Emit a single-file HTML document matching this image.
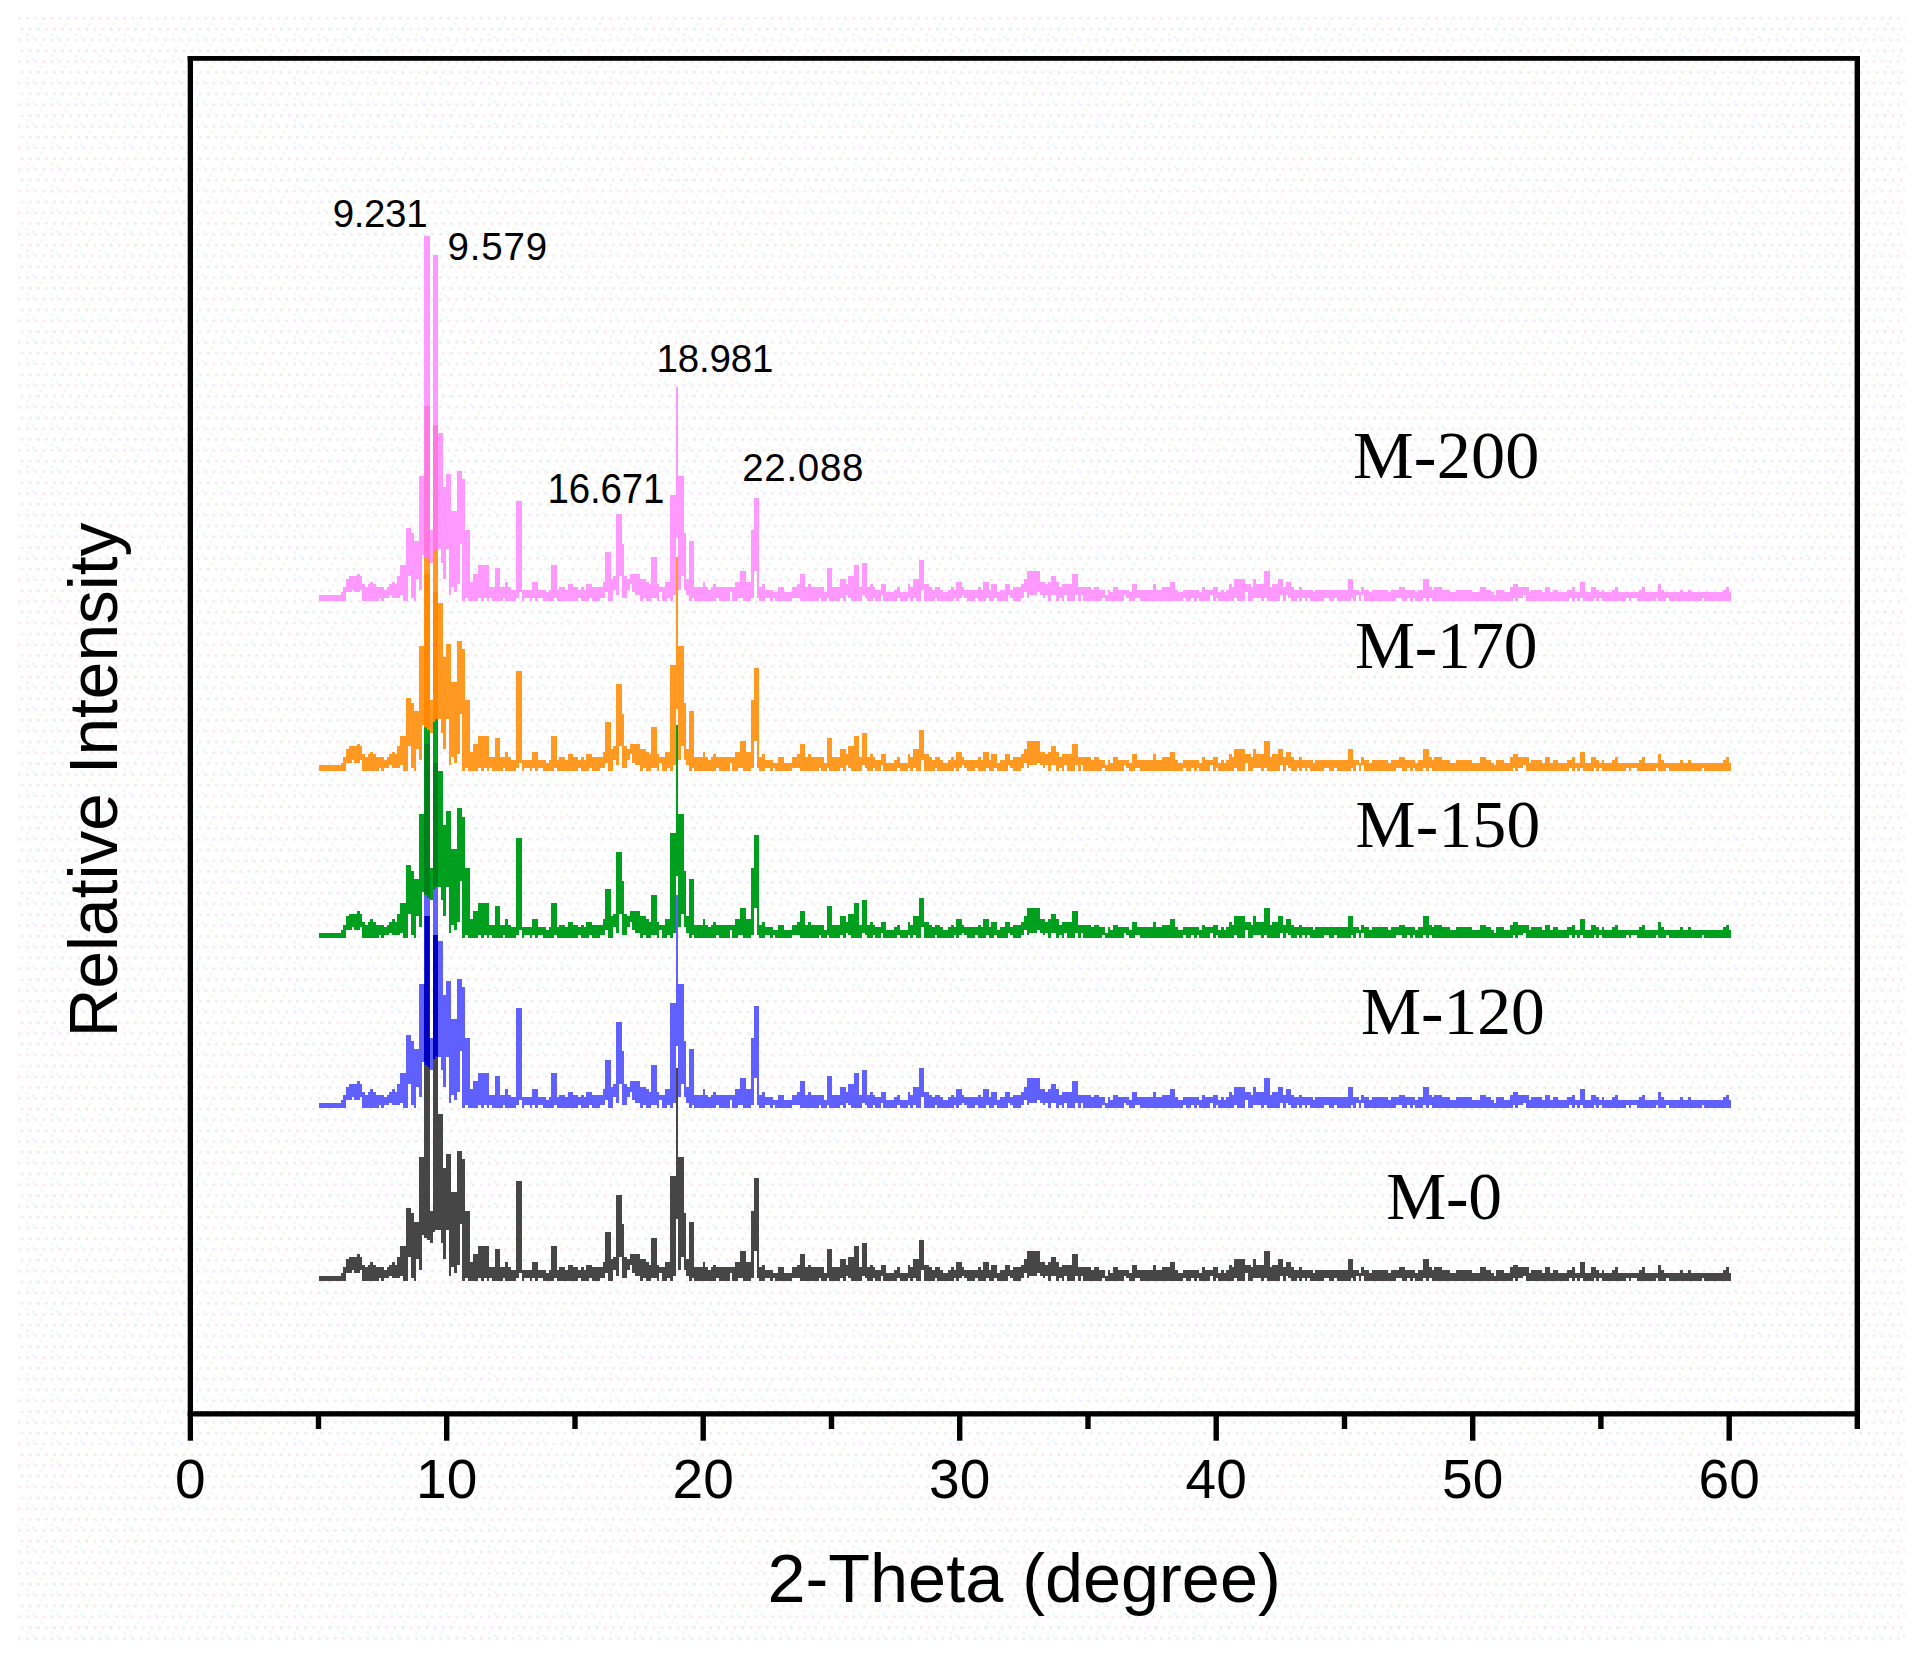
<!DOCTYPE html>
<html><head><meta charset="utf-8"><title>XRD patterns</title><style>html,body{margin:0;padding:0;background:#fff;overflow:hidden}svg{display:block}</style></head><body>
<svg width="1925" height="1662" viewBox="0 0 1925 1662">
<rect width="1925" height="1662" fill="#fff"/>
<defs><pattern id="dots" x="18" y="17" width="24.3" height="21.6" patternUnits="userSpaceOnUse"><rect x="0" y="0" width="2.7" height="2.7" fill="#f9e6f4"/><rect x="8.1" y="0" width="2.7" height="2.7" fill="#f9e6f4"/><rect x="16.2" y="0" width="2.7" height="2.7" fill="#f9e6f4"/><rect x="2.7" y="10.8" width="2.7" height="2.7" fill="#f9e6f4"/><rect x="10.8" y="10.8" width="2.7" height="2.7" fill="#f9e6f4"/><rect x="18.9" y="10.8" width="2.7" height="2.7" fill="#e3eee7"/><rect x="8.1" y="16.2" width="2.7" height="2.7" fill="#f0fbe8"/><rect x="13.5" y="18.9" width="2.7" height="2.7" fill="#e8fbfb"/><rect x="21.6" y="5.4" width="2.7" height="2.7" fill="#f0fbe8"/></pattern></defs>
<rect x="18" y="17" width="1888" height="1625" fill="url(#dots)" shape-rendering="crispEdges"/>
<defs><clipPath id="cp1"><path d="M319.1,1102.7H321.8H324.5H327.2H329.9H332.6H335.3H338.0H340.7V1100.0H343.4V1094.6H346.1V1086.5H348.8V1083.8H351.5H354.2H356.9V1081.1H359.6V1083.8H362.3V1091.9H365.0V1094.6H367.7V1091.9H370.4V1089.2H373.1V1091.9H375.8V1094.6H378.5H381.2H383.9V1097.3H386.6V1094.6H389.3V1091.9H392.0V1089.2H394.7V1091.9H397.4V1083.8H400.1V1073.0H402.8H405.5V1035.2H408.2H410.9V1040.6H413.6V1048.7H416.3H419.0V983.9H421.7H424.4V743.6H427.1H429.8V1037.9H432.5V762.5H435.2H437.9V940.7H440.6H443.3V994.7H446.0V981.2H448.7H451.4V1019.0H454.1H456.8V978.5H459.5H462.2V986.6H464.9V1037.9H467.6H470.3V1089.2H473.0V1081.1H475.7H478.4V1073.0H481.1H483.8H486.5H489.2V1094.6H491.9H494.6V1075.7H497.3H500.0V1094.6H502.7H505.4V1089.2H508.1V1094.6H510.8V1097.3H513.5H516.2V1008.2H518.9H521.6V1097.3H524.3H527.0H529.7H532.4V1089.2H535.1H537.8V1097.3H540.5H543.2H545.9V1100.0H548.6V1097.3H551.3V1073.0H554.0H556.7V1097.3H559.4V1094.6H562.1H564.8V1097.3H567.5V1091.9H570.2H572.9V1094.6H575.6H578.3V1097.3H581.0V1094.6H583.7V1097.3H586.4V1091.9H589.1H591.8V1094.6H594.5H597.2H599.9H602.6V1089.2H605.3V1059.5H608.0H610.7V1086.5H613.4V1083.8H616.1V1021.7H618.8H621.5V1051.4H624.2V1083.8H626.9V1086.5H629.6V1081.1H632.3H635.0H637.7H640.4V1086.5H643.1H645.8V1089.2H648.5V1091.9H651.2V1064.9H653.9H656.6V1091.9H659.3V1094.6H662.0H664.7V1089.2H667.4H670.1V1002.8H672.8H675.5V894.8H678.2V983.9H680.9H683.6V1040.6H686.3V1086.5H689.0V1048.7H691.7H694.4V1094.6H697.1H699.8H702.5V1089.2H705.2V1094.6H707.9V1097.3H710.6V1094.6H713.3V1091.9H716.0V1094.6H718.7H721.4H724.1H726.8H729.5H732.2H734.9V1089.2H737.6H740.3V1078.4H743.0H745.7V1089.2H748.4H751.1V1037.9H753.8V1005.5H756.5H759.2V1094.6H761.9V1091.9H764.6V1097.3H767.3H770.0H772.7V1100.0H775.4H778.1V1094.6H780.8H783.5V1100.0H786.2H788.9H791.6V1094.6H794.3H797.0V1091.9H799.7V1081.1H802.4H805.1V1094.6H807.8V1091.9H810.5V1094.6H813.2H815.9H818.6H821.3H824.0V1100.0H826.7V1075.7H829.4H832.1V1094.6H834.8H837.5H840.2V1086.5H842.9H845.6V1091.9H848.3V1083.8H851.0H853.7V1073.0H856.4H859.1V1094.6H861.8V1070.3H864.5H867.2V1094.6H869.9V1091.9H872.6V1094.6H875.3V1097.3H878.0H880.7V1091.9H883.4H886.1V1100.0H888.8H891.5H894.2V1097.3H896.9V1094.6H899.6V1100.0H902.3H905.0H907.7V1091.9H910.4V1094.6H913.1V1086.5H915.8H918.5V1067.6H921.2H923.9V1091.9H926.6H929.3V1094.6H932.0V1097.3H934.7V1094.6H937.4H940.1V1097.3H942.8V1100.0H945.5H948.2V1097.3H950.9V1094.6H953.6V1097.3H956.3V1089.2H959.0H961.7V1094.6H964.4V1097.3H967.1H969.8H972.5H975.2H977.9V1094.6H980.6V1097.3H983.3V1089.2H986.0H988.7V1097.3H991.4V1091.9H994.1H996.8V1100.0H999.5V1097.3H1002.2H1004.9V1091.9H1007.6H1010.3V1097.3H1013.0V1094.6H1015.7H1018.4H1021.1V1091.9H1023.8V1086.5H1026.5V1078.4H1029.2H1031.9H1034.6H1037.3H1040.0V1089.2H1042.7H1045.4V1091.9H1048.1V1089.2H1050.8V1083.8H1053.5H1056.2V1089.2H1058.9V1094.6H1061.6V1091.9H1064.3H1067.0H1069.7H1072.4V1081.1H1075.1H1077.8V1094.6H1080.5H1083.2H1085.9H1088.6H1091.3V1097.3H1094.0V1094.6H1096.7H1099.4V1097.3H1102.1H1104.8V1102.7H1107.5V1097.3H1110.2V1100.0H1112.9V1094.6H1115.6H1118.3V1097.3H1121.0H1123.7H1126.4H1129.1V1100.0H1131.8V1091.9H1134.5H1137.2V1097.3H1139.9H1142.6H1145.3H1148.0H1150.7H1153.4V1091.9H1156.1V1097.3H1158.8H1161.5V1094.6H1164.2H1166.9H1169.6V1089.2H1172.3H1175.0V1097.3H1177.7V1100.0H1180.4H1183.1V1097.3H1185.8H1188.5H1191.2H1193.9H1196.6H1199.3V1100.0H1202.0V1094.6H1204.7V1097.3H1207.4H1210.1H1212.8V1094.6H1215.5H1218.2V1100.0H1220.9V1097.3H1223.6V1100.0H1226.3V1097.3H1229.0V1091.9H1231.7V1094.6H1234.4V1086.5H1237.1H1239.8H1242.5H1245.2V1091.9H1247.9H1250.6V1094.6H1253.3V1086.5H1256.0V1091.9H1258.7H1261.4H1264.1V1078.4H1266.8H1269.5V1094.6H1272.2V1091.9H1274.9H1277.6V1086.5H1280.3H1283.0V1094.6H1285.7V1089.2H1288.4H1291.1V1094.6H1293.8V1097.3H1296.5H1299.2V1094.6H1301.9V1097.3H1304.6H1307.3H1310.0H1312.7V1100.0H1315.4V1097.3H1318.1H1320.8H1323.5H1326.2H1328.9H1331.6H1334.3H1337.0H1339.7H1342.4H1345.1H1347.8V1086.5H1350.5H1353.2V1097.3H1355.9H1358.6V1100.0H1361.3V1094.6H1364.0V1097.3H1366.7H1369.4V1100.0H1372.1V1097.3H1374.8H1377.5H1380.2H1382.9H1385.6H1388.3V1100.0H1391.0V1097.3H1393.7H1396.4H1399.1V1094.6H1401.8H1404.5V1097.3H1407.2H1409.9H1412.6H1415.3V1100.0H1418.0V1097.3H1420.7H1423.4V1086.5H1426.1H1428.8V1094.6H1431.5V1097.3H1434.2V1094.6H1436.9H1439.6H1442.3V1097.3H1445.0H1447.7H1450.4V1100.0H1453.1H1455.8V1097.3H1458.5H1461.2H1463.9H1466.6H1469.3H1472.0V1100.0H1474.7H1477.4H1480.1V1094.6H1482.8H1485.5V1097.3H1488.2H1490.9V1100.0H1493.6V1102.7H1496.3V1097.3H1499.0H1501.7H1504.4V1100.0H1507.1H1509.8V1094.6H1512.5V1091.9H1515.2H1517.9V1094.6H1520.6H1523.3H1526.0H1528.7V1100.0H1531.4V1097.3H1534.1H1536.8H1539.5H1542.2V1100.0H1544.9V1094.6H1547.6H1550.3V1100.0H1553.0V1097.3H1555.7H1558.4V1100.0H1561.1H1563.8H1566.5V1097.3H1569.2H1571.9V1094.6H1574.6V1100.0H1577.3H1580.0V1089.2H1582.7H1585.4V1100.0H1588.1H1590.8V1094.6H1593.5H1596.2V1097.3H1598.9V1100.0H1601.6V1097.3H1604.3V1100.0H1607.0H1609.7H1612.4V1097.3H1615.1V1094.6H1617.8V1100.0H1620.5H1623.2H1625.9H1628.6H1631.3H1634.0H1636.7H1639.4V1097.3H1642.1V1094.6H1644.8V1100.0H1647.5H1650.2H1652.9H1655.6H1658.3V1091.9H1661.0V1097.3H1663.7V1100.0H1666.4H1669.1H1671.8H1674.5H1677.2H1679.9V1097.3H1682.6V1100.0H1685.3H1688.0V1097.3H1690.7V1100.0H1693.4H1696.1H1698.8H1701.5H1704.2H1706.9H1709.6H1712.3H1715.0H1717.7H1720.4H1723.1V1097.3H1725.8V1094.6H1728.5V1100.0H1731.2V1108.1H1728.5H1725.8H1723.1H1720.4H1717.7H1715.0H1712.3H1709.6H1706.9H1704.2V1105.4H1701.5V1108.1H1698.8H1696.1H1693.4H1690.7H1688.0H1685.3H1682.6H1679.9H1677.2H1674.5H1671.8H1669.1V1105.4H1666.4V1108.1H1663.7H1661.0H1658.3V1105.4H1655.6V1108.1H1652.9H1650.2H1647.5H1644.8H1642.1H1639.4H1636.7V1105.4H1634.0H1631.3V1108.1H1628.6V1105.4H1625.9V1108.1H1623.2H1620.5H1617.8H1615.1H1612.4H1609.7H1607.0H1604.3H1601.6V1105.4H1598.9V1108.1H1596.2V1105.4H1593.5V1108.1H1590.8H1588.1H1585.4H1582.7V1105.4H1580.0V1108.1H1577.3V1105.4H1574.6V1108.1H1571.9V1105.4H1569.2V1108.1H1566.5H1563.8H1561.1H1558.4H1555.7H1553.0H1550.3H1547.6H1544.9H1542.2H1539.5H1536.8H1534.1H1531.4H1528.7H1526.0V1102.7H1523.3V1105.4H1520.6H1517.9V1108.1H1515.2V1105.4H1512.5V1108.1H1509.8H1507.1H1504.4H1501.7H1499.0H1496.3H1493.6H1490.9H1488.2H1485.5H1482.8H1480.1H1477.4H1474.7H1472.0H1469.3H1466.6H1463.9H1461.2H1458.5H1455.8H1453.1H1450.4H1447.7H1445.0H1442.3H1439.6H1436.9H1434.2H1431.5V1105.4H1428.8V1108.1H1426.1V1105.4H1423.4V1108.1H1420.7H1418.0H1415.3V1105.4H1412.6V1108.1H1409.9V1105.4H1407.2V1108.1H1404.5H1401.8V1105.4H1399.1H1396.4V1108.1H1393.7H1391.0H1388.3H1385.6H1382.9H1380.2H1377.5H1374.8H1372.1H1369.4H1366.7H1364.0V1102.7H1361.3V1108.1H1358.6V1102.7H1355.9V1108.1H1353.2V1105.4H1350.5V1108.1H1347.8H1345.1H1342.4H1339.7H1337.0V1105.4H1334.3V1108.1H1331.6H1328.9V1105.4H1326.2H1323.5V1108.1H1320.8H1318.1H1315.4H1312.7H1310.0V1105.4H1307.3V1108.1H1304.6V1105.4H1301.9V1108.1H1299.2V1105.4H1296.5V1108.1H1293.8H1291.1V1105.4H1288.4V1102.7H1285.7V1108.1H1283.0V1102.7H1280.3V1108.1H1277.6H1274.9H1272.2H1269.5H1266.8V1105.4H1264.1V1108.1H1261.4V1105.4H1258.7H1256.0H1253.3V1108.1H1250.6H1247.9V1100.0H1245.2V1108.1H1242.5H1239.8H1237.1V1105.4H1234.4V1108.1H1231.7H1229.0H1226.3H1223.6H1220.9H1218.2V1105.4H1215.5V1108.1H1212.8V1102.7H1210.1V1108.1H1207.4H1204.7H1202.0H1199.3V1105.4H1196.6V1108.1H1193.9V1105.4H1191.2V1108.1H1188.5H1185.8V1105.4H1183.1V1108.1H1180.4H1177.7H1175.0H1172.3H1169.6H1166.9H1164.2H1161.5H1158.8H1156.1H1153.4H1150.7H1148.0H1145.3H1142.6H1139.9V1105.4H1137.2H1134.5V1108.1H1131.8H1129.1V1105.4H1126.4V1102.7H1123.7V1108.1H1121.0H1118.3H1115.6H1112.9H1110.2H1107.5H1104.8V1105.4H1102.1V1108.1H1099.4H1096.7H1094.0H1091.3H1088.6H1085.9H1083.2V1102.7H1080.5V1108.1H1077.8V1102.7H1075.1V1108.1H1072.4H1069.7H1067.0V1102.7H1064.3V1108.1H1061.6V1105.4H1058.9V1108.1H1056.2V1102.7H1053.5H1050.8V1108.1H1048.1V1102.7H1045.4V1105.4H1042.7V1102.7H1040.0V1100.0H1037.3V1102.7H1034.6H1031.9H1029.2V1105.4H1026.5V1100.0H1023.8V1105.4H1021.1V1108.1H1018.4H1015.7H1013.0V1105.4H1010.3V1102.7H1007.6V1108.1H1004.9H1002.2H999.5H996.8V1105.4H994.1V1108.1H991.4H988.7V1105.4H986.0V1108.1H983.3H980.6H977.9V1105.4H975.2V1108.1H972.5H969.8H967.1V1105.4H964.4V1102.7H961.7V1105.4H959.0V1108.1H956.3V1105.4H953.6V1108.1H950.9H948.2H945.5H942.8H940.1H937.4V1105.4H934.7V1108.1H932.0H929.3H926.6H923.9V1097.3H921.2V1108.1H918.5H915.8V1105.4H913.1V1108.1H910.4V1105.4H907.7V1108.1H905.0H902.3H899.6V1105.4H896.9V1108.1H894.2H891.5H888.8H886.1H883.4V1102.7H880.7V1108.1H878.0H875.3V1105.4H872.6V1108.1H869.9H867.2V1105.4H864.5V1102.7H861.8V1108.1H859.1H856.4H853.7H851.0V1105.4H848.3V1102.7H845.6V1108.1H842.9V1105.4H840.2V1108.1H837.5H834.8H832.1H829.4V1105.4H826.7V1108.1H824.0H821.3V1105.4H818.6V1108.1H815.9H813.2H810.5H807.8H805.1H802.4H799.7V1105.4H797.0H794.3H791.6V1108.1H788.9H786.2H783.5H780.8H778.1H775.4V1105.4H772.7V1108.1H770.0V1105.4H767.3H764.6V1108.1H761.9H759.2V1105.4H756.5V1078.4H753.8V1105.4H751.1V1108.1H748.4H745.7H743.0V1105.4H740.3H737.6V1108.1H734.9H732.2V1100.0H729.5V1108.1H726.8H724.1H721.4H718.7V1105.4H716.0V1108.1H713.3H710.6H707.9H705.2H702.5H699.8H697.1H694.4V1105.4H691.7V1108.1H689.0V1102.7H686.3V1097.3H683.6V1083.8H680.9V1097.3H678.2V1046.0H675.5V1102.7H672.8V1108.1H670.1V1105.4H667.4V1108.1H664.7H662.0V1100.0H659.3V1108.1H656.6V1105.4H653.9H651.2V1108.1H648.5H645.8V1105.4H643.1V1108.1H640.4V1102.7H637.7H635.0V1100.0H632.3V1091.9H629.6V1097.3H626.9V1105.4H624.2H621.5V1083.8H618.8V1102.7H616.1V1097.3H613.4V1108.1H610.7H608.0V1100.0H605.3V1105.4H602.6H599.9V1108.1H597.2H594.5H591.8V1105.4H589.1V1108.1H586.4H583.7H581.0V1105.4H578.3V1108.1H575.6H572.9H570.2H567.5H564.8H562.1H559.4H556.7V1105.4H554.0V1108.1H551.3H548.6H545.9H543.2V1105.4H540.5H537.8V1108.1H535.1V1105.4H532.4V1108.1H529.7V1105.4H527.0H524.3V1108.1H521.6V1100.0H518.9V1105.4H516.2V1108.1H513.5H510.8H508.1H505.4V1105.4H502.7V1108.1H500.0H497.3H494.6H491.9V1105.4H489.2V1108.1H486.5V1105.4H483.8V1108.1H481.1V1105.4H478.4V1108.1H475.7H473.0H470.3H467.6V1105.4H464.9V1108.1H462.2V1051.4H459.5V1091.9H456.8V1100.0H454.1V1094.6H451.4V1102.7H448.7V1056.8H446.0V1086.5H443.3V1070.3H440.6V1056.8H437.9H435.2V1059.5H432.5V1070.3H429.8V1067.6H427.1V1064.9H424.4V1062.2H421.7V1097.3H419.0V1086.5H416.3V1108.1H413.6V1105.4H410.9V1083.8H408.2V1108.1H405.5H402.8V1102.7H400.1V1105.4H397.4H394.7H392.0V1102.7H389.3V1105.4H386.6H383.9V1108.1H381.2V1105.4H378.5V1108.1H375.8H373.1H370.4H367.7H365.0H362.3V1097.3H359.6V1100.0H356.9H354.2V1097.3H351.5V1100.0H348.8H346.1V1108.1H343.4H340.7H338.0H335.3H332.6H329.9H327.2H324.5H321.8H319.1Z"/></clipPath><clipPath id="cp2"><path d="M319.1,932.6H321.8H324.5H327.2H329.9H332.6H335.3H338.0H340.7V929.9H343.4V924.5H346.1V916.4H348.8V913.7H351.5H354.2H356.9V911.0H359.6V913.7H362.3V921.8H365.0V924.5H367.7V921.8H370.4V919.1H373.1V921.8H375.8V924.5H378.5H381.2H383.9V927.2H386.6V924.5H389.3V921.8H392.0V919.1H394.7V921.8H397.4V913.7H400.1V902.9H402.8H405.5V865.1H408.2H410.9V870.5H413.6V878.6H416.3H419.0V813.8H421.7H424.4V573.5H427.1H429.8V867.8H432.5V592.4H435.2H437.9V770.6H440.6H443.3V824.6H446.0V811.1H448.7H451.4V848.9H454.1H456.8V808.4H459.5H462.2V816.5H464.9V867.8H467.6H470.3V919.1H473.0V911.0H475.7H478.4V902.9H481.1H483.8H486.5H489.2V924.5H491.9H494.6V905.6H497.3H500.0V924.5H502.7H505.4V919.1H508.1V924.5H510.8V927.2H513.5H516.2V838.1H518.9H521.6V927.2H524.3H527.0H529.7H532.4V919.1H535.1H537.8V927.2H540.5H543.2H545.9V929.9H548.6V927.2H551.3V902.9H554.0H556.7V927.2H559.4V924.5H562.1H564.8V927.2H567.5V921.8H570.2H572.9V924.5H575.6H578.3V927.2H581.0V924.5H583.7V927.2H586.4V921.8H589.1H591.8V924.5H594.5H597.2H599.9H602.6V919.1H605.3V889.4H608.0H610.7V916.4H613.4V913.7H616.1V851.6H618.8H621.5V881.3H624.2V913.7H626.9V916.4H629.6V911.0H632.3H635.0H637.7H640.4V916.4H643.1H645.8V919.1H648.5V921.8H651.2V894.8H653.9H656.6V921.8H659.3V924.5H662.0H664.7V919.1H667.4H670.1V832.7H672.8H675.5V724.7H678.2V813.8H680.9H683.6V870.5H686.3V916.4H689.0V878.6H691.7H694.4V924.5H697.1H699.8H702.5V919.1H705.2V924.5H707.9V927.2H710.6V924.5H713.3V921.8H716.0V924.5H718.7H721.4H724.1H726.8H729.5H732.2H734.9V919.1H737.6H740.3V908.3H743.0H745.7V919.1H748.4H751.1V867.8H753.8V835.4H756.5H759.2V924.5H761.9V921.8H764.6V927.2H767.3H770.0H772.7V929.9H775.4H778.1V924.5H780.8H783.5V929.9H786.2H788.9H791.6V924.5H794.3H797.0V921.8H799.7V911.0H802.4H805.1V924.5H807.8V921.8H810.5V924.5H813.2H815.9H818.6H821.3H824.0V929.9H826.7V905.6H829.4H832.1V924.5H834.8H837.5H840.2V916.4H842.9H845.6V921.8H848.3V913.7H851.0H853.7V902.9H856.4H859.1V924.5H861.8V900.2H864.5H867.2V924.5H869.9V921.8H872.6V924.5H875.3V927.2H878.0H880.7V921.8H883.4H886.1V929.9H888.8H891.5H894.2V927.2H896.9V924.5H899.6V929.9H902.3H905.0H907.7V921.8H910.4V924.5H913.1V916.4H915.8H918.5V897.5H921.2H923.9V921.8H926.6H929.3V924.5H932.0V927.2H934.7V924.5H937.4H940.1V927.2H942.8V929.9H945.5H948.2V927.2H950.9V924.5H953.6V927.2H956.3V919.1H959.0H961.7V924.5H964.4V927.2H967.1H969.8H972.5H975.2H977.9V924.5H980.6V927.2H983.3V919.1H986.0H988.7V927.2H991.4V921.8H994.1H996.8V929.9H999.5V927.2H1002.2H1004.9V921.8H1007.6H1010.3V927.2H1013.0V924.5H1015.7H1018.4H1021.1V921.8H1023.8V916.4H1026.5V908.3H1029.2H1031.9H1034.6H1037.3H1040.0V919.1H1042.7H1045.4V921.8H1048.1V919.1H1050.8V913.7H1053.5H1056.2V919.1H1058.9V924.5H1061.6V921.8H1064.3H1067.0H1069.7H1072.4V911.0H1075.1H1077.8V924.5H1080.5H1083.2H1085.9H1088.6H1091.3V927.2H1094.0V924.5H1096.7H1099.4V927.2H1102.1H1104.8V932.6H1107.5V927.2H1110.2V929.9H1112.9V924.5H1115.6H1118.3V927.2H1121.0H1123.7H1126.4H1129.1V929.9H1131.8V921.8H1134.5H1137.2V927.2H1139.9H1142.6H1145.3H1148.0H1150.7H1153.4V921.8H1156.1V927.2H1158.8H1161.5V924.5H1164.2H1166.9H1169.6V919.1H1172.3H1175.0V927.2H1177.7V929.9H1180.4H1183.1V927.2H1185.8H1188.5H1191.2H1193.9H1196.6H1199.3V929.9H1202.0V924.5H1204.7V927.2H1207.4H1210.1H1212.8V924.5H1215.5H1218.2V929.9H1220.9V927.2H1223.6V929.9H1226.3V927.2H1229.0V921.8H1231.7V924.5H1234.4V916.4H1237.1H1239.8H1242.5H1245.2V921.8H1247.9H1250.6V924.5H1253.3V916.4H1256.0V921.8H1258.7H1261.4H1264.1V908.3H1266.8H1269.5V924.5H1272.2V921.8H1274.9H1277.6V916.4H1280.3H1283.0V924.5H1285.7V919.1H1288.4H1291.1V924.5H1293.8V927.2H1296.5H1299.2V924.5H1301.9V927.2H1304.6H1307.3H1310.0H1312.7V929.9H1315.4V927.2H1318.1H1320.8H1323.5H1326.2H1328.9H1331.6H1334.3H1337.0H1339.7H1342.4H1345.1H1347.8V916.4H1350.5H1353.2V927.2H1355.9H1358.6V929.9H1361.3V924.5H1364.0V927.2H1366.7H1369.4V929.9H1372.1V927.2H1374.8H1377.5H1380.2H1382.9H1385.6H1388.3V929.9H1391.0V927.2H1393.7H1396.4H1399.1V924.5H1401.8H1404.5V927.2H1407.2H1409.9H1412.6H1415.3V929.9H1418.0V927.2H1420.7H1423.4V916.4H1426.1H1428.8V924.5H1431.5V927.2H1434.2V924.5H1436.9H1439.6H1442.3V927.2H1445.0H1447.7H1450.4V929.9H1453.1H1455.8V927.2H1458.5H1461.2H1463.9H1466.6H1469.3H1472.0V929.9H1474.7H1477.4H1480.1V924.5H1482.8H1485.5V927.2H1488.2H1490.9V929.9H1493.6V932.6H1496.3V927.2H1499.0H1501.7H1504.4V929.9H1507.1H1509.8V924.5H1512.5V921.8H1515.2H1517.9V924.5H1520.6H1523.3H1526.0H1528.7V929.9H1531.4V927.2H1534.1H1536.8H1539.5H1542.2V929.9H1544.9V924.5H1547.6H1550.3V929.9H1553.0V927.2H1555.7H1558.4V929.9H1561.1H1563.8H1566.5V927.2H1569.2H1571.9V924.5H1574.6V929.9H1577.3H1580.0V919.1H1582.7H1585.4V929.9H1588.1H1590.8V924.5H1593.5H1596.2V927.2H1598.9V929.9H1601.6V927.2H1604.3V929.9H1607.0H1609.7H1612.4V927.2H1615.1V924.5H1617.8V929.9H1620.5H1623.2H1625.9H1628.6H1631.3H1634.0H1636.7H1639.4V927.2H1642.1V924.5H1644.8V929.9H1647.5H1650.2H1652.9H1655.6H1658.3V921.8H1661.0V927.2H1663.7V929.9H1666.4H1669.1H1671.8H1674.5H1677.2H1679.9V927.2H1682.6V929.9H1685.3H1688.0V927.2H1690.7V929.9H1693.4H1696.1H1698.8H1701.5H1704.2H1706.9H1709.6H1712.3H1715.0H1717.7H1720.4H1723.1V927.2H1725.8V924.5H1728.5V929.9H1731.2V938.0H1728.5H1725.8H1723.1H1720.4H1717.7H1715.0H1712.3H1709.6H1706.9H1704.2V935.3H1701.5V938.0H1698.8H1696.1H1693.4H1690.7H1688.0H1685.3H1682.6H1679.9H1677.2H1674.5H1671.8H1669.1V935.3H1666.4V938.0H1663.7H1661.0H1658.3V935.3H1655.6V938.0H1652.9H1650.2H1647.5H1644.8H1642.1H1639.4H1636.7V935.3H1634.0H1631.3V938.0H1628.6V935.3H1625.9V938.0H1623.2H1620.5H1617.8H1615.1H1612.4H1609.7H1607.0H1604.3H1601.6V935.3H1598.9V938.0H1596.2V935.3H1593.5V938.0H1590.8H1588.1H1585.4H1582.7V935.3H1580.0V938.0H1577.3V935.3H1574.6V938.0H1571.9V935.3H1569.2V938.0H1566.5H1563.8H1561.1H1558.4H1555.7H1553.0H1550.3H1547.6H1544.9H1542.2H1539.5H1536.8H1534.1H1531.4H1528.7H1526.0V932.6H1523.3V935.3H1520.6H1517.9V938.0H1515.2V935.3H1512.5V938.0H1509.8H1507.1H1504.4H1501.7H1499.0H1496.3H1493.6H1490.9H1488.2H1485.5H1482.8H1480.1H1477.4H1474.7H1472.0H1469.3H1466.6H1463.9H1461.2H1458.5H1455.8H1453.1H1450.4H1447.7H1445.0H1442.3H1439.6H1436.9H1434.2H1431.5V935.3H1428.8V938.0H1426.1V935.3H1423.4V938.0H1420.7H1418.0H1415.3V935.3H1412.6V938.0H1409.9V935.3H1407.2V938.0H1404.5H1401.8V935.3H1399.1H1396.4V938.0H1393.7H1391.0H1388.3H1385.6H1382.9H1380.2H1377.5H1374.8H1372.1H1369.4H1366.7H1364.0V932.6H1361.3V938.0H1358.6V932.6H1355.9V938.0H1353.2V935.3H1350.5V938.0H1347.8H1345.1H1342.4H1339.7H1337.0V935.3H1334.3V938.0H1331.6H1328.9V935.3H1326.2H1323.5V938.0H1320.8H1318.1H1315.4H1312.7H1310.0V935.3H1307.3V938.0H1304.6V935.3H1301.9V938.0H1299.2V935.3H1296.5V938.0H1293.8H1291.1V935.3H1288.4V932.6H1285.7V938.0H1283.0V932.6H1280.3V938.0H1277.6H1274.9H1272.2H1269.5H1266.8V935.3H1264.1V938.0H1261.4V935.3H1258.7H1256.0H1253.3V938.0H1250.6H1247.9V929.9H1245.2V938.0H1242.5H1239.8H1237.1V935.3H1234.4V938.0H1231.7H1229.0H1226.3H1223.6H1220.9H1218.2V935.3H1215.5V938.0H1212.8V932.6H1210.1V938.0H1207.4H1204.7H1202.0H1199.3V935.3H1196.6V938.0H1193.9V935.3H1191.2V938.0H1188.5H1185.8V935.3H1183.1V938.0H1180.4H1177.7H1175.0H1172.3H1169.6H1166.9H1164.2H1161.5H1158.8H1156.1H1153.4H1150.7H1148.0H1145.3H1142.6H1139.9V935.3H1137.2H1134.5V938.0H1131.8H1129.1V935.3H1126.4V932.6H1123.7V938.0H1121.0H1118.3H1115.6H1112.9H1110.2H1107.5H1104.8V935.3H1102.1V938.0H1099.4H1096.7H1094.0H1091.3H1088.6H1085.9H1083.2V932.6H1080.5V938.0H1077.8V932.6H1075.1V938.0H1072.4H1069.7H1067.0V932.6H1064.3V938.0H1061.6V935.3H1058.9V938.0H1056.2V932.6H1053.5H1050.8V938.0H1048.1V932.6H1045.4V935.3H1042.7V932.6H1040.0V929.9H1037.3V932.6H1034.6H1031.9H1029.2V935.3H1026.5V929.9H1023.8V935.3H1021.1V938.0H1018.4H1015.7H1013.0V935.3H1010.3V932.6H1007.6V938.0H1004.9H1002.2H999.5H996.8V935.3H994.1V938.0H991.4H988.7V935.3H986.0V938.0H983.3H980.6H977.9V935.3H975.2V938.0H972.5H969.8H967.1V935.3H964.4V932.6H961.7V935.3H959.0V938.0H956.3V935.3H953.6V938.0H950.9H948.2H945.5H942.8H940.1H937.4V935.3H934.7V938.0H932.0H929.3H926.6H923.9V927.2H921.2V938.0H918.5H915.8V935.3H913.1V938.0H910.4V935.3H907.7V938.0H905.0H902.3H899.6V935.3H896.9V938.0H894.2H891.5H888.8H886.1H883.4V932.6H880.7V938.0H878.0H875.3V935.3H872.6V938.0H869.9H867.2V935.3H864.5V932.6H861.8V938.0H859.1H856.4H853.7H851.0V935.3H848.3V932.6H845.6V938.0H842.9V935.3H840.2V938.0H837.5H834.8H832.1H829.4V935.3H826.7V938.0H824.0H821.3V935.3H818.6V938.0H815.9H813.2H810.5H807.8H805.1H802.4H799.7V935.3H797.0H794.3H791.6V938.0H788.9H786.2H783.5H780.8H778.1H775.4V935.3H772.7V938.0H770.0V935.3H767.3H764.6V938.0H761.9H759.2V935.3H756.5V908.3H753.8V935.3H751.1V938.0H748.4H745.7H743.0V935.3H740.3H737.6V938.0H734.9H732.2V929.9H729.5V938.0H726.8H724.1H721.4H718.7V935.3H716.0V938.0H713.3H710.6H707.9H705.2H702.5H699.8H697.1H694.4V935.3H691.7V938.0H689.0V932.6H686.3V927.2H683.6V913.7H680.9V927.2H678.2V875.9H675.5V932.6H672.8V938.0H670.1V935.3H667.4V938.0H664.7H662.0V929.9H659.3V938.0H656.6V935.3H653.9H651.2V938.0H648.5H645.8V935.3H643.1V938.0H640.4V932.6H637.7H635.0V929.9H632.3V921.8H629.6V927.2H626.9V935.3H624.2H621.5V913.7H618.8V932.6H616.1V927.2H613.4V938.0H610.7H608.0V929.9H605.3V935.3H602.6H599.9V938.0H597.2H594.5H591.8V935.3H589.1V938.0H586.4H583.7H581.0V935.3H578.3V938.0H575.6H572.9H570.2H567.5H564.8H562.1H559.4H556.7V935.3H554.0V938.0H551.3H548.6H545.9H543.2V935.3H540.5H537.8V938.0H535.1V935.3H532.4V938.0H529.7V935.3H527.0H524.3V938.0H521.6V929.9H518.9V935.3H516.2V938.0H513.5H510.8H508.1H505.4V935.3H502.7V938.0H500.0H497.3H494.6H491.9V935.3H489.2V938.0H486.5V935.3H483.8V938.0H481.1V935.3H478.4V938.0H475.7H473.0H470.3H467.6V935.3H464.9V938.0H462.2V881.3H459.5V921.8H456.8V929.9H454.1V924.5H451.4V932.6H448.7V886.7H446.0V916.4H443.3V900.2H440.6V886.7H437.9H435.2V889.4H432.5V900.2H429.8V897.5H427.1V894.8H424.4V892.1H421.7V927.2H419.0V916.4H416.3V938.0H413.6V935.3H410.9V913.7H408.2V938.0H405.5H402.8V932.6H400.1V935.3H397.4H394.7H392.0V932.6H389.3V935.3H386.6H383.9V938.0H381.2V935.3H378.5V938.0H375.8H373.1H370.4H367.7H365.0H362.3V927.2H359.6V929.9H356.9H354.2V927.2H351.5V929.9H348.8H346.1V938.0H343.4H340.7H338.0H335.3H332.6H329.9H327.2H324.5H321.8H319.1Z"/></clipPath><clipPath id="cp3"><path d="M319.1,765.2H321.8H324.5H327.2H329.9H332.6H335.3H338.0H340.7V762.5H343.4V757.1H346.1V749.0H348.8V746.3H351.5H354.2H356.9V743.6H359.6V746.3H362.3V754.4H365.0V757.1H367.7V754.4H370.4V751.7H373.1V754.4H375.8V757.1H378.5H381.2H383.9V759.8H386.6V757.1H389.3V754.4H392.0V751.7H394.7V754.4H397.4V746.3H400.1V735.5H402.8H405.5V697.7H408.2H410.9V703.1H413.6V711.2H416.3H419.0V646.4H421.7H424.4V406.1H427.1H429.8V700.4H432.5V425.0H435.2H437.9V603.2H440.6H443.3V657.2H446.0V643.7H448.7H451.4V681.5H454.1H456.8V641.0H459.5H462.2V649.1H464.9V700.4H467.6H470.3V751.7H473.0V743.6H475.7H478.4V735.5H481.1H483.8H486.5H489.2V757.1H491.9H494.6V738.2H497.3H500.0V757.1H502.7H505.4V751.7H508.1V757.1H510.8V759.8H513.5H516.2V670.7H518.9H521.6V759.8H524.3H527.0H529.7H532.4V751.7H535.1H537.8V759.8H540.5H543.2H545.9V762.5H548.6V759.8H551.3V735.5H554.0H556.7V759.8H559.4V757.1H562.1H564.8V759.8H567.5V754.4H570.2H572.9V757.1H575.6H578.3V759.8H581.0V757.1H583.7V759.8H586.4V754.4H589.1H591.8V757.1H594.5H597.2H599.9H602.6V751.7H605.3V722.0H608.0H610.7V749.0H613.4V746.3H616.1V684.2H618.8H621.5V713.9H624.2V746.3H626.9V749.0H629.6V743.6H632.3H635.0H637.7H640.4V749.0H643.1H645.8V751.7H648.5V754.4H651.2V727.4H653.9H656.6V754.4H659.3V757.1H662.0H664.7V751.7H667.4H670.1V665.3H672.8H675.5V557.3H678.2V646.4H680.9H683.6V703.1H686.3V749.0H689.0V711.2H691.7H694.4V757.1H697.1H699.8H702.5V751.7H705.2V757.1H707.9V759.8H710.6V757.1H713.3V754.4H716.0V757.1H718.7H721.4H724.1H726.8H729.5H732.2H734.9V751.7H737.6H740.3V740.9H743.0H745.7V751.7H748.4H751.1V700.4H753.8V668.0H756.5H759.2V757.1H761.9V754.4H764.6V759.8H767.3H770.0H772.7V762.5H775.4H778.1V757.1H780.8H783.5V762.5H786.2H788.9H791.6V757.1H794.3H797.0V754.4H799.7V743.6H802.4H805.1V757.1H807.8V754.4H810.5V757.1H813.2H815.9H818.6H821.3H824.0V762.5H826.7V738.2H829.4H832.1V757.1H834.8H837.5H840.2V749.0H842.9H845.6V754.4H848.3V746.3H851.0H853.7V735.5H856.4H859.1V757.1H861.8V732.8H864.5H867.2V757.1H869.9V754.4H872.6V757.1H875.3V759.8H878.0H880.7V754.4H883.4H886.1V762.5H888.8H891.5H894.2V759.8H896.9V757.1H899.6V762.5H902.3H905.0H907.7V754.4H910.4V757.1H913.1V749.0H915.8H918.5V730.1H921.2H923.9V754.4H926.6H929.3V757.1H932.0V759.8H934.7V757.1H937.4H940.1V759.8H942.8V762.5H945.5H948.2V759.8H950.9V757.1H953.6V759.8H956.3V751.7H959.0H961.7V757.1H964.4V759.8H967.1H969.8H972.5H975.2H977.9V757.1H980.6V759.8H983.3V751.7H986.0H988.7V759.8H991.4V754.4H994.1H996.8V762.5H999.5V759.8H1002.2H1004.9V754.4H1007.6H1010.3V759.8H1013.0V757.1H1015.7H1018.4H1021.1V754.4H1023.8V749.0H1026.5V740.9H1029.2H1031.9H1034.6H1037.3H1040.0V751.7H1042.7H1045.4V754.4H1048.1V751.7H1050.8V746.3H1053.5H1056.2V751.7H1058.9V757.1H1061.6V754.4H1064.3H1067.0H1069.7H1072.4V743.6H1075.1H1077.8V757.1H1080.5H1083.2H1085.9H1088.6H1091.3V759.8H1094.0V757.1H1096.7H1099.4V759.8H1102.1H1104.8V765.2H1107.5V759.8H1110.2V762.5H1112.9V757.1H1115.6H1118.3V759.8H1121.0H1123.7H1126.4H1129.1V762.5H1131.8V754.4H1134.5H1137.2V759.8H1139.9H1142.6H1145.3H1148.0H1150.7H1153.4V754.4H1156.1V759.8H1158.8H1161.5V757.1H1164.2H1166.9H1169.6V751.7H1172.3H1175.0V759.8H1177.7V762.5H1180.4H1183.1V759.8H1185.8H1188.5H1191.2H1193.9H1196.6H1199.3V762.5H1202.0V757.1H1204.7V759.8H1207.4H1210.1H1212.8V757.1H1215.5H1218.2V762.5H1220.9V759.8H1223.6V762.5H1226.3V759.8H1229.0V754.4H1231.7V757.1H1234.4V749.0H1237.1H1239.8H1242.5H1245.2V754.4H1247.9H1250.6V757.1H1253.3V749.0H1256.0V754.4H1258.7H1261.4H1264.1V740.9H1266.8H1269.5V757.1H1272.2V754.4H1274.9H1277.6V749.0H1280.3H1283.0V757.1H1285.7V751.7H1288.4H1291.1V757.1H1293.8V759.8H1296.5H1299.2V757.1H1301.9V759.8H1304.6H1307.3H1310.0H1312.7V762.5H1315.4V759.8H1318.1H1320.8H1323.5H1326.2H1328.9H1331.6H1334.3H1337.0H1339.7H1342.4H1345.1H1347.8V749.0H1350.5H1353.2V759.8H1355.9H1358.6V762.5H1361.3V757.1H1364.0V759.8H1366.7H1369.4V762.5H1372.1V759.8H1374.8H1377.5H1380.2H1382.9H1385.6H1388.3V762.5H1391.0V759.8H1393.7H1396.4H1399.1V757.1H1401.8H1404.5V759.8H1407.2H1409.9H1412.6H1415.3V762.5H1418.0V759.8H1420.7H1423.4V749.0H1426.1H1428.8V757.1H1431.5V759.8H1434.2V757.1H1436.9H1439.6H1442.3V759.8H1445.0H1447.7H1450.4V762.5H1453.1H1455.8V759.8H1458.5H1461.2H1463.9H1466.6H1469.3H1472.0V762.5H1474.7H1477.4H1480.1V757.1H1482.8H1485.5V759.8H1488.2H1490.9V762.5H1493.6V765.2H1496.3V759.8H1499.0H1501.7H1504.4V762.5H1507.1H1509.8V757.1H1512.5V754.4H1515.2H1517.9V757.1H1520.6H1523.3H1526.0H1528.7V762.5H1531.4V759.8H1534.1H1536.8H1539.5H1542.2V762.5H1544.9V757.1H1547.6H1550.3V762.5H1553.0V759.8H1555.7H1558.4V762.5H1561.1H1563.8H1566.5V759.8H1569.2H1571.9V757.1H1574.6V762.5H1577.3H1580.0V751.7H1582.7H1585.4V762.5H1588.1H1590.8V757.1H1593.5H1596.2V759.8H1598.9V762.5H1601.6V759.8H1604.3V762.5H1607.0H1609.7H1612.4V759.8H1615.1V757.1H1617.8V762.5H1620.5H1623.2H1625.9H1628.6H1631.3H1634.0H1636.7H1639.4V759.8H1642.1V757.1H1644.8V762.5H1647.5H1650.2H1652.9H1655.6H1658.3V754.4H1661.0V759.8H1663.7V762.5H1666.4H1669.1H1671.8H1674.5H1677.2H1679.9V759.8H1682.6V762.5H1685.3H1688.0V759.8H1690.7V762.5H1693.4H1696.1H1698.8H1701.5H1704.2H1706.9H1709.6H1712.3H1715.0H1717.7H1720.4H1723.1V759.8H1725.8V757.1H1728.5V762.5H1731.2V770.6H1728.5H1725.8H1723.1H1720.4H1717.7H1715.0H1712.3H1709.6H1706.9H1704.2V767.9H1701.5V770.6H1698.8H1696.1H1693.4H1690.7H1688.0H1685.3H1682.6H1679.9H1677.2H1674.5H1671.8H1669.1V767.9H1666.4V770.6H1663.7H1661.0H1658.3V767.9H1655.6V770.6H1652.9H1650.2H1647.5H1644.8H1642.1H1639.4H1636.7V767.9H1634.0H1631.3V770.6H1628.6V767.9H1625.9V770.6H1623.2H1620.5H1617.8H1615.1H1612.4H1609.7H1607.0H1604.3H1601.6V767.9H1598.9V770.6H1596.2V767.9H1593.5V770.6H1590.8H1588.1H1585.4H1582.7V767.9H1580.0V770.6H1577.3V767.9H1574.6V770.6H1571.9V767.9H1569.2V770.6H1566.5H1563.8H1561.1H1558.4H1555.7H1553.0H1550.3H1547.6H1544.9H1542.2H1539.5H1536.8H1534.1H1531.4H1528.7H1526.0V765.2H1523.3V767.9H1520.6H1517.9V770.6H1515.2V767.9H1512.5V770.6H1509.8H1507.1H1504.4H1501.7H1499.0H1496.3H1493.6H1490.9H1488.2H1485.5H1482.8H1480.1H1477.4H1474.7H1472.0H1469.3H1466.6H1463.9H1461.2H1458.5H1455.8H1453.1H1450.4H1447.7H1445.0H1442.3H1439.6H1436.9H1434.2H1431.5V767.9H1428.8V770.6H1426.1V767.9H1423.4V770.6H1420.7H1418.0H1415.3V767.9H1412.6V770.6H1409.9V767.9H1407.2V770.6H1404.5H1401.8V767.9H1399.1H1396.4V770.6H1393.7H1391.0H1388.3H1385.6H1382.9H1380.2H1377.5H1374.8H1372.1H1369.4H1366.7H1364.0V765.2H1361.3V770.6H1358.6V765.2H1355.9V770.6H1353.2V767.9H1350.5V770.6H1347.8H1345.1H1342.4H1339.7H1337.0V767.9H1334.3V770.6H1331.6H1328.9V767.9H1326.2H1323.5V770.6H1320.8H1318.1H1315.4H1312.7H1310.0V767.9H1307.3V770.6H1304.6V767.9H1301.9V770.6H1299.2V767.9H1296.5V770.6H1293.8H1291.1V767.9H1288.4V765.2H1285.7V770.6H1283.0V765.2H1280.3V770.6H1277.6H1274.9H1272.2H1269.5H1266.8V767.9H1264.1V770.6H1261.4V767.9H1258.7H1256.0H1253.3V770.6H1250.6H1247.9V762.5H1245.2V770.6H1242.5H1239.8H1237.1V767.9H1234.4V770.6H1231.7H1229.0H1226.3H1223.6H1220.9H1218.2V767.9H1215.5V770.6H1212.8V765.2H1210.1V770.6H1207.4H1204.7H1202.0H1199.3V767.9H1196.6V770.6H1193.9V767.9H1191.2V770.6H1188.5H1185.8V767.9H1183.1V770.6H1180.4H1177.7H1175.0H1172.3H1169.6H1166.9H1164.2H1161.5H1158.8H1156.1H1153.4H1150.7H1148.0H1145.3H1142.6H1139.9V767.9H1137.2H1134.5V770.6H1131.8H1129.1V767.9H1126.4V765.2H1123.7V770.6H1121.0H1118.3H1115.6H1112.9H1110.2H1107.5H1104.8V767.9H1102.1V770.6H1099.4H1096.7H1094.0H1091.3H1088.6H1085.9H1083.2V765.2H1080.5V770.6H1077.8V765.2H1075.1V770.6H1072.4H1069.7H1067.0V765.2H1064.3V770.6H1061.6V767.9H1058.9V770.6H1056.2V765.2H1053.5H1050.8V770.6H1048.1V765.2H1045.4V767.9H1042.7V765.2H1040.0V762.5H1037.3V765.2H1034.6H1031.9H1029.2V767.9H1026.5V762.5H1023.8V767.9H1021.1V770.6H1018.4H1015.7H1013.0V767.9H1010.3V765.2H1007.6V770.6H1004.9H1002.2H999.5H996.8V767.9H994.1V770.6H991.4H988.7V767.9H986.0V770.6H983.3H980.6H977.9V767.9H975.2V770.6H972.5H969.8H967.1V767.9H964.4V765.2H961.7V767.9H959.0V770.6H956.3V767.9H953.6V770.6H950.9H948.2H945.5H942.8H940.1H937.4V767.9H934.7V770.6H932.0H929.3H926.6H923.9V759.8H921.2V770.6H918.5H915.8V767.9H913.1V770.6H910.4V767.9H907.7V770.6H905.0H902.3H899.6V767.9H896.9V770.6H894.2H891.5H888.8H886.1H883.4V765.2H880.7V770.6H878.0H875.3V767.9H872.6V770.6H869.9H867.2V767.9H864.5V765.2H861.8V770.6H859.1H856.4H853.7H851.0V767.9H848.3V765.2H845.6V770.6H842.9V767.9H840.2V770.6H837.5H834.8H832.1H829.4V767.9H826.7V770.6H824.0H821.3V767.9H818.6V770.6H815.9H813.2H810.5H807.8H805.1H802.4H799.7V767.9H797.0H794.3H791.6V770.6H788.9H786.2H783.5H780.8H778.1H775.4V767.9H772.7V770.6H770.0V767.9H767.3H764.6V770.6H761.9H759.2V767.9H756.5V740.9H753.8V767.9H751.1V770.6H748.4H745.7H743.0V767.9H740.3H737.6V770.6H734.9H732.2V762.5H729.5V770.6H726.8H724.1H721.4H718.7V767.9H716.0V770.6H713.3H710.6H707.9H705.2H702.5H699.8H697.1H694.4V767.9H691.7V770.6H689.0V765.2H686.3V759.8H683.6V746.3H680.9V759.8H678.2V708.5H675.5V765.2H672.8V770.6H670.1V767.9H667.4V770.6H664.7H662.0V762.5H659.3V770.6H656.6V767.9H653.9H651.2V770.6H648.5H645.8V767.9H643.1V770.6H640.4V765.2H637.7H635.0V762.5H632.3V754.4H629.6V759.8H626.9V767.9H624.2H621.5V746.3H618.8V765.2H616.1V759.8H613.4V770.6H610.7H608.0V762.5H605.3V767.9H602.6H599.9V770.6H597.2H594.5H591.8V767.9H589.1V770.6H586.4H583.7H581.0V767.9H578.3V770.6H575.6H572.9H570.2H567.5H564.8H562.1H559.4H556.7V767.9H554.0V770.6H551.3H548.6H545.9H543.2V767.9H540.5H537.8V770.6H535.1V767.9H532.4V770.6H529.7V767.9H527.0H524.3V770.6H521.6V762.5H518.9V767.9H516.2V770.6H513.5H510.8H508.1H505.4V767.9H502.7V770.6H500.0H497.3H494.6H491.9V767.9H489.2V770.6H486.5V767.9H483.8V770.6H481.1V767.9H478.4V770.6H475.7H473.0H470.3H467.6V767.9H464.9V770.6H462.2V713.9H459.5V754.4H456.8V762.5H454.1V757.1H451.4V765.2H448.7V719.3H446.0V749.0H443.3V732.8H440.6V719.3H437.9H435.2V722.0H432.5V732.8H429.8V730.1H427.1V727.4H424.4V724.7H421.7V759.8H419.0V749.0H416.3V770.6H413.6V767.9H410.9V746.3H408.2V770.6H405.5H402.8V765.2H400.1V767.9H397.4H394.7H392.0V765.2H389.3V767.9H386.6H383.9V770.6H381.2V767.9H378.5V770.6H375.8H373.1H370.4H367.7H365.0H362.3V759.8H359.6V762.5H356.9H354.2V759.8H351.5V762.5H348.8H346.1V770.6H343.4H340.7H338.0H335.3H332.6H329.9H327.2H324.5H321.8H319.1Z"/></clipPath><clipPath id="cp4"><path d="M319.1,595.1H321.8H324.5H327.2H329.9H332.6H335.3H338.0H340.7V592.4H343.4V587.0H346.1V578.9H348.8V576.2H351.5H354.2H356.9V573.5H359.6V576.2H362.3V584.3H365.0V587.0H367.7V584.3H370.4V581.6H373.1V584.3H375.8V587.0H378.5H381.2H383.9V589.7H386.6V587.0H389.3V584.3H392.0V581.6H394.7V584.3H397.4V576.2H400.1V565.4H402.8H405.5V527.6H408.2H410.9V533.0H413.6V541.1H416.3H419.0V476.3H421.7H424.4V236.0H427.1H429.8V530.3H432.5V254.9H435.2H437.9V433.1H440.6H443.3V487.1H446.0V473.6H448.7H451.4V511.4H454.1H456.8V470.9H459.5H462.2V479.0H464.9V530.3H467.6H470.3V581.6H473.0V573.5H475.7H478.4V565.4H481.1H483.8H486.5H489.2V587.0H491.9H494.6V568.1H497.3H500.0V587.0H502.7H505.4V581.6H508.1V587.0H510.8V589.7H513.5H516.2V500.6H518.9H521.6V589.7H524.3H527.0H529.7H532.4V581.6H535.1H537.8V589.7H540.5H543.2H545.9V592.4H548.6V589.7H551.3V565.4H554.0H556.7V589.7H559.4V587.0H562.1H564.8V589.7H567.5V584.3H570.2H572.9V587.0H575.6H578.3V589.7H581.0V587.0H583.7V589.7H586.4V584.3H589.1H591.8V587.0H594.5H597.2H599.9H602.6V581.6H605.3V551.9H608.0H610.7V578.9H613.4V576.2H616.1V514.1H618.8H621.5V543.8H624.2V576.2H626.9V578.9H629.6V573.5H632.3H635.0H637.7H640.4V578.9H643.1H645.8V581.6H648.5V584.3H651.2V557.3H653.9H656.6V584.3H659.3V587.0H662.0H664.7V581.6H667.4H670.1V495.2H672.8H675.5V387.2H678.2V476.3H680.9H683.6V533.0H686.3V578.9H689.0V541.1H691.7H694.4V587.0H697.1H699.8H702.5V581.6H705.2V587.0H707.9V589.7H710.6V587.0H713.3V584.3H716.0V587.0H718.7H721.4H724.1H726.8H729.5H732.2H734.9V581.6H737.6H740.3V570.8H743.0H745.7V581.6H748.4H751.1V530.3H753.8V497.9H756.5H759.2V587.0H761.9V584.3H764.6V589.7H767.3H770.0H772.7V592.4H775.4H778.1V587.0H780.8H783.5V592.4H786.2H788.9H791.6V587.0H794.3H797.0V584.3H799.7V573.5H802.4H805.1V587.0H807.8V584.3H810.5V587.0H813.2H815.9H818.6H821.3H824.0V592.4H826.7V568.1H829.4H832.1V587.0H834.8H837.5H840.2V578.9H842.9H845.6V584.3H848.3V576.2H851.0H853.7V565.4H856.4H859.1V587.0H861.8V562.7H864.5H867.2V587.0H869.9V584.3H872.6V587.0H875.3V589.7H878.0H880.7V584.3H883.4H886.1V592.4H888.8H891.5H894.2V589.7H896.9V587.0H899.6V592.4H902.3H905.0H907.7V584.3H910.4V587.0H913.1V578.9H915.8H918.5V560.0H921.2H923.9V584.3H926.6H929.3V587.0H932.0V589.7H934.7V587.0H937.4H940.1V589.7H942.8V592.4H945.5H948.2V589.7H950.9V587.0H953.6V589.7H956.3V581.6H959.0H961.7V587.0H964.4V589.7H967.1H969.8H972.5H975.2H977.9V587.0H980.6V589.7H983.3V581.6H986.0H988.7V589.7H991.4V584.3H994.1H996.8V592.4H999.5V589.7H1002.2H1004.9V584.3H1007.6H1010.3V589.7H1013.0V587.0H1015.7H1018.4H1021.1V584.3H1023.8V578.9H1026.5V570.8H1029.2H1031.9H1034.6H1037.3H1040.0V581.6H1042.7H1045.4V584.3H1048.1V581.6H1050.8V576.2H1053.5H1056.2V581.6H1058.9V587.0H1061.6V584.3H1064.3H1067.0H1069.7H1072.4V573.5H1075.1H1077.8V587.0H1080.5H1083.2H1085.9H1088.6H1091.3V589.7H1094.0V587.0H1096.7H1099.4V589.7H1102.1H1104.8V595.1H1107.5V589.7H1110.2V592.4H1112.9V587.0H1115.6H1118.3V589.7H1121.0H1123.7H1126.4H1129.1V592.4H1131.8V584.3H1134.5H1137.2V589.7H1139.9H1142.6H1145.3H1148.0H1150.7H1153.4V584.3H1156.1V589.7H1158.8H1161.5V587.0H1164.2H1166.9H1169.6V581.6H1172.3H1175.0V589.7H1177.7V592.4H1180.4H1183.1V589.7H1185.8H1188.5H1191.2H1193.9H1196.6H1199.3V592.4H1202.0V587.0H1204.7V589.7H1207.4H1210.1H1212.8V587.0H1215.5H1218.2V592.4H1220.9V589.7H1223.6V592.4H1226.3V589.7H1229.0V584.3H1231.7V587.0H1234.4V578.9H1237.1H1239.8H1242.5H1245.2V584.3H1247.9H1250.6V587.0H1253.3V578.9H1256.0V584.3H1258.7H1261.4H1264.1V570.8H1266.8H1269.5V587.0H1272.2V584.3H1274.9H1277.6V578.9H1280.3H1283.0V587.0H1285.7V581.6H1288.4H1291.1V587.0H1293.8V589.7H1296.5H1299.2V587.0H1301.9V589.7H1304.6H1307.3H1310.0H1312.7V592.4H1315.4V589.7H1318.1H1320.8H1323.5H1326.2H1328.9H1331.6H1334.3H1337.0H1339.7H1342.4H1345.1H1347.8V578.9H1350.5H1353.2V589.7H1355.9H1358.6V592.4H1361.3V587.0H1364.0V589.7H1366.7H1369.4V592.4H1372.1V589.7H1374.8H1377.5H1380.2H1382.9H1385.6H1388.3V592.4H1391.0V589.7H1393.7H1396.4H1399.1V587.0H1401.8H1404.5V589.7H1407.2H1409.9H1412.6H1415.3V592.4H1418.0V589.7H1420.7H1423.4V578.9H1426.1H1428.8V587.0H1431.5V589.7H1434.2V587.0H1436.9H1439.6H1442.3V589.7H1445.0H1447.7H1450.4V592.4H1453.1H1455.8V589.7H1458.5H1461.2H1463.9H1466.6H1469.3H1472.0V592.4H1474.7H1477.4H1480.1V587.0H1482.8H1485.5V589.7H1488.2H1490.9V592.4H1493.6V595.1H1496.3V589.7H1499.0H1501.7H1504.4V592.4H1507.1H1509.8V587.0H1512.5V584.3H1515.2H1517.9V587.0H1520.6H1523.3H1526.0H1528.7V592.4H1531.4V589.7H1534.1H1536.8H1539.5H1542.2V592.4H1544.9V587.0H1547.6H1550.3V592.4H1553.0V589.7H1555.7H1558.4V592.4H1561.1H1563.8H1566.5V589.7H1569.2H1571.9V587.0H1574.6V592.4H1577.3H1580.0V581.6H1582.7H1585.4V592.4H1588.1H1590.8V587.0H1593.5H1596.2V589.7H1598.9V592.4H1601.6V589.7H1604.3V592.4H1607.0H1609.7H1612.4V589.7H1615.1V587.0H1617.8V592.4H1620.5H1623.2H1625.9H1628.6H1631.3H1634.0H1636.7H1639.4V589.7H1642.1V587.0H1644.8V592.4H1647.5H1650.2H1652.9H1655.6H1658.3V584.3H1661.0V589.7H1663.7V592.4H1666.4H1669.1H1671.8H1674.5H1677.2H1679.9V589.7H1682.6V592.4H1685.3H1688.0V589.7H1690.7V592.4H1693.4H1696.1H1698.8H1701.5H1704.2H1706.9H1709.6H1712.3H1715.0H1717.7H1720.4H1723.1V589.7H1725.8V587.0H1728.5V592.4H1731.2V600.5H1728.5H1725.8H1723.1H1720.4H1717.7H1715.0H1712.3H1709.6H1706.9H1704.2V597.8H1701.5V600.5H1698.8H1696.1H1693.4H1690.7H1688.0H1685.3H1682.6H1679.9H1677.2H1674.5H1671.8H1669.1V597.8H1666.4V600.5H1663.7H1661.0H1658.3V597.8H1655.6V600.5H1652.9H1650.2H1647.5H1644.8H1642.1H1639.4H1636.7V597.8H1634.0H1631.3V600.5H1628.6V597.8H1625.9V600.5H1623.2H1620.5H1617.8H1615.1H1612.4H1609.7H1607.0H1604.3H1601.6V597.8H1598.9V600.5H1596.2V597.8H1593.5V600.5H1590.8H1588.1H1585.4H1582.7V597.8H1580.0V600.5H1577.3V597.8H1574.6V600.5H1571.9V597.8H1569.2V600.5H1566.5H1563.8H1561.1H1558.4H1555.7H1553.0H1550.3H1547.6H1544.9H1542.2H1539.5H1536.8H1534.1H1531.4H1528.7H1526.0V595.1H1523.3V597.8H1520.6H1517.9V600.5H1515.2V597.8H1512.5V600.5H1509.8H1507.1H1504.4H1501.7H1499.0H1496.3H1493.6H1490.9H1488.2H1485.5H1482.8H1480.1H1477.4H1474.7H1472.0H1469.3H1466.6H1463.9H1461.2H1458.5H1455.8H1453.1H1450.4H1447.7H1445.0H1442.3H1439.6H1436.9H1434.2H1431.5V597.8H1428.8V600.5H1426.1V597.8H1423.4V600.5H1420.7H1418.0H1415.3V597.8H1412.6V600.5H1409.9V597.8H1407.2V600.5H1404.5H1401.8V597.8H1399.1H1396.4V600.5H1393.7H1391.0H1388.3H1385.6H1382.9H1380.2H1377.5H1374.8H1372.1H1369.4H1366.7H1364.0V595.1H1361.3V600.5H1358.6V595.1H1355.9V600.5H1353.2V597.8H1350.5V600.5H1347.8H1345.1H1342.4H1339.7H1337.0V597.8H1334.3V600.5H1331.6H1328.9V597.8H1326.2H1323.5V600.5H1320.8H1318.1H1315.4H1312.7H1310.0V597.8H1307.3V600.5H1304.6V597.8H1301.9V600.5H1299.2V597.8H1296.5V600.5H1293.8H1291.1V597.8H1288.4V595.1H1285.7V600.5H1283.0V595.1H1280.3V600.5H1277.6H1274.9H1272.2H1269.5H1266.8V597.8H1264.1V600.5H1261.4V597.8H1258.7H1256.0H1253.3V600.5H1250.6H1247.9V592.4H1245.2V600.5H1242.5H1239.8H1237.1V597.8H1234.4V600.5H1231.7H1229.0H1226.3H1223.6H1220.9H1218.2V597.8H1215.5V600.5H1212.8V595.1H1210.1V600.5H1207.4H1204.7H1202.0H1199.3V597.8H1196.6V600.5H1193.9V597.8H1191.2V600.5H1188.5H1185.8V597.8H1183.1V600.5H1180.4H1177.7H1175.0H1172.3H1169.6H1166.9H1164.2H1161.5H1158.8H1156.1H1153.4H1150.7H1148.0H1145.3H1142.6H1139.9V597.8H1137.2H1134.5V600.5H1131.8H1129.1V597.8H1126.4V595.1H1123.7V600.5H1121.0H1118.3H1115.6H1112.9H1110.2H1107.5H1104.8V597.8H1102.1V600.5H1099.4H1096.7H1094.0H1091.3H1088.6H1085.9H1083.2V595.1H1080.5V600.5H1077.8V595.1H1075.1V600.5H1072.4H1069.7H1067.0V595.1H1064.3V600.5H1061.6V597.8H1058.9V600.5H1056.2V595.1H1053.5H1050.8V600.5H1048.1V595.1H1045.4V597.8H1042.7V595.1H1040.0V592.4H1037.3V595.1H1034.6H1031.9H1029.2V597.8H1026.5V592.4H1023.8V597.8H1021.1V600.5H1018.4H1015.7H1013.0V597.8H1010.3V595.1H1007.6V600.5H1004.9H1002.2H999.5H996.8V597.8H994.1V600.5H991.4H988.7V597.8H986.0V600.5H983.3H980.6H977.9V597.8H975.2V600.5H972.5H969.8H967.1V597.8H964.4V595.1H961.7V597.8H959.0V600.5H956.3V597.8H953.6V600.5H950.9H948.2H945.5H942.8H940.1H937.4V597.8H934.7V600.5H932.0H929.3H926.6H923.9V589.7H921.2V600.5H918.5H915.8V597.8H913.1V600.5H910.4V597.8H907.7V600.5H905.0H902.3H899.6V597.8H896.9V600.5H894.2H891.5H888.8H886.1H883.4V595.1H880.7V600.5H878.0H875.3V597.8H872.6V600.5H869.9H867.2V597.8H864.5V595.1H861.8V600.5H859.1H856.4H853.7H851.0V597.8H848.3V595.1H845.6V600.5H842.9V597.8H840.2V600.5H837.5H834.8H832.1H829.4V597.8H826.7V600.5H824.0H821.3V597.8H818.6V600.5H815.9H813.2H810.5H807.8H805.1H802.4H799.7V597.8H797.0H794.3H791.6V600.5H788.9H786.2H783.5H780.8H778.1H775.4V597.8H772.7V600.5H770.0V597.8H767.3H764.6V600.5H761.9H759.2V597.8H756.5V570.8H753.8V597.8H751.1V600.5H748.4H745.7H743.0V597.8H740.3H737.6V600.5H734.9H732.2V592.4H729.5V600.5H726.8H724.1H721.4H718.7V597.8H716.0V600.5H713.3H710.6H707.9H705.2H702.5H699.8H697.1H694.4V597.8H691.7V600.5H689.0V595.1H686.3V589.7H683.6V576.2H680.9V589.7H678.2V538.4H675.5V595.1H672.8V600.5H670.1V597.8H667.4V600.5H664.7H662.0V592.4H659.3V600.5H656.6V597.8H653.9H651.2V600.5H648.5H645.8V597.8H643.1V600.5H640.4V595.1H637.7H635.0V592.4H632.3V584.3H629.6V589.7H626.9V597.8H624.2H621.5V576.2H618.8V595.1H616.1V589.7H613.4V600.5H610.7H608.0V592.4H605.3V597.8H602.6H599.9V600.5H597.2H594.5H591.8V597.8H589.1V600.5H586.4H583.7H581.0V597.8H578.3V600.5H575.6H572.9H570.2H567.5H564.8H562.1H559.4H556.7V597.8H554.0V600.5H551.3H548.6H545.9H543.2V597.8H540.5H537.8V600.5H535.1V597.8H532.4V600.5H529.7V597.8H527.0H524.3V600.5H521.6V592.4H518.9V597.8H516.2V600.5H513.5H510.8H508.1H505.4V597.8H502.7V600.5H500.0H497.3H494.6H491.9V597.8H489.2V600.5H486.5V597.8H483.8V600.5H481.1V597.8H478.4V600.5H475.7H473.0H470.3H467.6V597.8H464.9V600.5H462.2V543.8H459.5V584.3H456.8V592.4H454.1V587.0H451.4V595.1H448.7V549.2H446.0V578.9H443.3V562.7H440.6V549.2H437.9H435.2V551.9H432.5V562.7H429.8V560.0H427.1V557.3H424.4V554.6H421.7V589.7H419.0V578.9H416.3V600.5H413.6V597.8H410.9V576.2H408.2V600.5H405.5H402.8V595.1H400.1V597.8H397.4H394.7H392.0V595.1H389.3V597.8H386.6H383.9V600.5H381.2V597.8H378.5V600.5H375.8H373.1H370.4H367.7H365.0H362.3V589.7H359.6V592.4H356.9H354.2V589.7H351.5V592.4H348.8H346.1V600.5H343.4H340.7H338.0H335.3H332.6H329.9H327.2H324.5H321.8H319.1Z"/></clipPath></defs>
<path d="M319.1,1275.5H321.8H324.5H327.2H329.9H332.6H335.3H338.0H340.7V1272.8H343.4V1267.4H346.1V1259.3H348.8V1256.6H351.5H354.2H356.9V1253.9H359.6V1256.6H362.3V1264.7H365.0V1267.4H367.7V1264.7H370.4V1262.0H373.1V1264.7H375.8V1267.4H378.5H381.2H383.9V1270.1H386.6V1267.4H389.3V1264.7H392.0V1262.0H394.7V1264.7H397.4V1256.6H400.1V1245.8H402.8H405.5V1208.0H408.2H410.9V1213.4H413.6V1221.5H416.3H419.0V1156.7H421.7H424.4V916.4H427.1H429.8V1210.7H432.5V935.3H435.2H437.9V1113.5H440.6H443.3V1167.5H446.0V1154.0H448.7H451.4V1191.8H454.1H456.8V1151.3H459.5H462.2V1159.4H464.9V1210.7H467.6H470.3V1262.0H473.0V1253.9H475.7H478.4V1245.8H481.1H483.8H486.5H489.2V1267.4H491.9H494.6V1248.5H497.3H500.0V1267.4H502.7H505.4V1262.0H508.1V1267.4H510.8V1270.1H513.5H516.2V1181.0H518.9H521.6V1270.1H524.3H527.0H529.7H532.4V1262.0H535.1H537.8V1270.1H540.5H543.2H545.9V1272.8H548.6V1270.1H551.3V1245.8H554.0H556.7V1270.1H559.4V1267.4H562.1H564.8V1270.1H567.5V1264.7H570.2H572.9V1267.4H575.6H578.3V1270.1H581.0V1267.4H583.7V1270.1H586.4V1264.7H589.1H591.8V1267.4H594.5H597.2H599.9H602.6V1262.0H605.3V1232.3H608.0H610.7V1259.3H613.4V1256.6H616.1V1194.5H618.8H621.5V1224.2H624.2V1256.6H626.9V1259.3H629.6V1253.9H632.3H635.0H637.7H640.4V1259.3H643.1H645.8V1262.0H648.5V1264.7H651.2V1237.7H653.9H656.6V1264.7H659.3V1267.4H662.0H664.7V1262.0H667.4H670.1V1175.6H672.8H675.5V1067.6H678.2V1156.7H680.9H683.6V1213.4H686.3V1259.3H689.0V1221.5H691.7H694.4V1267.4H697.1H699.8H702.5V1262.0H705.2V1267.4H707.9V1270.1H710.6V1267.4H713.3V1264.7H716.0V1267.4H718.7H721.4H724.1H726.8H729.5H732.2H734.9V1262.0H737.6H740.3V1251.2H743.0H745.7V1262.0H748.4H751.1V1210.7H753.8V1178.3H756.5H759.2V1267.4H761.9V1264.7H764.6V1270.1H767.3H770.0H772.7V1272.8H775.4H778.1V1267.4H780.8H783.5V1272.8H786.2H788.9H791.6V1267.4H794.3H797.0V1264.7H799.7V1253.9H802.4H805.1V1267.4H807.8V1264.7H810.5V1267.4H813.2H815.9H818.6H821.3H824.0V1272.8H826.7V1248.5H829.4H832.1V1267.4H834.8H837.5H840.2V1259.3H842.9H845.6V1264.7H848.3V1256.6H851.0H853.7V1245.8H856.4H859.1V1267.4H861.8V1243.1H864.5H867.2V1267.4H869.9V1264.7H872.6V1267.4H875.3V1270.1H878.0H880.7V1264.7H883.4H886.1V1272.8H888.8H891.5H894.2V1270.1H896.9V1267.4H899.6V1272.8H902.3H905.0H907.7V1264.7H910.4V1267.4H913.1V1259.3H915.8H918.5V1240.4H921.2H923.9V1264.7H926.6H929.3V1267.4H932.0V1270.1H934.7V1267.4H937.4H940.1V1270.1H942.8V1272.8H945.5H948.2V1270.1H950.9V1267.4H953.6V1270.1H956.3V1262.0H959.0H961.7V1267.4H964.4V1270.1H967.1H969.8H972.5H975.2H977.9V1267.4H980.6V1270.1H983.3V1262.0H986.0H988.7V1270.1H991.4V1264.7H994.1H996.8V1272.8H999.5V1270.1H1002.2H1004.9V1264.7H1007.6H1010.3V1270.1H1013.0V1267.4H1015.7H1018.4H1021.1V1264.7H1023.8V1259.3H1026.5V1251.2H1029.2H1031.9H1034.6H1037.3H1040.0V1262.0H1042.7H1045.4V1264.7H1048.1V1262.0H1050.8V1256.6H1053.5H1056.2V1262.0H1058.9V1267.4H1061.6V1264.7H1064.3H1067.0H1069.7H1072.4V1253.9H1075.1H1077.8V1267.4H1080.5H1083.2H1085.9H1088.6H1091.3V1270.1H1094.0V1267.4H1096.7H1099.4V1270.1H1102.1H1104.8V1275.5H1107.5V1270.1H1110.2V1272.8H1112.9V1267.4H1115.6H1118.3V1270.1H1121.0H1123.7H1126.4H1129.1V1272.8H1131.8V1264.7H1134.5H1137.2V1270.1H1139.9H1142.6H1145.3H1148.0H1150.7H1153.4V1264.7H1156.1V1270.1H1158.8H1161.5V1267.4H1164.2H1166.9H1169.6V1262.0H1172.3H1175.0V1270.1H1177.7V1272.8H1180.4H1183.1V1270.1H1185.8H1188.5H1191.2H1193.9H1196.6H1199.3V1272.8H1202.0V1267.4H1204.7V1270.1H1207.4H1210.1H1212.8V1267.4H1215.5H1218.2V1272.8H1220.9V1270.1H1223.6V1272.8H1226.3V1270.1H1229.0V1264.7H1231.7V1267.4H1234.4V1259.3H1237.1H1239.8H1242.5H1245.2V1264.7H1247.9H1250.6V1267.4H1253.3V1259.3H1256.0V1264.7H1258.7H1261.4H1264.1V1251.2H1266.8H1269.5V1267.4H1272.2V1264.7H1274.9H1277.6V1259.3H1280.3H1283.0V1267.4H1285.7V1262.0H1288.4H1291.1V1267.4H1293.8V1270.1H1296.5H1299.2V1267.4H1301.9V1270.1H1304.6H1307.3H1310.0H1312.7V1272.8H1315.4V1270.1H1318.1H1320.8H1323.5H1326.2H1328.9H1331.6H1334.3H1337.0H1339.7H1342.4H1345.1H1347.8V1259.3H1350.5H1353.2V1270.1H1355.9H1358.6V1272.8H1361.3V1267.4H1364.0V1270.1H1366.7H1369.4V1272.8H1372.1V1270.1H1374.8H1377.5H1380.2H1382.9H1385.6H1388.3V1272.8H1391.0V1270.1H1393.7H1396.4H1399.1V1267.4H1401.8H1404.5V1270.1H1407.2H1409.9H1412.6H1415.3V1272.8H1418.0V1270.1H1420.7H1423.4V1259.3H1426.1H1428.8V1267.4H1431.5V1270.1H1434.2V1267.4H1436.9H1439.6H1442.3V1270.1H1445.0H1447.7H1450.4V1272.8H1453.1H1455.8V1270.1H1458.5H1461.2H1463.9H1466.6H1469.3H1472.0V1272.8H1474.7H1477.4H1480.1V1267.4H1482.8H1485.5V1270.1H1488.2H1490.9V1272.8H1493.6V1275.5H1496.3V1270.1H1499.0H1501.7H1504.4V1272.8H1507.1H1509.8V1267.4H1512.5V1264.7H1515.2H1517.9V1267.4H1520.6H1523.3H1526.0H1528.7V1272.8H1531.4V1270.1H1534.1H1536.8H1539.5H1542.2V1272.8H1544.9V1267.4H1547.6H1550.3V1272.8H1553.0V1270.1H1555.7H1558.4V1272.8H1561.1H1563.8H1566.5V1270.1H1569.2H1571.9V1267.4H1574.6V1272.8H1577.3H1580.0V1262.0H1582.7H1585.4V1272.8H1588.1H1590.8V1267.4H1593.5H1596.2V1270.1H1598.9V1272.8H1601.6V1270.1H1604.3V1272.8H1607.0H1609.7H1612.4V1270.1H1615.1V1267.4H1617.8V1272.8H1620.5H1623.2H1625.9H1628.6H1631.3H1634.0H1636.7H1639.4V1270.1H1642.1V1267.4H1644.8V1272.8H1647.5H1650.2H1652.9H1655.6H1658.3V1264.7H1661.0V1270.1H1663.7V1272.8H1666.4H1669.1H1671.8H1674.5H1677.2H1679.9V1270.1H1682.6V1272.8H1685.3H1688.0V1270.1H1690.7V1272.8H1693.4H1696.1H1698.8H1701.5H1704.2H1706.9H1709.6H1712.3H1715.0H1717.7H1720.4H1723.1V1270.1H1725.8V1267.4H1728.5V1272.8H1731.2V1280.9H1728.5H1725.8H1723.1H1720.4H1717.7H1715.0H1712.3H1709.6H1706.9H1704.2V1278.2H1701.5V1280.9H1698.8H1696.1H1693.4H1690.7H1688.0H1685.3H1682.6H1679.9H1677.2H1674.5H1671.8H1669.1V1278.2H1666.4V1280.9H1663.7H1661.0H1658.3V1278.2H1655.6V1280.9H1652.9H1650.2H1647.5H1644.8H1642.1H1639.4H1636.7V1278.2H1634.0H1631.3V1280.9H1628.6V1278.2H1625.9V1280.9H1623.2H1620.5H1617.8H1615.1H1612.4H1609.7H1607.0H1604.3H1601.6V1278.2H1598.9V1280.9H1596.2V1278.2H1593.5V1280.9H1590.8H1588.1H1585.4H1582.7V1278.2H1580.0V1280.9H1577.3V1278.2H1574.6V1280.9H1571.9V1278.2H1569.2V1280.9H1566.5H1563.8H1561.1H1558.4H1555.7H1553.0H1550.3H1547.6H1544.9H1542.2H1539.5H1536.8H1534.1H1531.4H1528.7H1526.0V1275.5H1523.3V1278.2H1520.6H1517.9V1280.9H1515.2V1278.2H1512.5V1280.9H1509.8H1507.1H1504.4H1501.7H1499.0H1496.3H1493.6H1490.9H1488.2H1485.5H1482.8H1480.1H1477.4H1474.7H1472.0H1469.3H1466.6H1463.9H1461.2H1458.5H1455.8H1453.1H1450.4H1447.7H1445.0H1442.3H1439.6H1436.9H1434.2H1431.5V1278.2H1428.8V1280.9H1426.1V1278.2H1423.4V1280.9H1420.7H1418.0H1415.3V1278.2H1412.6V1280.9H1409.9V1278.2H1407.2V1280.9H1404.5H1401.8V1278.2H1399.1H1396.4V1280.9H1393.7H1391.0H1388.3H1385.6H1382.9H1380.2H1377.5H1374.8H1372.1H1369.4H1366.7H1364.0V1275.5H1361.3V1280.9H1358.6V1275.5H1355.9V1280.9H1353.2V1278.2H1350.5V1280.9H1347.8H1345.1H1342.4H1339.7H1337.0V1278.2H1334.3V1280.9H1331.6H1328.9V1278.2H1326.2H1323.5V1280.9H1320.8H1318.1H1315.4H1312.7H1310.0V1278.2H1307.3V1280.9H1304.6V1278.2H1301.9V1280.9H1299.2V1278.2H1296.5V1280.9H1293.8H1291.1V1278.2H1288.4V1275.5H1285.7V1280.9H1283.0V1275.5H1280.3V1280.9H1277.6H1274.9H1272.2H1269.5H1266.8V1278.2H1264.1V1280.9H1261.4V1278.2H1258.7H1256.0H1253.3V1280.9H1250.6H1247.9V1272.8H1245.2V1280.9H1242.5H1239.8H1237.1V1278.2H1234.4V1280.9H1231.7H1229.0H1226.3H1223.6H1220.9H1218.2V1278.2H1215.5V1280.9H1212.8V1275.5H1210.1V1280.9H1207.4H1204.7H1202.0H1199.3V1278.2H1196.6V1280.9H1193.9V1278.2H1191.2V1280.9H1188.5H1185.8V1278.2H1183.1V1280.9H1180.4H1177.7H1175.0H1172.3H1169.6H1166.9H1164.2H1161.5H1158.8H1156.1H1153.4H1150.7H1148.0H1145.3H1142.6H1139.9V1278.2H1137.2H1134.5V1280.9H1131.8H1129.1V1278.2H1126.4V1275.5H1123.7V1280.9H1121.0H1118.3H1115.6H1112.9H1110.2H1107.5H1104.8V1278.2H1102.1V1280.9H1099.4H1096.7H1094.0H1091.3H1088.6H1085.9H1083.2V1275.5H1080.5V1280.9H1077.8V1275.5H1075.1V1280.9H1072.4H1069.7H1067.0V1275.5H1064.3V1280.9H1061.6V1278.2H1058.9V1280.9H1056.2V1275.5H1053.5H1050.8V1280.9H1048.1V1275.5H1045.4V1278.2H1042.7V1275.5H1040.0V1272.8H1037.3V1275.5H1034.6H1031.9H1029.2V1278.2H1026.5V1272.8H1023.8V1278.2H1021.1V1280.9H1018.4H1015.7H1013.0V1278.2H1010.3V1275.5H1007.6V1280.9H1004.9H1002.2H999.5H996.8V1278.2H994.1V1280.9H991.4H988.7V1278.2H986.0V1280.9H983.3H980.6H977.9V1278.2H975.2V1280.9H972.5H969.8H967.1V1278.2H964.4V1275.5H961.7V1278.2H959.0V1280.9H956.3V1278.2H953.6V1280.9H950.9H948.2H945.5H942.8H940.1H937.4V1278.2H934.7V1280.9H932.0H929.3H926.6H923.9V1270.1H921.2V1280.9H918.5H915.8V1278.2H913.1V1280.9H910.4V1278.2H907.7V1280.9H905.0H902.3H899.6V1278.2H896.9V1280.9H894.2H891.5H888.8H886.1H883.4V1275.5H880.7V1280.9H878.0H875.3V1278.2H872.6V1280.9H869.9H867.2V1278.2H864.5V1275.5H861.8V1280.9H859.1H856.4H853.7H851.0V1278.2H848.3V1275.5H845.6V1280.9H842.9V1278.2H840.2V1280.9H837.5H834.8H832.1H829.4V1278.2H826.7V1280.9H824.0H821.3V1278.2H818.6V1280.9H815.9H813.2H810.5H807.8H805.1H802.4H799.7V1278.2H797.0H794.3H791.6V1280.9H788.9H786.2H783.5H780.8H778.1H775.4V1278.2H772.7V1280.9H770.0V1278.2H767.3H764.6V1280.9H761.9H759.2V1278.2H756.5V1251.2H753.8V1278.2H751.1V1280.9H748.4H745.7H743.0V1278.2H740.3H737.6V1280.9H734.9H732.2V1272.8H729.5V1280.9H726.8H724.1H721.4H718.7V1278.2H716.0V1280.9H713.3H710.6H707.9H705.2H702.5H699.8H697.1H694.4V1278.2H691.7V1280.9H689.0V1275.5H686.3V1270.1H683.6V1256.6H680.9V1270.1H678.2V1218.8H675.5V1275.5H672.8V1280.9H670.1V1278.2H667.4V1280.9H664.7H662.0V1272.8H659.3V1280.9H656.6V1278.2H653.9H651.2V1280.9H648.5H645.8V1278.2H643.1V1280.9H640.4V1275.5H637.7H635.0V1272.8H632.3V1264.7H629.6V1270.1H626.9V1278.2H624.2H621.5V1256.6H618.8V1275.5H616.1V1270.1H613.4V1280.9H610.7H608.0V1272.8H605.3V1278.2H602.6H599.9V1280.9H597.2H594.5H591.8V1278.2H589.1V1280.9H586.4H583.7H581.0V1278.2H578.3V1280.9H575.6H572.9H570.2H567.5H564.8H562.1H559.4H556.7V1278.2H554.0V1280.9H551.3H548.6H545.9H543.2V1278.2H540.5H537.8V1280.9H535.1V1278.2H532.4V1280.9H529.7V1278.2H527.0H524.3V1280.9H521.6V1272.8H518.9V1278.2H516.2V1280.9H513.5H510.8H508.1H505.4V1278.2H502.7V1280.9H500.0H497.3H494.6H491.9V1278.2H489.2V1280.9H486.5V1278.2H483.8V1280.9H481.1V1278.2H478.4V1280.9H475.7H473.0H470.3H467.6V1278.2H464.9V1280.9H462.2V1224.2H459.5V1264.7H456.8V1272.8H454.1V1267.4H451.4V1275.5H448.7V1229.6H446.0V1259.3H443.3V1243.1H440.6V1229.6H437.9H435.2V1232.3H432.5V1243.1H429.8V1240.4H427.1V1237.7H424.4V1235.0H421.7V1270.1H419.0V1259.3H416.3V1280.9H413.6V1278.2H410.9V1256.6H408.2V1280.9H405.5H402.8V1275.5H400.1V1278.2H397.4H394.7H392.0V1275.5H389.3V1278.2H386.6H383.9V1280.9H381.2V1278.2H378.5V1280.9H375.8H373.1H370.4H367.7H365.0H362.3V1270.1H359.6V1272.8H356.9H354.2V1270.1H351.5V1272.8H348.8H346.1V1280.9H343.4H340.7H338.0H335.3H332.6H329.9H327.2H324.5H321.8H319.1Z" fill="#464646" shape-rendering="crispEdges"/>
<path d="M319.1,1102.7H321.8H324.5H327.2H329.9H332.6H335.3H338.0H340.7V1100.0H343.4V1094.6H346.1V1086.5H348.8V1083.8H351.5H354.2H356.9V1081.1H359.6V1083.8H362.3V1091.9H365.0V1094.6H367.7V1091.9H370.4V1089.2H373.1V1091.9H375.8V1094.6H378.5H381.2H383.9V1097.3H386.6V1094.6H389.3V1091.9H392.0V1089.2H394.7V1091.9H397.4V1083.8H400.1V1073.0H402.8H405.5V1035.2H408.2H410.9V1040.6H413.6V1048.7H416.3H419.0V983.9H421.7H424.4V743.6H427.1H429.8V1037.9H432.5V762.5H435.2H437.9V940.7H440.6H443.3V994.7H446.0V981.2H448.7H451.4V1019.0H454.1H456.8V978.5H459.5H462.2V986.6H464.9V1037.9H467.6H470.3V1089.2H473.0V1081.1H475.7H478.4V1073.0H481.1H483.8H486.5H489.2V1094.6H491.9H494.6V1075.7H497.3H500.0V1094.6H502.7H505.4V1089.2H508.1V1094.6H510.8V1097.3H513.5H516.2V1008.2H518.9H521.6V1097.3H524.3H527.0H529.7H532.4V1089.2H535.1H537.8V1097.3H540.5H543.2H545.9V1100.0H548.6V1097.3H551.3V1073.0H554.0H556.7V1097.3H559.4V1094.6H562.1H564.8V1097.3H567.5V1091.9H570.2H572.9V1094.6H575.6H578.3V1097.3H581.0V1094.6H583.7V1097.3H586.4V1091.9H589.1H591.8V1094.6H594.5H597.2H599.9H602.6V1089.2H605.3V1059.5H608.0H610.7V1086.5H613.4V1083.8H616.1V1021.7H618.8H621.5V1051.4H624.2V1083.8H626.9V1086.5H629.6V1081.1H632.3H635.0H637.7H640.4V1086.5H643.1H645.8V1089.2H648.5V1091.9H651.2V1064.9H653.9H656.6V1091.9H659.3V1094.6H662.0H664.7V1089.2H667.4H670.1V1002.8H672.8H675.5V894.8H678.2V983.9H680.9H683.6V1040.6H686.3V1086.5H689.0V1048.7H691.7H694.4V1094.6H697.1H699.8H702.5V1089.2H705.2V1094.6H707.9V1097.3H710.6V1094.6H713.3V1091.9H716.0V1094.6H718.7H721.4H724.1H726.8H729.5H732.2H734.9V1089.2H737.6H740.3V1078.4H743.0H745.7V1089.2H748.4H751.1V1037.9H753.8V1005.5H756.5H759.2V1094.6H761.9V1091.9H764.6V1097.3H767.3H770.0H772.7V1100.0H775.4H778.1V1094.6H780.8H783.5V1100.0H786.2H788.9H791.6V1094.6H794.3H797.0V1091.9H799.7V1081.1H802.4H805.1V1094.6H807.8V1091.9H810.5V1094.6H813.2H815.9H818.6H821.3H824.0V1100.0H826.7V1075.7H829.4H832.1V1094.6H834.8H837.5H840.2V1086.5H842.9H845.6V1091.9H848.3V1083.8H851.0H853.7V1073.0H856.4H859.1V1094.6H861.8V1070.3H864.5H867.2V1094.6H869.9V1091.9H872.6V1094.6H875.3V1097.3H878.0H880.7V1091.9H883.4H886.1V1100.0H888.8H891.5H894.2V1097.3H896.9V1094.6H899.6V1100.0H902.3H905.0H907.7V1091.9H910.4V1094.6H913.1V1086.5H915.8H918.5V1067.6H921.2H923.9V1091.9H926.6H929.3V1094.6H932.0V1097.3H934.7V1094.6H937.4H940.1V1097.3H942.8V1100.0H945.5H948.2V1097.3H950.9V1094.6H953.6V1097.3H956.3V1089.2H959.0H961.7V1094.6H964.4V1097.3H967.1H969.8H972.5H975.2H977.9V1094.6H980.6V1097.3H983.3V1089.2H986.0H988.7V1097.3H991.4V1091.9H994.1H996.8V1100.0H999.5V1097.3H1002.2H1004.9V1091.9H1007.6H1010.3V1097.3H1013.0V1094.6H1015.7H1018.4H1021.1V1091.9H1023.8V1086.5H1026.5V1078.4H1029.2H1031.9H1034.6H1037.3H1040.0V1089.2H1042.7H1045.4V1091.9H1048.1V1089.2H1050.8V1083.8H1053.5H1056.2V1089.2H1058.9V1094.6H1061.6V1091.9H1064.3H1067.0H1069.7H1072.4V1081.1H1075.1H1077.8V1094.6H1080.5H1083.2H1085.9H1088.6H1091.3V1097.3H1094.0V1094.6H1096.7H1099.4V1097.3H1102.1H1104.8V1102.7H1107.5V1097.3H1110.2V1100.0H1112.9V1094.6H1115.6H1118.3V1097.3H1121.0H1123.7H1126.4H1129.1V1100.0H1131.8V1091.9H1134.5H1137.2V1097.3H1139.9H1142.6H1145.3H1148.0H1150.7H1153.4V1091.9H1156.1V1097.3H1158.8H1161.5V1094.6H1164.2H1166.9H1169.6V1089.2H1172.3H1175.0V1097.3H1177.7V1100.0H1180.4H1183.1V1097.3H1185.8H1188.5H1191.2H1193.9H1196.6H1199.3V1100.0H1202.0V1094.6H1204.7V1097.3H1207.4H1210.1H1212.8V1094.6H1215.5H1218.2V1100.0H1220.9V1097.3H1223.6V1100.0H1226.3V1097.3H1229.0V1091.9H1231.7V1094.6H1234.4V1086.5H1237.1H1239.8H1242.5H1245.2V1091.9H1247.9H1250.6V1094.6H1253.3V1086.5H1256.0V1091.9H1258.7H1261.4H1264.1V1078.4H1266.8H1269.5V1094.6H1272.2V1091.9H1274.9H1277.6V1086.5H1280.3H1283.0V1094.6H1285.7V1089.2H1288.4H1291.1V1094.6H1293.8V1097.3H1296.5H1299.2V1094.6H1301.9V1097.3H1304.6H1307.3H1310.0H1312.7V1100.0H1315.4V1097.3H1318.1H1320.8H1323.5H1326.2H1328.9H1331.6H1334.3H1337.0H1339.7H1342.4H1345.1H1347.8V1086.5H1350.5H1353.2V1097.3H1355.9H1358.6V1100.0H1361.3V1094.6H1364.0V1097.3H1366.7H1369.4V1100.0H1372.1V1097.3H1374.8H1377.5H1380.2H1382.9H1385.6H1388.3V1100.0H1391.0V1097.3H1393.7H1396.4H1399.1V1094.6H1401.8H1404.5V1097.3H1407.2H1409.9H1412.6H1415.3V1100.0H1418.0V1097.3H1420.7H1423.4V1086.5H1426.1H1428.8V1094.6H1431.5V1097.3H1434.2V1094.6H1436.9H1439.6H1442.3V1097.3H1445.0H1447.7H1450.4V1100.0H1453.1H1455.8V1097.3H1458.5H1461.2H1463.9H1466.6H1469.3H1472.0V1100.0H1474.7H1477.4H1480.1V1094.6H1482.8H1485.5V1097.3H1488.2H1490.9V1100.0H1493.6V1102.7H1496.3V1097.3H1499.0H1501.7H1504.4V1100.0H1507.1H1509.8V1094.6H1512.5V1091.9H1515.2H1517.9V1094.6H1520.6H1523.3H1526.0H1528.7V1100.0H1531.4V1097.3H1534.1H1536.8H1539.5H1542.2V1100.0H1544.9V1094.6H1547.6H1550.3V1100.0H1553.0V1097.3H1555.7H1558.4V1100.0H1561.1H1563.8H1566.5V1097.3H1569.2H1571.9V1094.6H1574.6V1100.0H1577.3H1580.0V1089.2H1582.7H1585.4V1100.0H1588.1H1590.8V1094.6H1593.5H1596.2V1097.3H1598.9V1100.0H1601.6V1097.3H1604.3V1100.0H1607.0H1609.7H1612.4V1097.3H1615.1V1094.6H1617.8V1100.0H1620.5H1623.2H1625.9H1628.6H1631.3H1634.0H1636.7H1639.4V1097.3H1642.1V1094.6H1644.8V1100.0H1647.5H1650.2H1652.9H1655.6H1658.3V1091.9H1661.0V1097.3H1663.7V1100.0H1666.4H1669.1H1671.8H1674.5H1677.2H1679.9V1097.3H1682.6V1100.0H1685.3H1688.0V1097.3H1690.7V1100.0H1693.4H1696.1H1698.8H1701.5H1704.2H1706.9H1709.6H1712.3H1715.0H1717.7H1720.4H1723.1V1097.3H1725.8V1094.6H1728.5V1100.0H1731.2V1108.1H1728.5H1725.8H1723.1H1720.4H1717.7H1715.0H1712.3H1709.6H1706.9H1704.2V1105.4H1701.5V1108.1H1698.8H1696.1H1693.4H1690.7H1688.0H1685.3H1682.6H1679.9H1677.2H1674.5H1671.8H1669.1V1105.4H1666.4V1108.1H1663.7H1661.0H1658.3V1105.4H1655.6V1108.1H1652.9H1650.2H1647.5H1644.8H1642.1H1639.4H1636.7V1105.4H1634.0H1631.3V1108.1H1628.6V1105.4H1625.9V1108.1H1623.2H1620.5H1617.8H1615.1H1612.4H1609.7H1607.0H1604.3H1601.6V1105.4H1598.9V1108.1H1596.2V1105.4H1593.5V1108.1H1590.8H1588.1H1585.4H1582.7V1105.4H1580.0V1108.1H1577.3V1105.4H1574.6V1108.1H1571.9V1105.4H1569.2V1108.1H1566.5H1563.8H1561.1H1558.4H1555.7H1553.0H1550.3H1547.6H1544.9H1542.2H1539.5H1536.8H1534.1H1531.4H1528.7H1526.0V1102.7H1523.3V1105.4H1520.6H1517.9V1108.1H1515.2V1105.4H1512.5V1108.1H1509.8H1507.1H1504.4H1501.7H1499.0H1496.3H1493.6H1490.9H1488.2H1485.5H1482.8H1480.1H1477.4H1474.7H1472.0H1469.3H1466.6H1463.9H1461.2H1458.5H1455.8H1453.1H1450.4H1447.7H1445.0H1442.3H1439.6H1436.9H1434.2H1431.5V1105.4H1428.8V1108.1H1426.1V1105.4H1423.4V1108.1H1420.7H1418.0H1415.3V1105.4H1412.6V1108.1H1409.9V1105.4H1407.2V1108.1H1404.5H1401.8V1105.4H1399.1H1396.4V1108.1H1393.7H1391.0H1388.3H1385.6H1382.9H1380.2H1377.5H1374.8H1372.1H1369.4H1366.7H1364.0V1102.7H1361.3V1108.1H1358.6V1102.7H1355.9V1108.1H1353.2V1105.4H1350.5V1108.1H1347.8H1345.1H1342.4H1339.7H1337.0V1105.4H1334.3V1108.1H1331.6H1328.9V1105.4H1326.2H1323.5V1108.1H1320.8H1318.1H1315.4H1312.7H1310.0V1105.4H1307.3V1108.1H1304.6V1105.4H1301.9V1108.1H1299.2V1105.4H1296.5V1108.1H1293.8H1291.1V1105.4H1288.4V1102.7H1285.7V1108.1H1283.0V1102.7H1280.3V1108.1H1277.6H1274.9H1272.2H1269.5H1266.8V1105.4H1264.1V1108.1H1261.4V1105.4H1258.7H1256.0H1253.3V1108.1H1250.6H1247.9V1100.0H1245.2V1108.1H1242.5H1239.8H1237.1V1105.4H1234.4V1108.1H1231.7H1229.0H1226.3H1223.6H1220.9H1218.2V1105.4H1215.5V1108.1H1212.8V1102.7H1210.1V1108.1H1207.4H1204.7H1202.0H1199.3V1105.4H1196.6V1108.1H1193.9V1105.4H1191.2V1108.1H1188.5H1185.8V1105.4H1183.1V1108.1H1180.4H1177.7H1175.0H1172.3H1169.6H1166.9H1164.2H1161.5H1158.8H1156.1H1153.4H1150.7H1148.0H1145.3H1142.6H1139.9V1105.4H1137.2H1134.5V1108.1H1131.8H1129.1V1105.4H1126.4V1102.7H1123.7V1108.1H1121.0H1118.3H1115.6H1112.9H1110.2H1107.5H1104.8V1105.4H1102.1V1108.1H1099.4H1096.7H1094.0H1091.3H1088.6H1085.9H1083.2V1102.7H1080.5V1108.1H1077.8V1102.7H1075.1V1108.1H1072.4H1069.7H1067.0V1102.7H1064.3V1108.1H1061.6V1105.4H1058.9V1108.1H1056.2V1102.7H1053.5H1050.8V1108.1H1048.1V1102.7H1045.4V1105.4H1042.7V1102.7H1040.0V1100.0H1037.3V1102.7H1034.6H1031.9H1029.2V1105.4H1026.5V1100.0H1023.8V1105.4H1021.1V1108.1H1018.4H1015.7H1013.0V1105.4H1010.3V1102.7H1007.6V1108.1H1004.9H1002.2H999.5H996.8V1105.4H994.1V1108.1H991.4H988.7V1105.4H986.0V1108.1H983.3H980.6H977.9V1105.4H975.2V1108.1H972.5H969.8H967.1V1105.4H964.4V1102.7H961.7V1105.4H959.0V1108.1H956.3V1105.4H953.6V1108.1H950.9H948.2H945.5H942.8H940.1H937.4V1105.4H934.7V1108.1H932.0H929.3H926.6H923.9V1097.3H921.2V1108.1H918.5H915.8V1105.4H913.1V1108.1H910.4V1105.4H907.7V1108.1H905.0H902.3H899.6V1105.4H896.9V1108.1H894.2H891.5H888.8H886.1H883.4V1102.7H880.7V1108.1H878.0H875.3V1105.4H872.6V1108.1H869.9H867.2V1105.4H864.5V1102.7H861.8V1108.1H859.1H856.4H853.7H851.0V1105.4H848.3V1102.7H845.6V1108.1H842.9V1105.4H840.2V1108.1H837.5H834.8H832.1H829.4V1105.4H826.7V1108.1H824.0H821.3V1105.4H818.6V1108.1H815.9H813.2H810.5H807.8H805.1H802.4H799.7V1105.4H797.0H794.3H791.6V1108.1H788.9H786.2H783.5H780.8H778.1H775.4V1105.4H772.7V1108.1H770.0V1105.4H767.3H764.6V1108.1H761.9H759.2V1105.4H756.5V1078.4H753.8V1105.4H751.1V1108.1H748.4H745.7H743.0V1105.4H740.3H737.6V1108.1H734.9H732.2V1100.0H729.5V1108.1H726.8H724.1H721.4H718.7V1105.4H716.0V1108.1H713.3H710.6H707.9H705.2H702.5H699.8H697.1H694.4V1105.4H691.7V1108.1H689.0V1102.7H686.3V1097.3H683.6V1083.8H680.9V1097.3H678.2V1046.0H675.5V1102.7H672.8V1108.1H670.1V1105.4H667.4V1108.1H664.7H662.0V1100.0H659.3V1108.1H656.6V1105.4H653.9H651.2V1108.1H648.5H645.8V1105.4H643.1V1108.1H640.4V1102.7H637.7H635.0V1100.0H632.3V1091.9H629.6V1097.3H626.9V1105.4H624.2H621.5V1083.8H618.8V1102.7H616.1V1097.3H613.4V1108.1H610.7H608.0V1100.0H605.3V1105.4H602.6H599.9V1108.1H597.2H594.5H591.8V1105.4H589.1V1108.1H586.4H583.7H581.0V1105.4H578.3V1108.1H575.6H572.9H570.2H567.5H564.8H562.1H559.4H556.7V1105.4H554.0V1108.1H551.3H548.6H545.9H543.2V1105.4H540.5H537.8V1108.1H535.1V1105.4H532.4V1108.1H529.7V1105.4H527.0H524.3V1108.1H521.6V1100.0H518.9V1105.4H516.2V1108.1H513.5H510.8H508.1H505.4V1105.4H502.7V1108.1H500.0H497.3H494.6H491.9V1105.4H489.2V1108.1H486.5V1105.4H483.8V1108.1H481.1V1105.4H478.4V1108.1H475.7H473.0H470.3H467.6V1105.4H464.9V1108.1H462.2V1051.4H459.5V1091.9H456.8V1100.0H454.1V1094.6H451.4V1102.7H448.7V1056.8H446.0V1086.5H443.3V1070.3H440.6V1056.8H437.9H435.2V1059.5H432.5V1070.3H429.8V1067.6H427.1V1064.9H424.4V1062.2H421.7V1097.3H419.0V1086.5H416.3V1108.1H413.6V1105.4H410.9V1083.8H408.2V1108.1H405.5H402.8V1102.7H400.1V1105.4H397.4H394.7H392.0V1102.7H389.3V1105.4H386.6H383.9V1108.1H381.2V1105.4H378.5V1108.1H375.8H373.1H370.4H367.7H365.0H362.3V1097.3H359.6V1100.0H356.9H354.2V1097.3H351.5V1100.0H348.8H346.1V1108.1H343.4H340.7H338.0H335.3H332.6H329.9H327.2H324.5H321.8H319.1Z" fill="#6060ff" shape-rendering="crispEdges"/>
<path d="M319.1,1275.5H321.8H324.5H327.2H329.9H332.6H335.3H338.0H340.7V1272.8H343.4V1267.4H346.1V1259.3H348.8V1256.6H351.5H354.2H356.9V1253.9H359.6V1256.6H362.3V1264.7H365.0V1267.4H367.7V1264.7H370.4V1262.0H373.1V1264.7H375.8V1267.4H378.5H381.2H383.9V1270.1H386.6V1267.4H389.3V1264.7H392.0V1262.0H394.7V1264.7H397.4V1256.6H400.1V1245.8H402.8H405.5V1208.0H408.2H410.9V1213.4H413.6V1221.5H416.3H419.0V1156.7H421.7H424.4V916.4H427.1H429.8V1210.7H432.5V935.3H435.2H437.9V1113.5H440.6H443.3V1167.5H446.0V1154.0H448.7H451.4V1191.8H454.1H456.8V1151.3H459.5H462.2V1159.4H464.9V1210.7H467.6H470.3V1262.0H473.0V1253.9H475.7H478.4V1245.8H481.1H483.8H486.5H489.2V1267.4H491.9H494.6V1248.5H497.3H500.0V1267.4H502.7H505.4V1262.0H508.1V1267.4H510.8V1270.1H513.5H516.2V1181.0H518.9H521.6V1270.1H524.3H527.0H529.7H532.4V1262.0H535.1H537.8V1270.1H540.5H543.2H545.9V1272.8H548.6V1270.1H551.3V1245.8H554.0H556.7V1270.1H559.4V1267.4H562.1H564.8V1270.1H567.5V1264.7H570.2H572.9V1267.4H575.6H578.3V1270.1H581.0V1267.4H583.7V1270.1H586.4V1264.7H589.1H591.8V1267.4H594.5H597.2H599.9H602.6V1262.0H605.3V1232.3H608.0H610.7V1259.3H613.4V1256.6H616.1V1194.5H618.8H621.5V1224.2H624.2V1256.6H626.9V1259.3H629.6V1253.9H632.3H635.0H637.7H640.4V1259.3H643.1H645.8V1262.0H648.5V1264.7H651.2V1237.7H653.9H656.6V1264.7H659.3V1267.4H662.0H664.7V1262.0H667.4H670.1V1175.6H672.8H675.5V1067.6H678.2V1156.7H680.9H683.6V1213.4H686.3V1259.3H689.0V1221.5H691.7H694.4V1267.4H697.1H699.8H702.5V1262.0H705.2V1267.4H707.9V1270.1H710.6V1267.4H713.3V1264.7H716.0V1267.4H718.7H721.4H724.1H726.8H729.5H732.2H734.9V1262.0H737.6H740.3V1251.2H743.0H745.7V1262.0H748.4H751.1V1210.7H753.8V1178.3H756.5H759.2V1267.4H761.9V1264.7H764.6V1270.1H767.3H770.0H772.7V1272.8H775.4H778.1V1267.4H780.8H783.5V1272.8H786.2H788.9H791.6V1267.4H794.3H797.0V1264.7H799.7V1253.9H802.4H805.1V1267.4H807.8V1264.7H810.5V1267.4H813.2H815.9H818.6H821.3H824.0V1272.8H826.7V1248.5H829.4H832.1V1267.4H834.8H837.5H840.2V1259.3H842.9H845.6V1264.7H848.3V1256.6H851.0H853.7V1245.8H856.4H859.1V1267.4H861.8V1243.1H864.5H867.2V1267.4H869.9V1264.7H872.6V1267.4H875.3V1270.1H878.0H880.7V1264.7H883.4H886.1V1272.8H888.8H891.5H894.2V1270.1H896.9V1267.4H899.6V1272.8H902.3H905.0H907.7V1264.7H910.4V1267.4H913.1V1259.3H915.8H918.5V1240.4H921.2H923.9V1264.7H926.6H929.3V1267.4H932.0V1270.1H934.7V1267.4H937.4H940.1V1270.1H942.8V1272.8H945.5H948.2V1270.1H950.9V1267.4H953.6V1270.1H956.3V1262.0H959.0H961.7V1267.4H964.4V1270.1H967.1H969.8H972.5H975.2H977.9V1267.4H980.6V1270.1H983.3V1262.0H986.0H988.7V1270.1H991.4V1264.7H994.1H996.8V1272.8H999.5V1270.1H1002.2H1004.9V1264.7H1007.6H1010.3V1270.1H1013.0V1267.4H1015.7H1018.4H1021.1V1264.7H1023.8V1259.3H1026.5V1251.2H1029.2H1031.9H1034.6H1037.3H1040.0V1262.0H1042.7H1045.4V1264.7H1048.1V1262.0H1050.8V1256.6H1053.5H1056.2V1262.0H1058.9V1267.4H1061.6V1264.7H1064.3H1067.0H1069.7H1072.4V1253.9H1075.1H1077.8V1267.4H1080.5H1083.2H1085.9H1088.6H1091.3V1270.1H1094.0V1267.4H1096.7H1099.4V1270.1H1102.1H1104.8V1275.5H1107.5V1270.1H1110.2V1272.8H1112.9V1267.4H1115.6H1118.3V1270.1H1121.0H1123.7H1126.4H1129.1V1272.8H1131.8V1264.7H1134.5H1137.2V1270.1H1139.9H1142.6H1145.3H1148.0H1150.7H1153.4V1264.7H1156.1V1270.1H1158.8H1161.5V1267.4H1164.2H1166.9H1169.6V1262.0H1172.3H1175.0V1270.1H1177.7V1272.8H1180.4H1183.1V1270.1H1185.8H1188.5H1191.2H1193.9H1196.6H1199.3V1272.8H1202.0V1267.4H1204.7V1270.1H1207.4H1210.1H1212.8V1267.4H1215.5H1218.2V1272.8H1220.9V1270.1H1223.6V1272.8H1226.3V1270.1H1229.0V1264.7H1231.7V1267.4H1234.4V1259.3H1237.1H1239.8H1242.5H1245.2V1264.7H1247.9H1250.6V1267.4H1253.3V1259.3H1256.0V1264.7H1258.7H1261.4H1264.1V1251.2H1266.8H1269.5V1267.4H1272.2V1264.7H1274.9H1277.6V1259.3H1280.3H1283.0V1267.4H1285.7V1262.0H1288.4H1291.1V1267.4H1293.8V1270.1H1296.5H1299.2V1267.4H1301.9V1270.1H1304.6H1307.3H1310.0H1312.7V1272.8H1315.4V1270.1H1318.1H1320.8H1323.5H1326.2H1328.9H1331.6H1334.3H1337.0H1339.7H1342.4H1345.1H1347.8V1259.3H1350.5H1353.2V1270.1H1355.9H1358.6V1272.8H1361.3V1267.4H1364.0V1270.1H1366.7H1369.4V1272.8H1372.1V1270.1H1374.8H1377.5H1380.2H1382.9H1385.6H1388.3V1272.8H1391.0V1270.1H1393.7H1396.4H1399.1V1267.4H1401.8H1404.5V1270.1H1407.2H1409.9H1412.6H1415.3V1272.8H1418.0V1270.1H1420.7H1423.4V1259.3H1426.1H1428.8V1267.4H1431.5V1270.1H1434.2V1267.4H1436.9H1439.6H1442.3V1270.1H1445.0H1447.7H1450.4V1272.8H1453.1H1455.8V1270.1H1458.5H1461.2H1463.9H1466.6H1469.3H1472.0V1272.8H1474.7H1477.4H1480.1V1267.4H1482.8H1485.5V1270.1H1488.2H1490.9V1272.8H1493.6V1275.5H1496.3V1270.1H1499.0H1501.7H1504.4V1272.8H1507.1H1509.8V1267.4H1512.5V1264.7H1515.2H1517.9V1267.4H1520.6H1523.3H1526.0H1528.7V1272.8H1531.4V1270.1H1534.1H1536.8H1539.5H1542.2V1272.8H1544.9V1267.4H1547.6H1550.3V1272.8H1553.0V1270.1H1555.7H1558.4V1272.8H1561.1H1563.8H1566.5V1270.1H1569.2H1571.9V1267.4H1574.6V1272.8H1577.3H1580.0V1262.0H1582.7H1585.4V1272.8H1588.1H1590.8V1267.4H1593.5H1596.2V1270.1H1598.9V1272.8H1601.6V1270.1H1604.3V1272.8H1607.0H1609.7H1612.4V1270.1H1615.1V1267.4H1617.8V1272.8H1620.5H1623.2H1625.9H1628.6H1631.3H1634.0H1636.7H1639.4V1270.1H1642.1V1267.4H1644.8V1272.8H1647.5H1650.2H1652.9H1655.6H1658.3V1264.7H1661.0V1270.1H1663.7V1272.8H1666.4H1669.1H1671.8H1674.5H1677.2H1679.9V1270.1H1682.6V1272.8H1685.3H1688.0V1270.1H1690.7V1272.8H1693.4H1696.1H1698.8H1701.5H1704.2H1706.9H1709.6H1712.3H1715.0H1717.7H1720.4H1723.1V1270.1H1725.8V1267.4H1728.5V1272.8H1731.2V1280.9H1728.5H1725.8H1723.1H1720.4H1717.7H1715.0H1712.3H1709.6H1706.9H1704.2V1278.2H1701.5V1280.9H1698.8H1696.1H1693.4H1690.7H1688.0H1685.3H1682.6H1679.9H1677.2H1674.5H1671.8H1669.1V1278.2H1666.4V1280.9H1663.7H1661.0H1658.3V1278.2H1655.6V1280.9H1652.9H1650.2H1647.5H1644.8H1642.1H1639.4H1636.7V1278.2H1634.0H1631.3V1280.9H1628.6V1278.2H1625.9V1280.9H1623.2H1620.5H1617.8H1615.1H1612.4H1609.7H1607.0H1604.3H1601.6V1278.2H1598.9V1280.9H1596.2V1278.2H1593.5V1280.9H1590.8H1588.1H1585.4H1582.7V1278.2H1580.0V1280.9H1577.3V1278.2H1574.6V1280.9H1571.9V1278.2H1569.2V1280.9H1566.5H1563.8H1561.1H1558.4H1555.7H1553.0H1550.3H1547.6H1544.9H1542.2H1539.5H1536.8H1534.1H1531.4H1528.7H1526.0V1275.5H1523.3V1278.2H1520.6H1517.9V1280.9H1515.2V1278.2H1512.5V1280.9H1509.8H1507.1H1504.4H1501.7H1499.0H1496.3H1493.6H1490.9H1488.2H1485.5H1482.8H1480.1H1477.4H1474.7H1472.0H1469.3H1466.6H1463.9H1461.2H1458.5H1455.8H1453.1H1450.4H1447.7H1445.0H1442.3H1439.6H1436.9H1434.2H1431.5V1278.2H1428.8V1280.9H1426.1V1278.2H1423.4V1280.9H1420.7H1418.0H1415.3V1278.2H1412.6V1280.9H1409.9V1278.2H1407.2V1280.9H1404.5H1401.8V1278.2H1399.1H1396.4V1280.9H1393.7H1391.0H1388.3H1385.6H1382.9H1380.2H1377.5H1374.8H1372.1H1369.4H1366.7H1364.0V1275.5H1361.3V1280.9H1358.6V1275.5H1355.9V1280.9H1353.2V1278.2H1350.5V1280.9H1347.8H1345.1H1342.4H1339.7H1337.0V1278.2H1334.3V1280.9H1331.6H1328.9V1278.2H1326.2H1323.5V1280.9H1320.8H1318.1H1315.4H1312.7H1310.0V1278.2H1307.3V1280.9H1304.6V1278.2H1301.9V1280.9H1299.2V1278.2H1296.5V1280.9H1293.8H1291.1V1278.2H1288.4V1275.5H1285.7V1280.9H1283.0V1275.5H1280.3V1280.9H1277.6H1274.9H1272.2H1269.5H1266.8V1278.2H1264.1V1280.9H1261.4V1278.2H1258.7H1256.0H1253.3V1280.9H1250.6H1247.9V1272.8H1245.2V1280.9H1242.5H1239.8H1237.1V1278.2H1234.4V1280.9H1231.7H1229.0H1226.3H1223.6H1220.9H1218.2V1278.2H1215.5V1280.9H1212.8V1275.5H1210.1V1280.9H1207.4H1204.7H1202.0H1199.3V1278.2H1196.6V1280.9H1193.9V1278.2H1191.2V1280.9H1188.5H1185.8V1278.2H1183.1V1280.9H1180.4H1177.7H1175.0H1172.3H1169.6H1166.9H1164.2H1161.5H1158.8H1156.1H1153.4H1150.7H1148.0H1145.3H1142.6H1139.9V1278.2H1137.2H1134.5V1280.9H1131.8H1129.1V1278.2H1126.4V1275.5H1123.7V1280.9H1121.0H1118.3H1115.6H1112.9H1110.2H1107.5H1104.8V1278.2H1102.1V1280.9H1099.4H1096.7H1094.0H1091.3H1088.6H1085.9H1083.2V1275.5H1080.5V1280.9H1077.8V1275.5H1075.1V1280.9H1072.4H1069.7H1067.0V1275.5H1064.3V1280.9H1061.6V1278.2H1058.9V1280.9H1056.2V1275.5H1053.5H1050.8V1280.9H1048.1V1275.5H1045.4V1278.2H1042.7V1275.5H1040.0V1272.8H1037.3V1275.5H1034.6H1031.9H1029.2V1278.2H1026.5V1272.8H1023.8V1278.2H1021.1V1280.9H1018.4H1015.7H1013.0V1278.2H1010.3V1275.5H1007.6V1280.9H1004.9H1002.2H999.5H996.8V1278.2H994.1V1280.9H991.4H988.7V1278.2H986.0V1280.9H983.3H980.6H977.9V1278.2H975.2V1280.9H972.5H969.8H967.1V1278.2H964.4V1275.5H961.7V1278.2H959.0V1280.9H956.3V1278.2H953.6V1280.9H950.9H948.2H945.5H942.8H940.1H937.4V1278.2H934.7V1280.9H932.0H929.3H926.6H923.9V1270.1H921.2V1280.9H918.5H915.8V1278.2H913.1V1280.9H910.4V1278.2H907.7V1280.9H905.0H902.3H899.6V1278.2H896.9V1280.9H894.2H891.5H888.8H886.1H883.4V1275.5H880.7V1280.9H878.0H875.3V1278.2H872.6V1280.9H869.9H867.2V1278.2H864.5V1275.5H861.8V1280.9H859.1H856.4H853.7H851.0V1278.2H848.3V1275.5H845.6V1280.9H842.9V1278.2H840.2V1280.9H837.5H834.8H832.1H829.4V1278.2H826.7V1280.9H824.0H821.3V1278.2H818.6V1280.9H815.9H813.2H810.5H807.8H805.1H802.4H799.7V1278.2H797.0H794.3H791.6V1280.9H788.9H786.2H783.5H780.8H778.1H775.4V1278.2H772.7V1280.9H770.0V1278.2H767.3H764.6V1280.9H761.9H759.2V1278.2H756.5V1251.2H753.8V1278.2H751.1V1280.9H748.4H745.7H743.0V1278.2H740.3H737.6V1280.9H734.9H732.2V1272.8H729.5V1280.9H726.8H724.1H721.4H718.7V1278.2H716.0V1280.9H713.3H710.6H707.9H705.2H702.5H699.8H697.1H694.4V1278.2H691.7V1280.9H689.0V1275.5H686.3V1270.1H683.6V1256.6H680.9V1270.1H678.2V1218.8H675.5V1275.5H672.8V1280.9H670.1V1278.2H667.4V1280.9H664.7H662.0V1272.8H659.3V1280.9H656.6V1278.2H653.9H651.2V1280.9H648.5H645.8V1278.2H643.1V1280.9H640.4V1275.5H637.7H635.0V1272.8H632.3V1264.7H629.6V1270.1H626.9V1278.2H624.2H621.5V1256.6H618.8V1275.5H616.1V1270.1H613.4V1280.9H610.7H608.0V1272.8H605.3V1278.2H602.6H599.9V1280.9H597.2H594.5H591.8V1278.2H589.1V1280.9H586.4H583.7H581.0V1278.2H578.3V1280.9H575.6H572.9H570.2H567.5H564.8H562.1H559.4H556.7V1278.2H554.0V1280.9H551.3H548.6H545.9H543.2V1278.2H540.5H537.8V1280.9H535.1V1278.2H532.4V1280.9H529.7V1278.2H527.0H524.3V1280.9H521.6V1272.8H518.9V1278.2H516.2V1280.9H513.5H510.8H508.1H505.4V1278.2H502.7V1280.9H500.0H497.3H494.6H491.9V1278.2H489.2V1280.9H486.5V1278.2H483.8V1280.9H481.1V1278.2H478.4V1280.9H475.7H473.0H470.3H467.6V1278.2H464.9V1280.9H462.2V1224.2H459.5V1264.7H456.8V1272.8H454.1V1267.4H451.4V1275.5H448.7V1229.6H446.0V1259.3H443.3V1243.1H440.6V1229.6H437.9H435.2V1232.3H432.5V1243.1H429.8V1240.4H427.1V1237.7H424.4V1235.0H421.7V1270.1H419.0V1259.3H416.3V1280.9H413.6V1278.2H410.9V1256.6H408.2V1280.9H405.5H402.8V1275.5H400.1V1278.2H397.4H394.7H392.0V1275.5H389.3V1278.2H386.6H383.9V1280.9H381.2V1278.2H378.5V1280.9H375.8H373.1H370.4H367.7H365.0H362.3V1270.1H359.6V1272.8H356.9H354.2V1270.1H351.5V1272.8H348.8H346.1V1280.9H343.4H340.7H338.0H335.3H332.6H329.9H327.2H324.5H321.8H319.1Z" fill="#0000c0" clip-path="url(#cp1)" shape-rendering="crispEdges"/>
<path d="M319.1,932.6H321.8H324.5H327.2H329.9H332.6H335.3H338.0H340.7V929.9H343.4V924.5H346.1V916.4H348.8V913.7H351.5H354.2H356.9V911.0H359.6V913.7H362.3V921.8H365.0V924.5H367.7V921.8H370.4V919.1H373.1V921.8H375.8V924.5H378.5H381.2H383.9V927.2H386.6V924.5H389.3V921.8H392.0V919.1H394.7V921.8H397.4V913.7H400.1V902.9H402.8H405.5V865.1H408.2H410.9V870.5H413.6V878.6H416.3H419.0V813.8H421.7H424.4V573.5H427.1H429.8V867.8H432.5V592.4H435.2H437.9V770.6H440.6H443.3V824.6H446.0V811.1H448.7H451.4V848.9H454.1H456.8V808.4H459.5H462.2V816.5H464.9V867.8H467.6H470.3V919.1H473.0V911.0H475.7H478.4V902.9H481.1H483.8H486.5H489.2V924.5H491.9H494.6V905.6H497.3H500.0V924.5H502.7H505.4V919.1H508.1V924.5H510.8V927.2H513.5H516.2V838.1H518.9H521.6V927.2H524.3H527.0H529.7H532.4V919.1H535.1H537.8V927.2H540.5H543.2H545.9V929.9H548.6V927.2H551.3V902.9H554.0H556.7V927.2H559.4V924.5H562.1H564.8V927.2H567.5V921.8H570.2H572.9V924.5H575.6H578.3V927.2H581.0V924.5H583.7V927.2H586.4V921.8H589.1H591.8V924.5H594.5H597.2H599.9H602.6V919.1H605.3V889.4H608.0H610.7V916.4H613.4V913.7H616.1V851.6H618.8H621.5V881.3H624.2V913.7H626.9V916.4H629.6V911.0H632.3H635.0H637.7H640.4V916.4H643.1H645.8V919.1H648.5V921.8H651.2V894.8H653.9H656.6V921.8H659.3V924.5H662.0H664.7V919.1H667.4H670.1V832.7H672.8H675.5V724.7H678.2V813.8H680.9H683.6V870.5H686.3V916.4H689.0V878.6H691.7H694.4V924.5H697.1H699.8H702.5V919.1H705.2V924.5H707.9V927.2H710.6V924.5H713.3V921.8H716.0V924.5H718.7H721.4H724.1H726.8H729.5H732.2H734.9V919.1H737.6H740.3V908.3H743.0H745.7V919.1H748.4H751.1V867.8H753.8V835.4H756.5H759.2V924.5H761.9V921.8H764.6V927.2H767.3H770.0H772.7V929.9H775.4H778.1V924.5H780.8H783.5V929.9H786.2H788.9H791.6V924.5H794.3H797.0V921.8H799.7V911.0H802.4H805.1V924.5H807.8V921.8H810.5V924.5H813.2H815.9H818.6H821.3H824.0V929.9H826.7V905.6H829.4H832.1V924.5H834.8H837.5H840.2V916.4H842.9H845.6V921.8H848.3V913.7H851.0H853.7V902.9H856.4H859.1V924.5H861.8V900.2H864.5H867.2V924.5H869.9V921.8H872.6V924.5H875.3V927.2H878.0H880.7V921.8H883.4H886.1V929.9H888.8H891.5H894.2V927.2H896.9V924.5H899.6V929.9H902.3H905.0H907.7V921.8H910.4V924.5H913.1V916.4H915.8H918.5V897.5H921.2H923.9V921.8H926.6H929.3V924.5H932.0V927.2H934.7V924.5H937.4H940.1V927.2H942.8V929.9H945.5H948.2V927.2H950.9V924.5H953.6V927.2H956.3V919.1H959.0H961.7V924.5H964.4V927.2H967.1H969.8H972.5H975.2H977.9V924.5H980.6V927.2H983.3V919.1H986.0H988.7V927.2H991.4V921.8H994.1H996.8V929.9H999.5V927.2H1002.2H1004.9V921.8H1007.6H1010.3V927.2H1013.0V924.5H1015.7H1018.4H1021.1V921.8H1023.8V916.4H1026.5V908.3H1029.2H1031.9H1034.6H1037.3H1040.0V919.1H1042.7H1045.4V921.8H1048.1V919.1H1050.8V913.7H1053.5H1056.2V919.1H1058.9V924.5H1061.6V921.8H1064.3H1067.0H1069.7H1072.4V911.0H1075.1H1077.8V924.5H1080.5H1083.2H1085.9H1088.6H1091.3V927.2H1094.0V924.5H1096.7H1099.4V927.2H1102.1H1104.8V932.6H1107.5V927.2H1110.2V929.9H1112.9V924.5H1115.6H1118.3V927.2H1121.0H1123.7H1126.4H1129.1V929.9H1131.8V921.8H1134.5H1137.2V927.2H1139.9H1142.6H1145.3H1148.0H1150.7H1153.4V921.8H1156.1V927.2H1158.8H1161.5V924.5H1164.2H1166.9H1169.6V919.1H1172.3H1175.0V927.2H1177.7V929.9H1180.4H1183.1V927.2H1185.8H1188.5H1191.2H1193.9H1196.6H1199.3V929.9H1202.0V924.5H1204.7V927.2H1207.4H1210.1H1212.8V924.5H1215.5H1218.2V929.9H1220.9V927.2H1223.6V929.9H1226.3V927.2H1229.0V921.8H1231.7V924.5H1234.4V916.4H1237.1H1239.8H1242.5H1245.2V921.8H1247.9H1250.6V924.5H1253.3V916.4H1256.0V921.8H1258.7H1261.4H1264.1V908.3H1266.8H1269.5V924.5H1272.2V921.8H1274.9H1277.6V916.4H1280.3H1283.0V924.5H1285.7V919.1H1288.4H1291.1V924.5H1293.8V927.2H1296.5H1299.2V924.5H1301.9V927.2H1304.6H1307.3H1310.0H1312.7V929.9H1315.4V927.2H1318.1H1320.8H1323.5H1326.2H1328.9H1331.6H1334.3H1337.0H1339.7H1342.4H1345.1H1347.8V916.4H1350.5H1353.2V927.2H1355.9H1358.6V929.9H1361.3V924.5H1364.0V927.2H1366.7H1369.4V929.9H1372.1V927.2H1374.8H1377.5H1380.2H1382.9H1385.6H1388.3V929.9H1391.0V927.2H1393.7H1396.4H1399.1V924.5H1401.8H1404.5V927.2H1407.2H1409.9H1412.6H1415.3V929.9H1418.0V927.2H1420.7H1423.4V916.4H1426.1H1428.8V924.5H1431.5V927.2H1434.2V924.5H1436.9H1439.6H1442.3V927.2H1445.0H1447.7H1450.4V929.9H1453.1H1455.8V927.2H1458.5H1461.2H1463.9H1466.6H1469.3H1472.0V929.9H1474.7H1477.4H1480.1V924.5H1482.8H1485.5V927.2H1488.2H1490.9V929.9H1493.6V932.6H1496.3V927.2H1499.0H1501.7H1504.4V929.9H1507.1H1509.8V924.5H1512.5V921.8H1515.2H1517.9V924.5H1520.6H1523.3H1526.0H1528.7V929.9H1531.4V927.2H1534.1H1536.8H1539.5H1542.2V929.9H1544.9V924.5H1547.6H1550.3V929.9H1553.0V927.2H1555.7H1558.4V929.9H1561.1H1563.8H1566.5V927.2H1569.2H1571.9V924.5H1574.6V929.9H1577.3H1580.0V919.1H1582.7H1585.4V929.9H1588.1H1590.8V924.5H1593.5H1596.2V927.2H1598.9V929.9H1601.6V927.2H1604.3V929.9H1607.0H1609.7H1612.4V927.2H1615.1V924.5H1617.8V929.9H1620.5H1623.2H1625.9H1628.6H1631.3H1634.0H1636.7H1639.4V927.2H1642.1V924.5H1644.8V929.9H1647.5H1650.2H1652.9H1655.6H1658.3V921.8H1661.0V927.2H1663.7V929.9H1666.4H1669.1H1671.8H1674.5H1677.2H1679.9V927.2H1682.6V929.9H1685.3H1688.0V927.2H1690.7V929.9H1693.4H1696.1H1698.8H1701.5H1704.2H1706.9H1709.6H1712.3H1715.0H1717.7H1720.4H1723.1V927.2H1725.8V924.5H1728.5V929.9H1731.2V938.0H1728.5H1725.8H1723.1H1720.4H1717.7H1715.0H1712.3H1709.6H1706.9H1704.2V935.3H1701.5V938.0H1698.8H1696.1H1693.4H1690.7H1688.0H1685.3H1682.6H1679.9H1677.2H1674.5H1671.8H1669.1V935.3H1666.4V938.0H1663.7H1661.0H1658.3V935.3H1655.6V938.0H1652.9H1650.2H1647.5H1644.8H1642.1H1639.4H1636.7V935.3H1634.0H1631.3V938.0H1628.6V935.3H1625.9V938.0H1623.2H1620.5H1617.8H1615.1H1612.4H1609.7H1607.0H1604.3H1601.6V935.3H1598.9V938.0H1596.2V935.3H1593.5V938.0H1590.8H1588.1H1585.4H1582.7V935.3H1580.0V938.0H1577.3V935.3H1574.6V938.0H1571.9V935.3H1569.2V938.0H1566.5H1563.8H1561.1H1558.4H1555.7H1553.0H1550.3H1547.6H1544.9H1542.2H1539.5H1536.8H1534.1H1531.4H1528.7H1526.0V932.6H1523.3V935.3H1520.6H1517.9V938.0H1515.2V935.3H1512.5V938.0H1509.8H1507.1H1504.4H1501.7H1499.0H1496.3H1493.6H1490.9H1488.2H1485.5H1482.8H1480.1H1477.4H1474.7H1472.0H1469.3H1466.6H1463.9H1461.2H1458.5H1455.8H1453.1H1450.4H1447.7H1445.0H1442.3H1439.6H1436.9H1434.2H1431.5V935.3H1428.8V938.0H1426.1V935.3H1423.4V938.0H1420.7H1418.0H1415.3V935.3H1412.6V938.0H1409.9V935.3H1407.2V938.0H1404.5H1401.8V935.3H1399.1H1396.4V938.0H1393.7H1391.0H1388.3H1385.6H1382.9H1380.2H1377.5H1374.8H1372.1H1369.4H1366.7H1364.0V932.6H1361.3V938.0H1358.6V932.6H1355.9V938.0H1353.2V935.3H1350.5V938.0H1347.8H1345.1H1342.4H1339.7H1337.0V935.3H1334.3V938.0H1331.6H1328.9V935.3H1326.2H1323.5V938.0H1320.8H1318.1H1315.4H1312.7H1310.0V935.3H1307.3V938.0H1304.6V935.3H1301.9V938.0H1299.2V935.3H1296.5V938.0H1293.8H1291.1V935.3H1288.4V932.6H1285.7V938.0H1283.0V932.6H1280.3V938.0H1277.6H1274.9H1272.2H1269.5H1266.8V935.3H1264.1V938.0H1261.4V935.3H1258.7H1256.0H1253.3V938.0H1250.6H1247.9V929.9H1245.2V938.0H1242.5H1239.8H1237.1V935.3H1234.4V938.0H1231.7H1229.0H1226.3H1223.6H1220.9H1218.2V935.3H1215.5V938.0H1212.8V932.6H1210.1V938.0H1207.4H1204.7H1202.0H1199.3V935.3H1196.6V938.0H1193.9V935.3H1191.2V938.0H1188.5H1185.8V935.3H1183.1V938.0H1180.4H1177.7H1175.0H1172.3H1169.6H1166.9H1164.2H1161.5H1158.8H1156.1H1153.4H1150.7H1148.0H1145.3H1142.6H1139.9V935.3H1137.2H1134.5V938.0H1131.8H1129.1V935.3H1126.4V932.6H1123.7V938.0H1121.0H1118.3H1115.6H1112.9H1110.2H1107.5H1104.8V935.3H1102.1V938.0H1099.4H1096.7H1094.0H1091.3H1088.6H1085.9H1083.2V932.6H1080.5V938.0H1077.8V932.6H1075.1V938.0H1072.4H1069.7H1067.0V932.6H1064.3V938.0H1061.6V935.3H1058.9V938.0H1056.2V932.6H1053.5H1050.8V938.0H1048.1V932.6H1045.4V935.3H1042.7V932.6H1040.0V929.9H1037.3V932.6H1034.6H1031.9H1029.2V935.3H1026.5V929.9H1023.8V935.3H1021.1V938.0H1018.4H1015.7H1013.0V935.3H1010.3V932.6H1007.6V938.0H1004.9H1002.2H999.5H996.8V935.3H994.1V938.0H991.4H988.7V935.3H986.0V938.0H983.3H980.6H977.9V935.3H975.2V938.0H972.5H969.8H967.1V935.3H964.4V932.6H961.7V935.3H959.0V938.0H956.3V935.3H953.6V938.0H950.9H948.2H945.5H942.8H940.1H937.4V935.3H934.7V938.0H932.0H929.3H926.6H923.9V927.2H921.2V938.0H918.5H915.8V935.3H913.1V938.0H910.4V935.3H907.7V938.0H905.0H902.3H899.6V935.3H896.9V938.0H894.2H891.5H888.8H886.1H883.4V932.6H880.7V938.0H878.0H875.3V935.3H872.6V938.0H869.9H867.2V935.3H864.5V932.6H861.8V938.0H859.1H856.4H853.7H851.0V935.3H848.3V932.6H845.6V938.0H842.9V935.3H840.2V938.0H837.5H834.8H832.1H829.4V935.3H826.7V938.0H824.0H821.3V935.3H818.6V938.0H815.9H813.2H810.5H807.8H805.1H802.4H799.7V935.3H797.0H794.3H791.6V938.0H788.9H786.2H783.5H780.8H778.1H775.4V935.3H772.7V938.0H770.0V935.3H767.3H764.6V938.0H761.9H759.2V935.3H756.5V908.3H753.8V935.3H751.1V938.0H748.4H745.7H743.0V935.3H740.3H737.6V938.0H734.9H732.2V929.9H729.5V938.0H726.8H724.1H721.4H718.7V935.3H716.0V938.0H713.3H710.6H707.9H705.2H702.5H699.8H697.1H694.4V935.3H691.7V938.0H689.0V932.6H686.3V927.2H683.6V913.7H680.9V927.2H678.2V875.9H675.5V932.6H672.8V938.0H670.1V935.3H667.4V938.0H664.7H662.0V929.9H659.3V938.0H656.6V935.3H653.9H651.2V938.0H648.5H645.8V935.3H643.1V938.0H640.4V932.6H637.7H635.0V929.9H632.3V921.8H629.6V927.2H626.9V935.3H624.2H621.5V913.7H618.8V932.6H616.1V927.2H613.4V938.0H610.7H608.0V929.9H605.3V935.3H602.6H599.9V938.0H597.2H594.5H591.8V935.3H589.1V938.0H586.4H583.7H581.0V935.3H578.3V938.0H575.6H572.9H570.2H567.5H564.8H562.1H559.4H556.7V935.3H554.0V938.0H551.3H548.6H545.9H543.2V935.3H540.5H537.8V938.0H535.1V935.3H532.4V938.0H529.7V935.3H527.0H524.3V938.0H521.6V929.9H518.9V935.3H516.2V938.0H513.5H510.8H508.1H505.4V935.3H502.7V938.0H500.0H497.3H494.6H491.9V935.3H489.2V938.0H486.5V935.3H483.8V938.0H481.1V935.3H478.4V938.0H475.7H473.0H470.3H467.6V935.3H464.9V938.0H462.2V881.3H459.5V921.8H456.8V929.9H454.1V924.5H451.4V932.6H448.7V886.7H446.0V916.4H443.3V900.2H440.6V886.7H437.9H435.2V889.4H432.5V900.2H429.8V897.5H427.1V894.8H424.4V892.1H421.7V927.2H419.0V916.4H416.3V938.0H413.6V935.3H410.9V913.7H408.2V938.0H405.5H402.8V932.6H400.1V935.3H397.4H394.7H392.0V932.6H389.3V935.3H386.6H383.9V938.0H381.2V935.3H378.5V938.0H375.8H373.1H370.4H367.7H365.0H362.3V927.2H359.6V929.9H356.9H354.2V927.2H351.5V929.9H348.8H346.1V938.0H343.4H340.7H338.0H335.3H332.6H329.9H327.2H324.5H321.8H319.1Z" fill="#009f1e" shape-rendering="crispEdges"/>
<path d="M319.1,1102.7H321.8H324.5H327.2H329.9H332.6H335.3H338.0H340.7V1100.0H343.4V1094.6H346.1V1086.5H348.8V1083.8H351.5H354.2H356.9V1081.1H359.6V1083.8H362.3V1091.9H365.0V1094.6H367.7V1091.9H370.4V1089.2H373.1V1091.9H375.8V1094.6H378.5H381.2H383.9V1097.3H386.6V1094.6H389.3V1091.9H392.0V1089.2H394.7V1091.9H397.4V1083.8H400.1V1073.0H402.8H405.5V1035.2H408.2H410.9V1040.6H413.6V1048.7H416.3H419.0V983.9H421.7H424.4V743.6H427.1H429.8V1037.9H432.5V762.5H435.2H437.9V940.7H440.6H443.3V994.7H446.0V981.2H448.7H451.4V1019.0H454.1H456.8V978.5H459.5H462.2V986.6H464.9V1037.9H467.6H470.3V1089.2H473.0V1081.1H475.7H478.4V1073.0H481.1H483.8H486.5H489.2V1094.6H491.9H494.6V1075.7H497.3H500.0V1094.6H502.7H505.4V1089.2H508.1V1094.6H510.8V1097.3H513.5H516.2V1008.2H518.9H521.6V1097.3H524.3H527.0H529.7H532.4V1089.2H535.1H537.8V1097.3H540.5H543.2H545.9V1100.0H548.6V1097.3H551.3V1073.0H554.0H556.7V1097.3H559.4V1094.6H562.1H564.8V1097.3H567.5V1091.9H570.2H572.9V1094.6H575.6H578.3V1097.3H581.0V1094.6H583.7V1097.3H586.4V1091.9H589.1H591.8V1094.6H594.5H597.2H599.9H602.6V1089.2H605.3V1059.5H608.0H610.7V1086.5H613.4V1083.8H616.1V1021.7H618.8H621.5V1051.4H624.2V1083.8H626.9V1086.5H629.6V1081.1H632.3H635.0H637.7H640.4V1086.5H643.1H645.8V1089.2H648.5V1091.9H651.2V1064.9H653.9H656.6V1091.9H659.3V1094.6H662.0H664.7V1089.2H667.4H670.1V1002.8H672.8H675.5V894.8H678.2V983.9H680.9H683.6V1040.6H686.3V1086.5H689.0V1048.7H691.7H694.4V1094.6H697.1H699.8H702.5V1089.2H705.2V1094.6H707.9V1097.3H710.6V1094.6H713.3V1091.9H716.0V1094.6H718.7H721.4H724.1H726.8H729.5H732.2H734.9V1089.2H737.6H740.3V1078.4H743.0H745.7V1089.2H748.4H751.1V1037.9H753.8V1005.5H756.5H759.2V1094.6H761.9V1091.9H764.6V1097.3H767.3H770.0H772.7V1100.0H775.4H778.1V1094.6H780.8H783.5V1100.0H786.2H788.9H791.6V1094.6H794.3H797.0V1091.9H799.7V1081.1H802.4H805.1V1094.6H807.8V1091.9H810.5V1094.6H813.2H815.9H818.6H821.3H824.0V1100.0H826.7V1075.7H829.4H832.1V1094.6H834.8H837.5H840.2V1086.5H842.9H845.6V1091.9H848.3V1083.8H851.0H853.7V1073.0H856.4H859.1V1094.6H861.8V1070.3H864.5H867.2V1094.6H869.9V1091.9H872.6V1094.6H875.3V1097.3H878.0H880.7V1091.9H883.4H886.1V1100.0H888.8H891.5H894.2V1097.3H896.9V1094.6H899.6V1100.0H902.3H905.0H907.7V1091.9H910.4V1094.6H913.1V1086.5H915.8H918.5V1067.6H921.2H923.9V1091.9H926.6H929.3V1094.6H932.0V1097.3H934.7V1094.6H937.4H940.1V1097.3H942.8V1100.0H945.5H948.2V1097.3H950.9V1094.6H953.6V1097.3H956.3V1089.2H959.0H961.7V1094.6H964.4V1097.3H967.1H969.8H972.5H975.2H977.9V1094.6H980.6V1097.3H983.3V1089.2H986.0H988.7V1097.3H991.4V1091.9H994.1H996.8V1100.0H999.5V1097.3H1002.2H1004.9V1091.9H1007.6H1010.3V1097.3H1013.0V1094.6H1015.7H1018.4H1021.1V1091.9H1023.8V1086.5H1026.5V1078.4H1029.2H1031.9H1034.6H1037.3H1040.0V1089.2H1042.7H1045.4V1091.9H1048.1V1089.2H1050.8V1083.8H1053.5H1056.2V1089.2H1058.9V1094.6H1061.6V1091.9H1064.3H1067.0H1069.7H1072.4V1081.1H1075.1H1077.8V1094.6H1080.5H1083.2H1085.9H1088.6H1091.3V1097.3H1094.0V1094.6H1096.7H1099.4V1097.3H1102.1H1104.8V1102.7H1107.5V1097.3H1110.2V1100.0H1112.9V1094.6H1115.6H1118.3V1097.3H1121.0H1123.7H1126.4H1129.1V1100.0H1131.8V1091.9H1134.5H1137.2V1097.3H1139.9H1142.6H1145.3H1148.0H1150.7H1153.4V1091.9H1156.1V1097.3H1158.8H1161.5V1094.6H1164.2H1166.9H1169.6V1089.2H1172.3H1175.0V1097.3H1177.7V1100.0H1180.4H1183.1V1097.3H1185.8H1188.5H1191.2H1193.9H1196.6H1199.3V1100.0H1202.0V1094.6H1204.7V1097.3H1207.4H1210.1H1212.8V1094.6H1215.5H1218.2V1100.0H1220.9V1097.3H1223.6V1100.0H1226.3V1097.3H1229.0V1091.9H1231.7V1094.6H1234.4V1086.5H1237.1H1239.8H1242.5H1245.2V1091.9H1247.9H1250.6V1094.6H1253.3V1086.5H1256.0V1091.9H1258.7H1261.4H1264.1V1078.4H1266.8H1269.5V1094.6H1272.2V1091.9H1274.9H1277.6V1086.5H1280.3H1283.0V1094.6H1285.7V1089.2H1288.4H1291.1V1094.6H1293.8V1097.3H1296.5H1299.2V1094.6H1301.9V1097.3H1304.6H1307.3H1310.0H1312.7V1100.0H1315.4V1097.3H1318.1H1320.8H1323.5H1326.2H1328.9H1331.6H1334.3H1337.0H1339.7H1342.4H1345.1H1347.8V1086.5H1350.5H1353.2V1097.3H1355.9H1358.6V1100.0H1361.3V1094.6H1364.0V1097.3H1366.7H1369.4V1100.0H1372.1V1097.3H1374.8H1377.5H1380.2H1382.9H1385.6H1388.3V1100.0H1391.0V1097.3H1393.7H1396.4H1399.1V1094.6H1401.8H1404.5V1097.3H1407.2H1409.9H1412.6H1415.3V1100.0H1418.0V1097.3H1420.7H1423.4V1086.5H1426.1H1428.8V1094.6H1431.5V1097.3H1434.2V1094.6H1436.9H1439.6H1442.3V1097.3H1445.0H1447.7H1450.4V1100.0H1453.1H1455.8V1097.3H1458.5H1461.2H1463.9H1466.6H1469.3H1472.0V1100.0H1474.7H1477.4H1480.1V1094.6H1482.8H1485.5V1097.3H1488.2H1490.9V1100.0H1493.6V1102.7H1496.3V1097.3H1499.0H1501.7H1504.4V1100.0H1507.1H1509.8V1094.6H1512.5V1091.9H1515.2H1517.9V1094.6H1520.6H1523.3H1526.0H1528.7V1100.0H1531.4V1097.3H1534.1H1536.8H1539.5H1542.2V1100.0H1544.9V1094.6H1547.6H1550.3V1100.0H1553.0V1097.3H1555.7H1558.4V1100.0H1561.1H1563.8H1566.5V1097.3H1569.2H1571.9V1094.6H1574.6V1100.0H1577.3H1580.0V1089.2H1582.7H1585.4V1100.0H1588.1H1590.8V1094.6H1593.5H1596.2V1097.3H1598.9V1100.0H1601.6V1097.3H1604.3V1100.0H1607.0H1609.7H1612.4V1097.3H1615.1V1094.6H1617.8V1100.0H1620.5H1623.2H1625.9H1628.6H1631.3H1634.0H1636.7H1639.4V1097.3H1642.1V1094.6H1644.8V1100.0H1647.5H1650.2H1652.9H1655.6H1658.3V1091.9H1661.0V1097.3H1663.7V1100.0H1666.4H1669.1H1671.8H1674.5H1677.2H1679.9V1097.3H1682.6V1100.0H1685.3H1688.0V1097.3H1690.7V1100.0H1693.4H1696.1H1698.8H1701.5H1704.2H1706.9H1709.6H1712.3H1715.0H1717.7H1720.4H1723.1V1097.3H1725.8V1094.6H1728.5V1100.0H1731.2V1108.1H1728.5H1725.8H1723.1H1720.4H1717.7H1715.0H1712.3H1709.6H1706.9H1704.2V1105.4H1701.5V1108.1H1698.8H1696.1H1693.4H1690.7H1688.0H1685.3H1682.6H1679.9H1677.2H1674.5H1671.8H1669.1V1105.4H1666.4V1108.1H1663.7H1661.0H1658.3V1105.4H1655.6V1108.1H1652.9H1650.2H1647.5H1644.8H1642.1H1639.4H1636.7V1105.4H1634.0H1631.3V1108.1H1628.6V1105.4H1625.9V1108.1H1623.2H1620.5H1617.8H1615.1H1612.4H1609.7H1607.0H1604.3H1601.6V1105.4H1598.9V1108.1H1596.2V1105.4H1593.5V1108.1H1590.8H1588.1H1585.4H1582.7V1105.4H1580.0V1108.1H1577.3V1105.4H1574.6V1108.1H1571.9V1105.4H1569.2V1108.1H1566.5H1563.8H1561.1H1558.4H1555.7H1553.0H1550.3H1547.6H1544.9H1542.2H1539.5H1536.8H1534.1H1531.4H1528.7H1526.0V1102.7H1523.3V1105.4H1520.6H1517.9V1108.1H1515.2V1105.4H1512.5V1108.1H1509.8H1507.1H1504.4H1501.7H1499.0H1496.3H1493.6H1490.9H1488.2H1485.5H1482.8H1480.1H1477.4H1474.7H1472.0H1469.3H1466.6H1463.9H1461.2H1458.5H1455.8H1453.1H1450.4H1447.7H1445.0H1442.3H1439.6H1436.9H1434.2H1431.5V1105.4H1428.8V1108.1H1426.1V1105.4H1423.4V1108.1H1420.7H1418.0H1415.3V1105.4H1412.6V1108.1H1409.9V1105.4H1407.2V1108.1H1404.5H1401.8V1105.4H1399.1H1396.4V1108.1H1393.7H1391.0H1388.3H1385.6H1382.9H1380.2H1377.5H1374.8H1372.1H1369.4H1366.7H1364.0V1102.7H1361.3V1108.1H1358.6V1102.7H1355.9V1108.1H1353.2V1105.4H1350.5V1108.1H1347.8H1345.1H1342.4H1339.7H1337.0V1105.4H1334.3V1108.1H1331.6H1328.9V1105.4H1326.2H1323.5V1108.1H1320.8H1318.1H1315.4H1312.7H1310.0V1105.4H1307.3V1108.1H1304.6V1105.4H1301.9V1108.1H1299.2V1105.4H1296.5V1108.1H1293.8H1291.1V1105.4H1288.4V1102.7H1285.7V1108.1H1283.0V1102.7H1280.3V1108.1H1277.6H1274.9H1272.2H1269.5H1266.8V1105.4H1264.1V1108.1H1261.4V1105.4H1258.7H1256.0H1253.3V1108.1H1250.6H1247.9V1100.0H1245.2V1108.1H1242.5H1239.8H1237.1V1105.4H1234.4V1108.1H1231.7H1229.0H1226.3H1223.6H1220.9H1218.2V1105.4H1215.5V1108.1H1212.8V1102.7H1210.1V1108.1H1207.4H1204.7H1202.0H1199.3V1105.4H1196.6V1108.1H1193.9V1105.4H1191.2V1108.1H1188.5H1185.8V1105.4H1183.1V1108.1H1180.4H1177.7H1175.0H1172.3H1169.6H1166.9H1164.2H1161.5H1158.8H1156.1H1153.4H1150.7H1148.0H1145.3H1142.6H1139.9V1105.4H1137.2H1134.5V1108.1H1131.8H1129.1V1105.4H1126.4V1102.7H1123.7V1108.1H1121.0H1118.3H1115.6H1112.9H1110.2H1107.5H1104.8V1105.4H1102.1V1108.1H1099.4H1096.7H1094.0H1091.3H1088.6H1085.9H1083.2V1102.7H1080.5V1108.1H1077.8V1102.7H1075.1V1108.1H1072.4H1069.7H1067.0V1102.7H1064.3V1108.1H1061.6V1105.4H1058.9V1108.1H1056.2V1102.7H1053.5H1050.8V1108.1H1048.1V1102.7H1045.4V1105.4H1042.7V1102.7H1040.0V1100.0H1037.3V1102.7H1034.6H1031.9H1029.2V1105.4H1026.5V1100.0H1023.8V1105.4H1021.1V1108.1H1018.4H1015.7H1013.0V1105.4H1010.3V1102.7H1007.6V1108.1H1004.9H1002.2H999.5H996.8V1105.4H994.1V1108.1H991.4H988.7V1105.4H986.0V1108.1H983.3H980.6H977.9V1105.4H975.2V1108.1H972.5H969.8H967.1V1105.4H964.4V1102.7H961.7V1105.4H959.0V1108.1H956.3V1105.4H953.6V1108.1H950.9H948.2H945.5H942.8H940.1H937.4V1105.4H934.7V1108.1H932.0H929.3H926.6H923.9V1097.3H921.2V1108.1H918.5H915.8V1105.4H913.1V1108.1H910.4V1105.4H907.7V1108.1H905.0H902.3H899.6V1105.4H896.9V1108.1H894.2H891.5H888.8H886.1H883.4V1102.7H880.7V1108.1H878.0H875.3V1105.4H872.6V1108.1H869.9H867.2V1105.4H864.5V1102.7H861.8V1108.1H859.1H856.4H853.7H851.0V1105.4H848.3V1102.7H845.6V1108.1H842.9V1105.4H840.2V1108.1H837.5H834.8H832.1H829.4V1105.4H826.7V1108.1H824.0H821.3V1105.4H818.6V1108.1H815.9H813.2H810.5H807.8H805.1H802.4H799.7V1105.4H797.0H794.3H791.6V1108.1H788.9H786.2H783.5H780.8H778.1H775.4V1105.4H772.7V1108.1H770.0V1105.4H767.3H764.6V1108.1H761.9H759.2V1105.4H756.5V1078.4H753.8V1105.4H751.1V1108.1H748.4H745.7H743.0V1105.4H740.3H737.6V1108.1H734.9H732.2V1100.0H729.5V1108.1H726.8H724.1H721.4H718.7V1105.4H716.0V1108.1H713.3H710.6H707.9H705.2H702.5H699.8H697.1H694.4V1105.4H691.7V1108.1H689.0V1102.7H686.3V1097.3H683.6V1083.8H680.9V1097.3H678.2V1046.0H675.5V1102.7H672.8V1108.1H670.1V1105.4H667.4V1108.1H664.7H662.0V1100.0H659.3V1108.1H656.6V1105.4H653.9H651.2V1108.1H648.5H645.8V1105.4H643.1V1108.1H640.4V1102.7H637.7H635.0V1100.0H632.3V1091.9H629.6V1097.3H626.9V1105.4H624.2H621.5V1083.8H618.8V1102.7H616.1V1097.3H613.4V1108.1H610.7H608.0V1100.0H605.3V1105.4H602.6H599.9V1108.1H597.2H594.5H591.8V1105.4H589.1V1108.1H586.4H583.7H581.0V1105.4H578.3V1108.1H575.6H572.9H570.2H567.5H564.8H562.1H559.4H556.7V1105.4H554.0V1108.1H551.3H548.6H545.9H543.2V1105.4H540.5H537.8V1108.1H535.1V1105.4H532.4V1108.1H529.7V1105.4H527.0H524.3V1108.1H521.6V1100.0H518.9V1105.4H516.2V1108.1H513.5H510.8H508.1H505.4V1105.4H502.7V1108.1H500.0H497.3H494.6H491.9V1105.4H489.2V1108.1H486.5V1105.4H483.8V1108.1H481.1V1105.4H478.4V1108.1H475.7H473.0H470.3H467.6V1105.4H464.9V1108.1H462.2V1051.4H459.5V1091.9H456.8V1100.0H454.1V1094.6H451.4V1102.7H448.7V1056.8H446.0V1086.5H443.3V1070.3H440.6V1056.8H437.9H435.2V1059.5H432.5V1070.3H429.8V1067.6H427.1V1064.9H424.4V1062.2H421.7V1097.3H419.0V1086.5H416.3V1108.1H413.6V1105.4H410.9V1083.8H408.2V1108.1H405.5H402.8V1102.7H400.1V1105.4H397.4H394.7H392.0V1102.7H389.3V1105.4H386.6H383.9V1108.1H381.2V1105.4H378.5V1108.1H375.8H373.1H370.4H367.7H365.0H362.3V1097.3H359.6V1100.0H356.9H354.2V1097.3H351.5V1100.0H348.8H346.1V1108.1H343.4H340.7H338.0H335.3H332.6H329.9H327.2H324.5H321.8H319.1Z" fill="#00801a" clip-path="url(#cp2)" shape-rendering="crispEdges"/>
<path d="M319.1,765.2H321.8H324.5H327.2H329.9H332.6H335.3H338.0H340.7V762.5H343.4V757.1H346.1V749.0H348.8V746.3H351.5H354.2H356.9V743.6H359.6V746.3H362.3V754.4H365.0V757.1H367.7V754.4H370.4V751.7H373.1V754.4H375.8V757.1H378.5H381.2H383.9V759.8H386.6V757.1H389.3V754.4H392.0V751.7H394.7V754.4H397.4V746.3H400.1V735.5H402.8H405.5V697.7H408.2H410.9V703.1H413.6V711.2H416.3H419.0V646.4H421.7H424.4V406.1H427.1H429.8V700.4H432.5V425.0H435.2H437.9V603.2H440.6H443.3V657.2H446.0V643.7H448.7H451.4V681.5H454.1H456.8V641.0H459.5H462.2V649.1H464.9V700.4H467.6H470.3V751.7H473.0V743.6H475.7H478.4V735.5H481.1H483.8H486.5H489.2V757.1H491.9H494.6V738.2H497.3H500.0V757.1H502.7H505.4V751.7H508.1V757.1H510.8V759.8H513.5H516.2V670.7H518.9H521.6V759.8H524.3H527.0H529.7H532.4V751.7H535.1H537.8V759.8H540.5H543.2H545.9V762.5H548.6V759.8H551.3V735.5H554.0H556.7V759.8H559.4V757.1H562.1H564.8V759.8H567.5V754.4H570.2H572.9V757.1H575.6H578.3V759.8H581.0V757.1H583.7V759.8H586.4V754.4H589.1H591.8V757.1H594.5H597.2H599.9H602.6V751.7H605.3V722.0H608.0H610.7V749.0H613.4V746.3H616.1V684.2H618.8H621.5V713.9H624.2V746.3H626.9V749.0H629.6V743.6H632.3H635.0H637.7H640.4V749.0H643.1H645.8V751.7H648.5V754.4H651.2V727.4H653.9H656.6V754.4H659.3V757.1H662.0H664.7V751.7H667.4H670.1V665.3H672.8H675.5V557.3H678.2V646.4H680.9H683.6V703.1H686.3V749.0H689.0V711.2H691.7H694.4V757.1H697.1H699.8H702.5V751.7H705.2V757.1H707.9V759.8H710.6V757.1H713.3V754.4H716.0V757.1H718.7H721.4H724.1H726.8H729.5H732.2H734.9V751.7H737.6H740.3V740.9H743.0H745.7V751.7H748.4H751.1V700.4H753.8V668.0H756.5H759.2V757.1H761.9V754.4H764.6V759.8H767.3H770.0H772.7V762.5H775.4H778.1V757.1H780.8H783.5V762.5H786.2H788.9H791.6V757.1H794.3H797.0V754.4H799.7V743.6H802.4H805.1V757.1H807.8V754.4H810.5V757.1H813.2H815.9H818.6H821.3H824.0V762.5H826.7V738.2H829.4H832.1V757.1H834.8H837.5H840.2V749.0H842.9H845.6V754.4H848.3V746.3H851.0H853.7V735.5H856.4H859.1V757.1H861.8V732.8H864.5H867.2V757.1H869.9V754.4H872.6V757.1H875.3V759.8H878.0H880.7V754.4H883.4H886.1V762.5H888.8H891.5H894.2V759.8H896.9V757.1H899.6V762.5H902.3H905.0H907.7V754.4H910.4V757.1H913.1V749.0H915.8H918.5V730.1H921.2H923.9V754.4H926.6H929.3V757.1H932.0V759.8H934.7V757.1H937.4H940.1V759.8H942.8V762.5H945.5H948.2V759.8H950.9V757.1H953.6V759.8H956.3V751.7H959.0H961.7V757.1H964.4V759.8H967.1H969.8H972.5H975.2H977.9V757.1H980.6V759.8H983.3V751.7H986.0H988.7V759.8H991.4V754.4H994.1H996.8V762.5H999.5V759.8H1002.2H1004.9V754.4H1007.6H1010.3V759.8H1013.0V757.1H1015.7H1018.4H1021.1V754.4H1023.8V749.0H1026.5V740.9H1029.2H1031.9H1034.6H1037.3H1040.0V751.7H1042.7H1045.4V754.4H1048.1V751.7H1050.8V746.3H1053.5H1056.2V751.7H1058.9V757.1H1061.6V754.4H1064.3H1067.0H1069.7H1072.4V743.6H1075.1H1077.8V757.1H1080.5H1083.2H1085.9H1088.6H1091.3V759.8H1094.0V757.1H1096.7H1099.4V759.8H1102.1H1104.8V765.2H1107.5V759.8H1110.2V762.5H1112.9V757.1H1115.6H1118.3V759.8H1121.0H1123.7H1126.4H1129.1V762.5H1131.8V754.4H1134.5H1137.2V759.8H1139.9H1142.6H1145.3H1148.0H1150.7H1153.4V754.4H1156.1V759.8H1158.8H1161.5V757.1H1164.2H1166.9H1169.6V751.7H1172.3H1175.0V759.8H1177.7V762.5H1180.4H1183.1V759.8H1185.8H1188.5H1191.2H1193.9H1196.6H1199.3V762.5H1202.0V757.1H1204.7V759.8H1207.4H1210.1H1212.8V757.1H1215.5H1218.2V762.5H1220.9V759.8H1223.6V762.5H1226.3V759.8H1229.0V754.4H1231.7V757.1H1234.4V749.0H1237.1H1239.8H1242.5H1245.2V754.4H1247.9H1250.6V757.1H1253.3V749.0H1256.0V754.4H1258.7H1261.4H1264.1V740.9H1266.8H1269.5V757.1H1272.2V754.4H1274.9H1277.6V749.0H1280.3H1283.0V757.1H1285.7V751.7H1288.4H1291.1V757.1H1293.8V759.8H1296.5H1299.2V757.1H1301.9V759.8H1304.6H1307.3H1310.0H1312.7V762.5H1315.4V759.8H1318.1H1320.8H1323.5H1326.2H1328.9H1331.6H1334.3H1337.0H1339.7H1342.4H1345.1H1347.8V749.0H1350.5H1353.2V759.8H1355.9H1358.6V762.5H1361.3V757.1H1364.0V759.8H1366.7H1369.4V762.5H1372.1V759.8H1374.8H1377.5H1380.2H1382.9H1385.6H1388.3V762.5H1391.0V759.8H1393.7H1396.4H1399.1V757.1H1401.8H1404.5V759.8H1407.2H1409.9H1412.6H1415.3V762.5H1418.0V759.8H1420.7H1423.4V749.0H1426.1H1428.8V757.1H1431.5V759.8H1434.2V757.1H1436.9H1439.6H1442.3V759.8H1445.0H1447.7H1450.4V762.5H1453.1H1455.8V759.8H1458.5H1461.2H1463.9H1466.6H1469.3H1472.0V762.5H1474.7H1477.4H1480.1V757.1H1482.8H1485.5V759.8H1488.2H1490.9V762.5H1493.6V765.2H1496.3V759.8H1499.0H1501.7H1504.4V762.5H1507.1H1509.8V757.1H1512.5V754.4H1515.2H1517.9V757.1H1520.6H1523.3H1526.0H1528.7V762.5H1531.4V759.8H1534.1H1536.8H1539.5H1542.2V762.5H1544.9V757.1H1547.6H1550.3V762.5H1553.0V759.8H1555.7H1558.4V762.5H1561.1H1563.8H1566.5V759.8H1569.2H1571.9V757.1H1574.6V762.5H1577.3H1580.0V751.7H1582.7H1585.4V762.5H1588.1H1590.8V757.1H1593.5H1596.2V759.8H1598.9V762.5H1601.6V759.8H1604.3V762.5H1607.0H1609.7H1612.4V759.8H1615.1V757.1H1617.8V762.5H1620.5H1623.2H1625.9H1628.6H1631.3H1634.0H1636.7H1639.4V759.8H1642.1V757.1H1644.8V762.5H1647.5H1650.2H1652.9H1655.6H1658.3V754.4H1661.0V759.8H1663.7V762.5H1666.4H1669.1H1671.8H1674.5H1677.2H1679.9V759.8H1682.6V762.5H1685.3H1688.0V759.8H1690.7V762.5H1693.4H1696.1H1698.8H1701.5H1704.2H1706.9H1709.6H1712.3H1715.0H1717.7H1720.4H1723.1V759.8H1725.8V757.1H1728.5V762.5H1731.2V770.6H1728.5H1725.8H1723.1H1720.4H1717.7H1715.0H1712.3H1709.6H1706.9H1704.2V767.9H1701.5V770.6H1698.8H1696.1H1693.4H1690.7H1688.0H1685.3H1682.6H1679.9H1677.2H1674.5H1671.8H1669.1V767.9H1666.4V770.6H1663.7H1661.0H1658.3V767.9H1655.6V770.6H1652.9H1650.2H1647.5H1644.8H1642.1H1639.4H1636.7V767.9H1634.0H1631.3V770.6H1628.6V767.9H1625.9V770.6H1623.2H1620.5H1617.8H1615.1H1612.4H1609.7H1607.0H1604.3H1601.6V767.9H1598.9V770.6H1596.2V767.9H1593.5V770.6H1590.8H1588.1H1585.4H1582.7V767.9H1580.0V770.6H1577.3V767.9H1574.6V770.6H1571.9V767.9H1569.2V770.6H1566.5H1563.8H1561.1H1558.4H1555.7H1553.0H1550.3H1547.6H1544.9H1542.2H1539.5H1536.8H1534.1H1531.4H1528.7H1526.0V765.2H1523.3V767.9H1520.6H1517.9V770.6H1515.2V767.9H1512.5V770.6H1509.8H1507.1H1504.4H1501.7H1499.0H1496.3H1493.6H1490.9H1488.2H1485.5H1482.8H1480.1H1477.4H1474.7H1472.0H1469.3H1466.6H1463.9H1461.2H1458.5H1455.8H1453.1H1450.4H1447.7H1445.0H1442.3H1439.6H1436.9H1434.2H1431.5V767.9H1428.8V770.6H1426.1V767.9H1423.4V770.6H1420.7H1418.0H1415.3V767.9H1412.6V770.6H1409.9V767.9H1407.2V770.6H1404.5H1401.8V767.9H1399.1H1396.4V770.6H1393.7H1391.0H1388.3H1385.6H1382.9H1380.2H1377.5H1374.8H1372.1H1369.4H1366.7H1364.0V765.2H1361.3V770.6H1358.6V765.2H1355.9V770.6H1353.2V767.9H1350.5V770.6H1347.8H1345.1H1342.4H1339.7H1337.0V767.9H1334.3V770.6H1331.6H1328.9V767.9H1326.2H1323.5V770.6H1320.8H1318.1H1315.4H1312.7H1310.0V767.9H1307.3V770.6H1304.6V767.9H1301.9V770.6H1299.2V767.9H1296.5V770.6H1293.8H1291.1V767.9H1288.4V765.2H1285.7V770.6H1283.0V765.2H1280.3V770.6H1277.6H1274.9H1272.2H1269.5H1266.8V767.9H1264.1V770.6H1261.4V767.9H1258.7H1256.0H1253.3V770.6H1250.6H1247.9V762.5H1245.2V770.6H1242.5H1239.8H1237.1V767.9H1234.4V770.6H1231.7H1229.0H1226.3H1223.6H1220.9H1218.2V767.9H1215.5V770.6H1212.8V765.2H1210.1V770.6H1207.4H1204.7H1202.0H1199.3V767.9H1196.6V770.6H1193.9V767.9H1191.2V770.6H1188.5H1185.8V767.9H1183.1V770.6H1180.4H1177.7H1175.0H1172.3H1169.6H1166.9H1164.2H1161.5H1158.8H1156.1H1153.4H1150.7H1148.0H1145.3H1142.6H1139.9V767.9H1137.2H1134.5V770.6H1131.8H1129.1V767.9H1126.4V765.2H1123.7V770.6H1121.0H1118.3H1115.6H1112.9H1110.2H1107.5H1104.8V767.9H1102.1V770.6H1099.4H1096.7H1094.0H1091.3H1088.6H1085.9H1083.2V765.2H1080.5V770.6H1077.8V765.2H1075.1V770.6H1072.4H1069.7H1067.0V765.2H1064.3V770.6H1061.6V767.9H1058.9V770.6H1056.2V765.2H1053.5H1050.8V770.6H1048.1V765.2H1045.4V767.9H1042.7V765.2H1040.0V762.5H1037.3V765.2H1034.6H1031.9H1029.2V767.9H1026.5V762.5H1023.8V767.9H1021.1V770.6H1018.4H1015.7H1013.0V767.9H1010.3V765.2H1007.6V770.6H1004.9H1002.2H999.5H996.8V767.9H994.1V770.6H991.4H988.7V767.9H986.0V770.6H983.3H980.6H977.9V767.9H975.2V770.6H972.5H969.8H967.1V767.9H964.4V765.2H961.7V767.9H959.0V770.6H956.3V767.9H953.6V770.6H950.9H948.2H945.5H942.8H940.1H937.4V767.9H934.7V770.6H932.0H929.3H926.6H923.9V759.8H921.2V770.6H918.5H915.8V767.9H913.1V770.6H910.4V767.9H907.7V770.6H905.0H902.3H899.6V767.9H896.9V770.6H894.2H891.5H888.8H886.1H883.4V765.2H880.7V770.6H878.0H875.3V767.9H872.6V770.6H869.9H867.2V767.9H864.5V765.2H861.8V770.6H859.1H856.4H853.7H851.0V767.9H848.3V765.2H845.6V770.6H842.9V767.9H840.2V770.6H837.5H834.8H832.1H829.4V767.9H826.7V770.6H824.0H821.3V767.9H818.6V770.6H815.9H813.2H810.5H807.8H805.1H802.4H799.7V767.9H797.0H794.3H791.6V770.6H788.9H786.2H783.5H780.8H778.1H775.4V767.9H772.7V770.6H770.0V767.9H767.3H764.6V770.6H761.9H759.2V767.9H756.5V740.9H753.8V767.9H751.1V770.6H748.4H745.7H743.0V767.9H740.3H737.6V770.6H734.9H732.2V762.5H729.5V770.6H726.8H724.1H721.4H718.7V767.9H716.0V770.6H713.3H710.6H707.9H705.2H702.5H699.8H697.1H694.4V767.9H691.7V770.6H689.0V765.2H686.3V759.8H683.6V746.3H680.9V759.8H678.2V708.5H675.5V765.2H672.8V770.6H670.1V767.9H667.4V770.6H664.7H662.0V762.5H659.3V770.6H656.6V767.9H653.9H651.2V770.6H648.5H645.8V767.9H643.1V770.6H640.4V765.2H637.7H635.0V762.5H632.3V754.4H629.6V759.8H626.9V767.9H624.2H621.5V746.3H618.8V765.2H616.1V759.8H613.4V770.6H610.7H608.0V762.5H605.3V767.9H602.6H599.9V770.6H597.2H594.5H591.8V767.9H589.1V770.6H586.4H583.7H581.0V767.9H578.3V770.6H575.6H572.9H570.2H567.5H564.8H562.1H559.4H556.7V767.9H554.0V770.6H551.3H548.6H545.9H543.2V767.9H540.5H537.8V770.6H535.1V767.9H532.4V770.6H529.7V767.9H527.0H524.3V770.6H521.6V762.5H518.9V767.9H516.2V770.6H513.5H510.8H508.1H505.4V767.9H502.7V770.6H500.0H497.3H494.6H491.9V767.9H489.2V770.6H486.5V767.9H483.8V770.6H481.1V767.9H478.4V770.6H475.7H473.0H470.3H467.6V767.9H464.9V770.6H462.2V713.9H459.5V754.4H456.8V762.5H454.1V757.1H451.4V765.2H448.7V719.3H446.0V749.0H443.3V732.8H440.6V719.3H437.9H435.2V722.0H432.5V732.8H429.8V730.1H427.1V727.4H424.4V724.7H421.7V759.8H419.0V749.0H416.3V770.6H413.6V767.9H410.9V746.3H408.2V770.6H405.5H402.8V765.2H400.1V767.9H397.4H394.7H392.0V765.2H389.3V767.9H386.6H383.9V770.6H381.2V767.9H378.5V770.6H375.8H373.1H370.4H367.7H365.0H362.3V759.8H359.6V762.5H356.9H354.2V759.8H351.5V762.5H348.8H346.1V770.6H343.4H340.7H338.0H335.3H332.6H329.9H327.2H324.5H321.8H319.1Z" fill="#ff9922" shape-rendering="crispEdges"/>
<path d="M319.1,932.6H321.8H324.5H327.2H329.9H332.6H335.3H338.0H340.7V929.9H343.4V924.5H346.1V916.4H348.8V913.7H351.5H354.2H356.9V911.0H359.6V913.7H362.3V921.8H365.0V924.5H367.7V921.8H370.4V919.1H373.1V921.8H375.8V924.5H378.5H381.2H383.9V927.2H386.6V924.5H389.3V921.8H392.0V919.1H394.7V921.8H397.4V913.7H400.1V902.9H402.8H405.5V865.1H408.2H410.9V870.5H413.6V878.6H416.3H419.0V813.8H421.7H424.4V573.5H427.1H429.8V867.8H432.5V592.4H435.2H437.9V770.6H440.6H443.3V824.6H446.0V811.1H448.7H451.4V848.9H454.1H456.8V808.4H459.5H462.2V816.5H464.9V867.8H467.6H470.3V919.1H473.0V911.0H475.7H478.4V902.9H481.1H483.8H486.5H489.2V924.5H491.9H494.6V905.6H497.3H500.0V924.5H502.7H505.4V919.1H508.1V924.5H510.8V927.2H513.5H516.2V838.1H518.9H521.6V927.2H524.3H527.0H529.7H532.4V919.1H535.1H537.8V927.2H540.5H543.2H545.9V929.9H548.6V927.2H551.3V902.9H554.0H556.7V927.2H559.4V924.5H562.1H564.8V927.2H567.5V921.8H570.2H572.9V924.5H575.6H578.3V927.2H581.0V924.5H583.7V927.2H586.4V921.8H589.1H591.8V924.5H594.5H597.2H599.9H602.6V919.1H605.3V889.4H608.0H610.7V916.4H613.4V913.7H616.1V851.6H618.8H621.5V881.3H624.2V913.7H626.9V916.4H629.6V911.0H632.3H635.0H637.7H640.4V916.4H643.1H645.8V919.1H648.5V921.8H651.2V894.8H653.9H656.6V921.8H659.3V924.5H662.0H664.7V919.1H667.4H670.1V832.7H672.8H675.5V724.7H678.2V813.8H680.9H683.6V870.5H686.3V916.4H689.0V878.6H691.7H694.4V924.5H697.1H699.8H702.5V919.1H705.2V924.5H707.9V927.2H710.6V924.5H713.3V921.8H716.0V924.5H718.7H721.4H724.1H726.8H729.5H732.2H734.9V919.1H737.6H740.3V908.3H743.0H745.7V919.1H748.4H751.1V867.8H753.8V835.4H756.5H759.2V924.5H761.9V921.8H764.6V927.2H767.3H770.0H772.7V929.9H775.4H778.1V924.5H780.8H783.5V929.9H786.2H788.9H791.6V924.5H794.3H797.0V921.8H799.7V911.0H802.4H805.1V924.5H807.8V921.8H810.5V924.5H813.2H815.9H818.6H821.3H824.0V929.9H826.7V905.6H829.4H832.1V924.5H834.8H837.5H840.2V916.4H842.9H845.6V921.8H848.3V913.7H851.0H853.7V902.9H856.4H859.1V924.5H861.8V900.2H864.5H867.2V924.5H869.9V921.8H872.6V924.5H875.3V927.2H878.0H880.7V921.8H883.4H886.1V929.9H888.8H891.5H894.2V927.2H896.9V924.5H899.6V929.9H902.3H905.0H907.7V921.8H910.4V924.5H913.1V916.4H915.8H918.5V897.5H921.2H923.9V921.8H926.6H929.3V924.5H932.0V927.2H934.7V924.5H937.4H940.1V927.2H942.8V929.9H945.5H948.2V927.2H950.9V924.5H953.6V927.2H956.3V919.1H959.0H961.7V924.5H964.4V927.2H967.1H969.8H972.5H975.2H977.9V924.5H980.6V927.2H983.3V919.1H986.0H988.7V927.2H991.4V921.8H994.1H996.8V929.9H999.5V927.2H1002.2H1004.9V921.8H1007.6H1010.3V927.2H1013.0V924.5H1015.7H1018.4H1021.1V921.8H1023.8V916.4H1026.5V908.3H1029.2H1031.9H1034.6H1037.3H1040.0V919.1H1042.7H1045.4V921.8H1048.1V919.1H1050.8V913.7H1053.5H1056.2V919.1H1058.9V924.5H1061.6V921.8H1064.3H1067.0H1069.7H1072.4V911.0H1075.1H1077.8V924.5H1080.5H1083.2H1085.9H1088.6H1091.3V927.2H1094.0V924.5H1096.7H1099.4V927.2H1102.1H1104.8V932.6H1107.5V927.2H1110.2V929.9H1112.9V924.5H1115.6H1118.3V927.2H1121.0H1123.7H1126.4H1129.1V929.9H1131.8V921.8H1134.5H1137.2V927.2H1139.9H1142.6H1145.3H1148.0H1150.7H1153.4V921.8H1156.1V927.2H1158.8H1161.5V924.5H1164.2H1166.9H1169.6V919.1H1172.3H1175.0V927.2H1177.7V929.9H1180.4H1183.1V927.2H1185.8H1188.5H1191.2H1193.9H1196.6H1199.3V929.9H1202.0V924.5H1204.7V927.2H1207.4H1210.1H1212.8V924.5H1215.5H1218.2V929.9H1220.9V927.2H1223.6V929.9H1226.3V927.2H1229.0V921.8H1231.7V924.5H1234.4V916.4H1237.1H1239.8H1242.5H1245.2V921.8H1247.9H1250.6V924.5H1253.3V916.4H1256.0V921.8H1258.7H1261.4H1264.1V908.3H1266.8H1269.5V924.5H1272.2V921.8H1274.9H1277.6V916.4H1280.3H1283.0V924.5H1285.7V919.1H1288.4H1291.1V924.5H1293.8V927.2H1296.5H1299.2V924.5H1301.9V927.2H1304.6H1307.3H1310.0H1312.7V929.9H1315.4V927.2H1318.1H1320.8H1323.5H1326.2H1328.9H1331.6H1334.3H1337.0H1339.7H1342.4H1345.1H1347.8V916.4H1350.5H1353.2V927.2H1355.9H1358.6V929.9H1361.3V924.5H1364.0V927.2H1366.7H1369.4V929.9H1372.1V927.2H1374.8H1377.5H1380.2H1382.9H1385.6H1388.3V929.9H1391.0V927.2H1393.7H1396.4H1399.1V924.5H1401.8H1404.5V927.2H1407.2H1409.9H1412.6H1415.3V929.9H1418.0V927.2H1420.7H1423.4V916.4H1426.1H1428.8V924.5H1431.5V927.2H1434.2V924.5H1436.9H1439.6H1442.3V927.2H1445.0H1447.7H1450.4V929.9H1453.1H1455.8V927.2H1458.5H1461.2H1463.9H1466.6H1469.3H1472.0V929.9H1474.7H1477.4H1480.1V924.5H1482.8H1485.5V927.2H1488.2H1490.9V929.9H1493.6V932.6H1496.3V927.2H1499.0H1501.7H1504.4V929.9H1507.1H1509.8V924.5H1512.5V921.8H1515.2H1517.9V924.5H1520.6H1523.3H1526.0H1528.7V929.9H1531.4V927.2H1534.1H1536.8H1539.5H1542.2V929.9H1544.9V924.5H1547.6H1550.3V929.9H1553.0V927.2H1555.7H1558.4V929.9H1561.1H1563.8H1566.5V927.2H1569.2H1571.9V924.5H1574.6V929.9H1577.3H1580.0V919.1H1582.7H1585.4V929.9H1588.1H1590.8V924.5H1593.5H1596.2V927.2H1598.9V929.9H1601.6V927.2H1604.3V929.9H1607.0H1609.7H1612.4V927.2H1615.1V924.5H1617.8V929.9H1620.5H1623.2H1625.9H1628.6H1631.3H1634.0H1636.7H1639.4V927.2H1642.1V924.5H1644.8V929.9H1647.5H1650.2H1652.9H1655.6H1658.3V921.8H1661.0V927.2H1663.7V929.9H1666.4H1669.1H1671.8H1674.5H1677.2H1679.9V927.2H1682.6V929.9H1685.3H1688.0V927.2H1690.7V929.9H1693.4H1696.1H1698.8H1701.5H1704.2H1706.9H1709.6H1712.3H1715.0H1717.7H1720.4H1723.1V927.2H1725.8V924.5H1728.5V929.9H1731.2V938.0H1728.5H1725.8H1723.1H1720.4H1717.7H1715.0H1712.3H1709.6H1706.9H1704.2V935.3H1701.5V938.0H1698.8H1696.1H1693.4H1690.7H1688.0H1685.3H1682.6H1679.9H1677.2H1674.5H1671.8H1669.1V935.3H1666.4V938.0H1663.7H1661.0H1658.3V935.3H1655.6V938.0H1652.9H1650.2H1647.5H1644.8H1642.1H1639.4H1636.7V935.3H1634.0H1631.3V938.0H1628.6V935.3H1625.9V938.0H1623.2H1620.5H1617.8H1615.1H1612.4H1609.7H1607.0H1604.3H1601.6V935.3H1598.9V938.0H1596.2V935.3H1593.5V938.0H1590.8H1588.1H1585.4H1582.7V935.3H1580.0V938.0H1577.3V935.3H1574.6V938.0H1571.9V935.3H1569.2V938.0H1566.5H1563.8H1561.1H1558.4H1555.7H1553.0H1550.3H1547.6H1544.9H1542.2H1539.5H1536.8H1534.1H1531.4H1528.7H1526.0V932.6H1523.3V935.3H1520.6H1517.9V938.0H1515.2V935.3H1512.5V938.0H1509.8H1507.1H1504.4H1501.7H1499.0H1496.3H1493.6H1490.9H1488.2H1485.5H1482.8H1480.1H1477.4H1474.7H1472.0H1469.3H1466.6H1463.9H1461.2H1458.5H1455.8H1453.1H1450.4H1447.7H1445.0H1442.3H1439.6H1436.9H1434.2H1431.5V935.3H1428.8V938.0H1426.1V935.3H1423.4V938.0H1420.7H1418.0H1415.3V935.3H1412.6V938.0H1409.9V935.3H1407.2V938.0H1404.5H1401.8V935.3H1399.1H1396.4V938.0H1393.7H1391.0H1388.3H1385.6H1382.9H1380.2H1377.5H1374.8H1372.1H1369.4H1366.7H1364.0V932.6H1361.3V938.0H1358.6V932.6H1355.9V938.0H1353.2V935.3H1350.5V938.0H1347.8H1345.1H1342.4H1339.7H1337.0V935.3H1334.3V938.0H1331.6H1328.9V935.3H1326.2H1323.5V938.0H1320.8H1318.1H1315.4H1312.7H1310.0V935.3H1307.3V938.0H1304.6V935.3H1301.9V938.0H1299.2V935.3H1296.5V938.0H1293.8H1291.1V935.3H1288.4V932.6H1285.7V938.0H1283.0V932.6H1280.3V938.0H1277.6H1274.9H1272.2H1269.5H1266.8V935.3H1264.1V938.0H1261.4V935.3H1258.7H1256.0H1253.3V938.0H1250.6H1247.9V929.9H1245.2V938.0H1242.5H1239.8H1237.1V935.3H1234.4V938.0H1231.7H1229.0H1226.3H1223.6H1220.9H1218.2V935.3H1215.5V938.0H1212.8V932.6H1210.1V938.0H1207.4H1204.7H1202.0H1199.3V935.3H1196.6V938.0H1193.9V935.3H1191.2V938.0H1188.5H1185.8V935.3H1183.1V938.0H1180.4H1177.7H1175.0H1172.3H1169.6H1166.9H1164.2H1161.5H1158.8H1156.1H1153.4H1150.7H1148.0H1145.3H1142.6H1139.9V935.3H1137.2H1134.5V938.0H1131.8H1129.1V935.3H1126.4V932.6H1123.7V938.0H1121.0H1118.3H1115.6H1112.9H1110.2H1107.5H1104.8V935.3H1102.1V938.0H1099.4H1096.7H1094.0H1091.3H1088.6H1085.9H1083.2V932.6H1080.5V938.0H1077.8V932.6H1075.1V938.0H1072.4H1069.7H1067.0V932.6H1064.3V938.0H1061.6V935.3H1058.9V938.0H1056.2V932.6H1053.5H1050.8V938.0H1048.1V932.6H1045.4V935.3H1042.7V932.6H1040.0V929.9H1037.3V932.6H1034.6H1031.9H1029.2V935.3H1026.5V929.9H1023.8V935.3H1021.1V938.0H1018.4H1015.7H1013.0V935.3H1010.3V932.6H1007.6V938.0H1004.9H1002.2H999.5H996.8V935.3H994.1V938.0H991.4H988.7V935.3H986.0V938.0H983.3H980.6H977.9V935.3H975.2V938.0H972.5H969.8H967.1V935.3H964.4V932.6H961.7V935.3H959.0V938.0H956.3V935.3H953.6V938.0H950.9H948.2H945.5H942.8H940.1H937.4V935.3H934.7V938.0H932.0H929.3H926.6H923.9V927.2H921.2V938.0H918.5H915.8V935.3H913.1V938.0H910.4V935.3H907.7V938.0H905.0H902.3H899.6V935.3H896.9V938.0H894.2H891.5H888.8H886.1H883.4V932.6H880.7V938.0H878.0H875.3V935.3H872.6V938.0H869.9H867.2V935.3H864.5V932.6H861.8V938.0H859.1H856.4H853.7H851.0V935.3H848.3V932.6H845.6V938.0H842.9V935.3H840.2V938.0H837.5H834.8H832.1H829.4V935.3H826.7V938.0H824.0H821.3V935.3H818.6V938.0H815.9H813.2H810.5H807.8H805.1H802.4H799.7V935.3H797.0H794.3H791.6V938.0H788.9H786.2H783.5H780.8H778.1H775.4V935.3H772.7V938.0H770.0V935.3H767.3H764.6V938.0H761.9H759.2V935.3H756.5V908.3H753.8V935.3H751.1V938.0H748.4H745.7H743.0V935.3H740.3H737.6V938.0H734.9H732.2V929.9H729.5V938.0H726.8H724.1H721.4H718.7V935.3H716.0V938.0H713.3H710.6H707.9H705.2H702.5H699.8H697.1H694.4V935.3H691.7V938.0H689.0V932.6H686.3V927.2H683.6V913.7H680.9V927.2H678.2V875.9H675.5V932.6H672.8V938.0H670.1V935.3H667.4V938.0H664.7H662.0V929.9H659.3V938.0H656.6V935.3H653.9H651.2V938.0H648.5H645.8V935.3H643.1V938.0H640.4V932.6H637.7H635.0V929.9H632.3V921.8H629.6V927.2H626.9V935.3H624.2H621.5V913.7H618.8V932.6H616.1V927.2H613.4V938.0H610.7H608.0V929.9H605.3V935.3H602.6H599.9V938.0H597.2H594.5H591.8V935.3H589.1V938.0H586.4H583.7H581.0V935.3H578.3V938.0H575.6H572.9H570.2H567.5H564.8H562.1H559.4H556.7V935.3H554.0V938.0H551.3H548.6H545.9H543.2V935.3H540.5H537.8V938.0H535.1V935.3H532.4V938.0H529.7V935.3H527.0H524.3V938.0H521.6V929.9H518.9V935.3H516.2V938.0H513.5H510.8H508.1H505.4V935.3H502.7V938.0H500.0H497.3H494.6H491.9V935.3H489.2V938.0H486.5V935.3H483.8V938.0H481.1V935.3H478.4V938.0H475.7H473.0H470.3H467.6V935.3H464.9V938.0H462.2V881.3H459.5V921.8H456.8V929.9H454.1V924.5H451.4V932.6H448.7V886.7H446.0V916.4H443.3V900.2H440.6V886.7H437.9H435.2V889.4H432.5V900.2H429.8V897.5H427.1V894.8H424.4V892.1H421.7V927.2H419.0V916.4H416.3V938.0H413.6V935.3H410.9V913.7H408.2V938.0H405.5H402.8V932.6H400.1V935.3H397.4H394.7H392.0V932.6H389.3V935.3H386.6H383.9V938.0H381.2V935.3H378.5V938.0H375.8H373.1H370.4H367.7H365.0H362.3V927.2H359.6V929.9H356.9H354.2V927.2H351.5V929.9H348.8H346.1V938.0H343.4H340.7H338.0H335.3H332.6H329.9H327.2H324.5H321.8H319.1Z" fill="#ff8800" clip-path="url(#cp3)" shape-rendering="crispEdges"/>
<path d="M319.1,595.1H321.8H324.5H327.2H329.9H332.6H335.3H338.0H340.7V592.4H343.4V587.0H346.1V578.9H348.8V576.2H351.5H354.2H356.9V573.5H359.6V576.2H362.3V584.3H365.0V587.0H367.7V584.3H370.4V581.6H373.1V584.3H375.8V587.0H378.5H381.2H383.9V589.7H386.6V587.0H389.3V584.3H392.0V581.6H394.7V584.3H397.4V576.2H400.1V565.4H402.8H405.5V527.6H408.2H410.9V533.0H413.6V541.1H416.3H419.0V476.3H421.7H424.4V236.0H427.1H429.8V530.3H432.5V254.9H435.2H437.9V433.1H440.6H443.3V487.1H446.0V473.6H448.7H451.4V511.4H454.1H456.8V470.9H459.5H462.2V479.0H464.9V530.3H467.6H470.3V581.6H473.0V573.5H475.7H478.4V565.4H481.1H483.8H486.5H489.2V587.0H491.9H494.6V568.1H497.3H500.0V587.0H502.7H505.4V581.6H508.1V587.0H510.8V589.7H513.5H516.2V500.6H518.9H521.6V589.7H524.3H527.0H529.7H532.4V581.6H535.1H537.8V589.7H540.5H543.2H545.9V592.4H548.6V589.7H551.3V565.4H554.0H556.7V589.7H559.4V587.0H562.1H564.8V589.7H567.5V584.3H570.2H572.9V587.0H575.6H578.3V589.7H581.0V587.0H583.7V589.7H586.4V584.3H589.1H591.8V587.0H594.5H597.2H599.9H602.6V581.6H605.3V551.9H608.0H610.7V578.9H613.4V576.2H616.1V514.1H618.8H621.5V543.8H624.2V576.2H626.9V578.9H629.6V573.5H632.3H635.0H637.7H640.4V578.9H643.1H645.8V581.6H648.5V584.3H651.2V557.3H653.9H656.6V584.3H659.3V587.0H662.0H664.7V581.6H667.4H670.1V495.2H672.8H675.5V387.2H678.2V476.3H680.9H683.6V533.0H686.3V578.9H689.0V541.1H691.7H694.4V587.0H697.1H699.8H702.5V581.6H705.2V587.0H707.9V589.7H710.6V587.0H713.3V584.3H716.0V587.0H718.7H721.4H724.1H726.8H729.5H732.2H734.9V581.6H737.6H740.3V570.8H743.0H745.7V581.6H748.4H751.1V530.3H753.8V497.9H756.5H759.2V587.0H761.9V584.3H764.6V589.7H767.3H770.0H772.7V592.4H775.4H778.1V587.0H780.8H783.5V592.4H786.2H788.9H791.6V587.0H794.3H797.0V584.3H799.7V573.5H802.4H805.1V587.0H807.8V584.3H810.5V587.0H813.2H815.9H818.6H821.3H824.0V592.4H826.7V568.1H829.4H832.1V587.0H834.8H837.5H840.2V578.9H842.9H845.6V584.3H848.3V576.2H851.0H853.7V565.4H856.4H859.1V587.0H861.8V562.7H864.5H867.2V587.0H869.9V584.3H872.6V587.0H875.3V589.7H878.0H880.7V584.3H883.4H886.1V592.4H888.8H891.5H894.2V589.7H896.9V587.0H899.6V592.4H902.3H905.0H907.7V584.3H910.4V587.0H913.1V578.9H915.8H918.5V560.0H921.2H923.9V584.3H926.6H929.3V587.0H932.0V589.7H934.7V587.0H937.4H940.1V589.7H942.8V592.4H945.5H948.2V589.7H950.9V587.0H953.6V589.7H956.3V581.6H959.0H961.7V587.0H964.4V589.7H967.1H969.8H972.5H975.2H977.9V587.0H980.6V589.7H983.3V581.6H986.0H988.7V589.7H991.4V584.3H994.1H996.8V592.4H999.5V589.7H1002.2H1004.9V584.3H1007.6H1010.3V589.7H1013.0V587.0H1015.7H1018.4H1021.1V584.3H1023.8V578.9H1026.5V570.8H1029.2H1031.9H1034.6H1037.3H1040.0V581.6H1042.7H1045.4V584.3H1048.1V581.6H1050.8V576.2H1053.5H1056.2V581.6H1058.9V587.0H1061.6V584.3H1064.3H1067.0H1069.7H1072.4V573.5H1075.1H1077.8V587.0H1080.5H1083.2H1085.9H1088.6H1091.3V589.7H1094.0V587.0H1096.7H1099.4V589.7H1102.1H1104.8V595.1H1107.5V589.7H1110.2V592.4H1112.9V587.0H1115.6H1118.3V589.7H1121.0H1123.7H1126.4H1129.1V592.4H1131.8V584.3H1134.5H1137.2V589.7H1139.9H1142.6H1145.3H1148.0H1150.7H1153.4V584.3H1156.1V589.7H1158.8H1161.5V587.0H1164.2H1166.9H1169.6V581.6H1172.3H1175.0V589.7H1177.7V592.4H1180.4H1183.1V589.7H1185.8H1188.5H1191.2H1193.9H1196.6H1199.3V592.4H1202.0V587.0H1204.7V589.7H1207.4H1210.1H1212.8V587.0H1215.5H1218.2V592.4H1220.9V589.7H1223.6V592.4H1226.3V589.7H1229.0V584.3H1231.7V587.0H1234.4V578.9H1237.1H1239.8H1242.5H1245.2V584.3H1247.9H1250.6V587.0H1253.3V578.9H1256.0V584.3H1258.7H1261.4H1264.1V570.8H1266.8H1269.5V587.0H1272.2V584.3H1274.9H1277.6V578.9H1280.3H1283.0V587.0H1285.7V581.6H1288.4H1291.1V587.0H1293.8V589.7H1296.5H1299.2V587.0H1301.9V589.7H1304.6H1307.3H1310.0H1312.7V592.4H1315.4V589.7H1318.1H1320.8H1323.5H1326.2H1328.9H1331.6H1334.3H1337.0H1339.7H1342.4H1345.1H1347.8V578.9H1350.5H1353.2V589.7H1355.9H1358.6V592.4H1361.3V587.0H1364.0V589.7H1366.7H1369.4V592.4H1372.1V589.7H1374.8H1377.5H1380.2H1382.9H1385.6H1388.3V592.4H1391.0V589.7H1393.7H1396.4H1399.1V587.0H1401.8H1404.5V589.7H1407.2H1409.9H1412.6H1415.3V592.4H1418.0V589.7H1420.7H1423.4V578.9H1426.1H1428.8V587.0H1431.5V589.7H1434.2V587.0H1436.9H1439.6H1442.3V589.7H1445.0H1447.7H1450.4V592.4H1453.1H1455.8V589.7H1458.5H1461.2H1463.9H1466.6H1469.3H1472.0V592.4H1474.7H1477.4H1480.1V587.0H1482.8H1485.5V589.7H1488.2H1490.9V592.4H1493.6V595.1H1496.3V589.7H1499.0H1501.7H1504.4V592.4H1507.1H1509.8V587.0H1512.5V584.3H1515.2H1517.9V587.0H1520.6H1523.3H1526.0H1528.7V592.4H1531.4V589.7H1534.1H1536.8H1539.5H1542.2V592.4H1544.9V587.0H1547.6H1550.3V592.4H1553.0V589.7H1555.7H1558.4V592.4H1561.1H1563.8H1566.5V589.7H1569.2H1571.9V587.0H1574.6V592.4H1577.3H1580.0V581.6H1582.7H1585.4V592.4H1588.1H1590.8V587.0H1593.5H1596.2V589.7H1598.9V592.4H1601.6V589.7H1604.3V592.4H1607.0H1609.7H1612.4V589.7H1615.1V587.0H1617.8V592.4H1620.5H1623.2H1625.9H1628.6H1631.3H1634.0H1636.7H1639.4V589.7H1642.1V587.0H1644.8V592.4H1647.5H1650.2H1652.9H1655.6H1658.3V584.3H1661.0V589.7H1663.7V592.4H1666.4H1669.1H1671.8H1674.5H1677.2H1679.9V589.7H1682.6V592.4H1685.3H1688.0V589.7H1690.7V592.4H1693.4H1696.1H1698.8H1701.5H1704.2H1706.9H1709.6H1712.3H1715.0H1717.7H1720.4H1723.1V589.7H1725.8V587.0H1728.5V592.4H1731.2V600.5H1728.5H1725.8H1723.1H1720.4H1717.7H1715.0H1712.3H1709.6H1706.9H1704.2V597.8H1701.5V600.5H1698.8H1696.1H1693.4H1690.7H1688.0H1685.3H1682.6H1679.9H1677.2H1674.5H1671.8H1669.1V597.8H1666.4V600.5H1663.7H1661.0H1658.3V597.8H1655.6V600.5H1652.9H1650.2H1647.5H1644.8H1642.1H1639.4H1636.7V597.8H1634.0H1631.3V600.5H1628.6V597.8H1625.9V600.5H1623.2H1620.5H1617.8H1615.1H1612.4H1609.7H1607.0H1604.3H1601.6V597.8H1598.9V600.5H1596.2V597.8H1593.5V600.5H1590.8H1588.1H1585.4H1582.7V597.8H1580.0V600.5H1577.3V597.8H1574.6V600.5H1571.9V597.8H1569.2V600.5H1566.5H1563.8H1561.1H1558.4H1555.7H1553.0H1550.3H1547.6H1544.9H1542.2H1539.5H1536.8H1534.1H1531.4H1528.7H1526.0V595.1H1523.3V597.8H1520.6H1517.9V600.5H1515.2V597.8H1512.5V600.5H1509.8H1507.1H1504.4H1501.7H1499.0H1496.3H1493.6H1490.9H1488.2H1485.5H1482.8H1480.1H1477.4H1474.7H1472.0H1469.3H1466.6H1463.9H1461.2H1458.5H1455.8H1453.1H1450.4H1447.7H1445.0H1442.3H1439.6H1436.9H1434.2H1431.5V597.8H1428.8V600.5H1426.1V597.8H1423.4V600.5H1420.7H1418.0H1415.3V597.8H1412.6V600.5H1409.9V597.8H1407.2V600.5H1404.5H1401.8V597.8H1399.1H1396.4V600.5H1393.7H1391.0H1388.3H1385.6H1382.9H1380.2H1377.5H1374.8H1372.1H1369.4H1366.7H1364.0V595.1H1361.3V600.5H1358.6V595.1H1355.9V600.5H1353.2V597.8H1350.5V600.5H1347.8H1345.1H1342.4H1339.7H1337.0V597.8H1334.3V600.5H1331.6H1328.9V597.8H1326.2H1323.5V600.5H1320.8H1318.1H1315.4H1312.7H1310.0V597.8H1307.3V600.5H1304.6V597.8H1301.9V600.5H1299.2V597.8H1296.5V600.5H1293.8H1291.1V597.8H1288.4V595.1H1285.7V600.5H1283.0V595.1H1280.3V600.5H1277.6H1274.9H1272.2H1269.5H1266.8V597.8H1264.1V600.5H1261.4V597.8H1258.7H1256.0H1253.3V600.5H1250.6H1247.9V592.4H1245.2V600.5H1242.5H1239.8H1237.1V597.8H1234.4V600.5H1231.7H1229.0H1226.3H1223.6H1220.9H1218.2V597.8H1215.5V600.5H1212.8V595.1H1210.1V600.5H1207.4H1204.7H1202.0H1199.3V597.8H1196.6V600.5H1193.9V597.8H1191.2V600.5H1188.5H1185.8V597.8H1183.1V600.5H1180.4H1177.7H1175.0H1172.3H1169.6H1166.9H1164.2H1161.5H1158.8H1156.1H1153.4H1150.7H1148.0H1145.3H1142.6H1139.9V597.8H1137.2H1134.5V600.5H1131.8H1129.1V597.8H1126.4V595.1H1123.7V600.5H1121.0H1118.3H1115.6H1112.9H1110.2H1107.5H1104.8V597.8H1102.1V600.5H1099.4H1096.7H1094.0H1091.3H1088.6H1085.9H1083.2V595.1H1080.5V600.5H1077.8V595.1H1075.1V600.5H1072.4H1069.7H1067.0V595.1H1064.3V600.5H1061.6V597.8H1058.9V600.5H1056.2V595.1H1053.5H1050.8V600.5H1048.1V595.1H1045.4V597.8H1042.7V595.1H1040.0V592.4H1037.3V595.1H1034.6H1031.9H1029.2V597.8H1026.5V592.4H1023.8V597.8H1021.1V600.5H1018.4H1015.7H1013.0V597.8H1010.3V595.1H1007.6V600.5H1004.9H1002.2H999.5H996.8V597.8H994.1V600.5H991.4H988.7V597.8H986.0V600.5H983.3H980.6H977.9V597.8H975.2V600.5H972.5H969.8H967.1V597.8H964.4V595.1H961.7V597.8H959.0V600.5H956.3V597.8H953.6V600.5H950.9H948.2H945.5H942.8H940.1H937.4V597.8H934.7V600.5H932.0H929.3H926.6H923.9V589.7H921.2V600.5H918.5H915.8V597.8H913.1V600.5H910.4V597.8H907.7V600.5H905.0H902.3H899.6V597.8H896.9V600.5H894.2H891.5H888.8H886.1H883.4V595.1H880.7V600.5H878.0H875.3V597.8H872.6V600.5H869.9H867.2V597.8H864.5V595.1H861.8V600.5H859.1H856.4H853.7H851.0V597.8H848.3V595.1H845.6V600.5H842.9V597.8H840.2V600.5H837.5H834.8H832.1H829.4V597.8H826.7V600.5H824.0H821.3V597.8H818.6V600.5H815.9H813.2H810.5H807.8H805.1H802.4H799.7V597.8H797.0H794.3H791.6V600.5H788.9H786.2H783.5H780.8H778.1H775.4V597.8H772.7V600.5H770.0V597.8H767.3H764.6V600.5H761.9H759.2V597.8H756.5V570.8H753.8V597.8H751.1V600.5H748.4H745.7H743.0V597.8H740.3H737.6V600.5H734.9H732.2V592.4H729.5V600.5H726.8H724.1H721.4H718.7V597.8H716.0V600.5H713.3H710.6H707.9H705.2H702.5H699.8H697.1H694.4V597.8H691.7V600.5H689.0V595.1H686.3V589.7H683.6V576.2H680.9V589.7H678.2V538.4H675.5V595.1H672.8V600.5H670.1V597.8H667.4V600.5H664.7H662.0V592.4H659.3V600.5H656.6V597.8H653.9H651.2V600.5H648.5H645.8V597.8H643.1V600.5H640.4V595.1H637.7H635.0V592.4H632.3V584.3H629.6V589.7H626.9V597.8H624.2H621.5V576.2H618.8V595.1H616.1V589.7H613.4V600.5H610.7H608.0V592.4H605.3V597.8H602.6H599.9V600.5H597.2H594.5H591.8V597.8H589.1V600.5H586.4H583.7H581.0V597.8H578.3V600.5H575.6H572.9H570.2H567.5H564.8H562.1H559.4H556.7V597.8H554.0V600.5H551.3H548.6H545.9H543.2V597.8H540.5H537.8V600.5H535.1V597.8H532.4V600.5H529.7V597.8H527.0H524.3V600.5H521.6V592.4H518.9V597.8H516.2V600.5H513.5H510.8H508.1H505.4V597.8H502.7V600.5H500.0H497.3H494.6H491.9V597.8H489.2V600.5H486.5V597.8H483.8V600.5H481.1V597.8H478.4V600.5H475.7H473.0H470.3H467.6V597.8H464.9V600.5H462.2V543.8H459.5V584.3H456.8V592.4H454.1V587.0H451.4V595.1H448.7V549.2H446.0V578.9H443.3V562.7H440.6V549.2H437.9H435.2V551.9H432.5V562.7H429.8V560.0H427.1V557.3H424.4V554.6H421.7V589.7H419.0V578.9H416.3V600.5H413.6V597.8H410.9V576.2H408.2V600.5H405.5H402.8V595.1H400.1V597.8H397.4H394.7H392.0V595.1H389.3V597.8H386.6H383.9V600.5H381.2V597.8H378.5V600.5H375.8H373.1H370.4H367.7H365.0H362.3V589.7H359.6V592.4H356.9H354.2V589.7H351.5V592.4H348.8H346.1V600.5H343.4H340.7H338.0H335.3H332.6H329.9H327.2H324.5H321.8H319.1Z" fill="#ff99ff" shape-rendering="crispEdges"/>
<path d="M319.1,765.2H321.8H324.5H327.2H329.9H332.6H335.3H338.0H340.7V762.5H343.4V757.1H346.1V749.0H348.8V746.3H351.5H354.2H356.9V743.6H359.6V746.3H362.3V754.4H365.0V757.1H367.7V754.4H370.4V751.7H373.1V754.4H375.8V757.1H378.5H381.2H383.9V759.8H386.6V757.1H389.3V754.4H392.0V751.7H394.7V754.4H397.4V746.3H400.1V735.5H402.8H405.5V697.7H408.2H410.9V703.1H413.6V711.2H416.3H419.0V646.4H421.7H424.4V406.1H427.1H429.8V700.4H432.5V425.0H435.2H437.9V603.2H440.6H443.3V657.2H446.0V643.7H448.7H451.4V681.5H454.1H456.8V641.0H459.5H462.2V649.1H464.9V700.4H467.6H470.3V751.7H473.0V743.6H475.7H478.4V735.5H481.1H483.8H486.5H489.2V757.1H491.9H494.6V738.2H497.3H500.0V757.1H502.7H505.4V751.7H508.1V757.1H510.8V759.8H513.5H516.2V670.7H518.9H521.6V759.8H524.3H527.0H529.7H532.4V751.7H535.1H537.8V759.8H540.5H543.2H545.9V762.5H548.6V759.8H551.3V735.5H554.0H556.7V759.8H559.4V757.1H562.1H564.8V759.8H567.5V754.4H570.2H572.9V757.1H575.6H578.3V759.8H581.0V757.1H583.7V759.8H586.4V754.4H589.1H591.8V757.1H594.5H597.2H599.9H602.6V751.7H605.3V722.0H608.0H610.7V749.0H613.4V746.3H616.1V684.2H618.8H621.5V713.9H624.2V746.3H626.9V749.0H629.6V743.6H632.3H635.0H637.7H640.4V749.0H643.1H645.8V751.7H648.5V754.4H651.2V727.4H653.9H656.6V754.4H659.3V757.1H662.0H664.7V751.7H667.4H670.1V665.3H672.8H675.5V557.3H678.2V646.4H680.9H683.6V703.1H686.3V749.0H689.0V711.2H691.7H694.4V757.1H697.1H699.8H702.5V751.7H705.2V757.1H707.9V759.8H710.6V757.1H713.3V754.4H716.0V757.1H718.7H721.4H724.1H726.8H729.5H732.2H734.9V751.7H737.6H740.3V740.9H743.0H745.7V751.7H748.4H751.1V700.4H753.8V668.0H756.5H759.2V757.1H761.9V754.4H764.6V759.8H767.3H770.0H772.7V762.5H775.4H778.1V757.1H780.8H783.5V762.5H786.2H788.9H791.6V757.1H794.3H797.0V754.4H799.7V743.6H802.4H805.1V757.1H807.8V754.4H810.5V757.1H813.2H815.9H818.6H821.3H824.0V762.5H826.7V738.2H829.4H832.1V757.1H834.8H837.5H840.2V749.0H842.9H845.6V754.4H848.3V746.3H851.0H853.7V735.5H856.4H859.1V757.1H861.8V732.8H864.5H867.2V757.1H869.9V754.4H872.6V757.1H875.3V759.8H878.0H880.7V754.4H883.4H886.1V762.5H888.8H891.5H894.2V759.8H896.9V757.1H899.6V762.5H902.3H905.0H907.7V754.4H910.4V757.1H913.1V749.0H915.8H918.5V730.1H921.2H923.9V754.4H926.6H929.3V757.1H932.0V759.8H934.7V757.1H937.4H940.1V759.8H942.8V762.5H945.5H948.2V759.8H950.9V757.1H953.6V759.8H956.3V751.7H959.0H961.7V757.1H964.4V759.8H967.1H969.8H972.5H975.2H977.9V757.1H980.6V759.8H983.3V751.7H986.0H988.7V759.8H991.4V754.4H994.1H996.8V762.5H999.5V759.8H1002.2H1004.9V754.4H1007.6H1010.3V759.8H1013.0V757.1H1015.7H1018.4H1021.1V754.4H1023.8V749.0H1026.5V740.9H1029.2H1031.9H1034.6H1037.3H1040.0V751.7H1042.7H1045.4V754.4H1048.1V751.7H1050.8V746.3H1053.5H1056.2V751.7H1058.9V757.1H1061.6V754.4H1064.3H1067.0H1069.7H1072.4V743.6H1075.1H1077.8V757.1H1080.5H1083.2H1085.9H1088.6H1091.3V759.8H1094.0V757.1H1096.7H1099.4V759.8H1102.1H1104.8V765.2H1107.5V759.8H1110.2V762.5H1112.9V757.1H1115.6H1118.3V759.8H1121.0H1123.7H1126.4H1129.1V762.5H1131.8V754.4H1134.5H1137.2V759.8H1139.9H1142.6H1145.3H1148.0H1150.7H1153.4V754.4H1156.1V759.8H1158.8H1161.5V757.1H1164.2H1166.9H1169.6V751.7H1172.3H1175.0V759.8H1177.7V762.5H1180.4H1183.1V759.8H1185.8H1188.5H1191.2H1193.9H1196.6H1199.3V762.5H1202.0V757.1H1204.7V759.8H1207.4H1210.1H1212.8V757.1H1215.5H1218.2V762.5H1220.9V759.8H1223.6V762.5H1226.3V759.8H1229.0V754.4H1231.7V757.1H1234.4V749.0H1237.1H1239.8H1242.5H1245.2V754.4H1247.9H1250.6V757.1H1253.3V749.0H1256.0V754.4H1258.7H1261.4H1264.1V740.9H1266.8H1269.5V757.1H1272.2V754.4H1274.9H1277.6V749.0H1280.3H1283.0V757.1H1285.7V751.7H1288.4H1291.1V757.1H1293.8V759.8H1296.5H1299.2V757.1H1301.9V759.8H1304.6H1307.3H1310.0H1312.7V762.5H1315.4V759.8H1318.1H1320.8H1323.5H1326.2H1328.9H1331.6H1334.3H1337.0H1339.7H1342.4H1345.1H1347.8V749.0H1350.5H1353.2V759.8H1355.9H1358.6V762.5H1361.3V757.1H1364.0V759.8H1366.7H1369.4V762.5H1372.1V759.8H1374.8H1377.5H1380.2H1382.9H1385.6H1388.3V762.5H1391.0V759.8H1393.7H1396.4H1399.1V757.1H1401.8H1404.5V759.8H1407.2H1409.9H1412.6H1415.3V762.5H1418.0V759.8H1420.7H1423.4V749.0H1426.1H1428.8V757.1H1431.5V759.8H1434.2V757.1H1436.9H1439.6H1442.3V759.8H1445.0H1447.7H1450.4V762.5H1453.1H1455.8V759.8H1458.5H1461.2H1463.9H1466.6H1469.3H1472.0V762.5H1474.7H1477.4H1480.1V757.1H1482.8H1485.5V759.8H1488.2H1490.9V762.5H1493.6V765.2H1496.3V759.8H1499.0H1501.7H1504.4V762.5H1507.1H1509.8V757.1H1512.5V754.4H1515.2H1517.9V757.1H1520.6H1523.3H1526.0H1528.7V762.5H1531.4V759.8H1534.1H1536.8H1539.5H1542.2V762.5H1544.9V757.1H1547.6H1550.3V762.5H1553.0V759.8H1555.7H1558.4V762.5H1561.1H1563.8H1566.5V759.8H1569.2H1571.9V757.1H1574.6V762.5H1577.3H1580.0V751.7H1582.7H1585.4V762.5H1588.1H1590.8V757.1H1593.5H1596.2V759.8H1598.9V762.5H1601.6V759.8H1604.3V762.5H1607.0H1609.7H1612.4V759.8H1615.1V757.1H1617.8V762.5H1620.5H1623.2H1625.9H1628.6H1631.3H1634.0H1636.7H1639.4V759.8H1642.1V757.1H1644.8V762.5H1647.5H1650.2H1652.9H1655.6H1658.3V754.4H1661.0V759.8H1663.7V762.5H1666.4H1669.1H1671.8H1674.5H1677.2H1679.9V759.8H1682.6V762.5H1685.3H1688.0V759.8H1690.7V762.5H1693.4H1696.1H1698.8H1701.5H1704.2H1706.9H1709.6H1712.3H1715.0H1717.7H1720.4H1723.1V759.8H1725.8V757.1H1728.5V762.5H1731.2V770.6H1728.5H1725.8H1723.1H1720.4H1717.7H1715.0H1712.3H1709.6H1706.9H1704.2V767.9H1701.5V770.6H1698.8H1696.1H1693.4H1690.7H1688.0H1685.3H1682.6H1679.9H1677.2H1674.5H1671.8H1669.1V767.9H1666.4V770.6H1663.7H1661.0H1658.3V767.9H1655.6V770.6H1652.9H1650.2H1647.5H1644.8H1642.1H1639.4H1636.7V767.9H1634.0H1631.3V770.6H1628.6V767.9H1625.9V770.6H1623.2H1620.5H1617.8H1615.1H1612.4H1609.7H1607.0H1604.3H1601.6V767.9H1598.9V770.6H1596.2V767.9H1593.5V770.6H1590.8H1588.1H1585.4H1582.7V767.9H1580.0V770.6H1577.3V767.9H1574.6V770.6H1571.9V767.9H1569.2V770.6H1566.5H1563.8H1561.1H1558.4H1555.7H1553.0H1550.3H1547.6H1544.9H1542.2H1539.5H1536.8H1534.1H1531.4H1528.7H1526.0V765.2H1523.3V767.9H1520.6H1517.9V770.6H1515.2V767.9H1512.5V770.6H1509.8H1507.1H1504.4H1501.7H1499.0H1496.3H1493.6H1490.9H1488.2H1485.5H1482.8H1480.1H1477.4H1474.7H1472.0H1469.3H1466.6H1463.9H1461.2H1458.5H1455.8H1453.1H1450.4H1447.7H1445.0H1442.3H1439.6H1436.9H1434.2H1431.5V767.9H1428.8V770.6H1426.1V767.9H1423.4V770.6H1420.7H1418.0H1415.3V767.9H1412.6V770.6H1409.9V767.9H1407.2V770.6H1404.5H1401.8V767.9H1399.1H1396.4V770.6H1393.7H1391.0H1388.3H1385.6H1382.9H1380.2H1377.5H1374.8H1372.1H1369.4H1366.7H1364.0V765.2H1361.3V770.6H1358.6V765.2H1355.9V770.6H1353.2V767.9H1350.5V770.6H1347.8H1345.1H1342.4H1339.7H1337.0V767.9H1334.3V770.6H1331.6H1328.9V767.9H1326.2H1323.5V770.6H1320.8H1318.1H1315.4H1312.7H1310.0V767.9H1307.3V770.6H1304.6V767.9H1301.9V770.6H1299.2V767.9H1296.5V770.6H1293.8H1291.1V767.9H1288.4V765.2H1285.7V770.6H1283.0V765.2H1280.3V770.6H1277.6H1274.9H1272.2H1269.5H1266.8V767.9H1264.1V770.6H1261.4V767.9H1258.7H1256.0H1253.3V770.6H1250.6H1247.9V762.5H1245.2V770.6H1242.5H1239.8H1237.1V767.9H1234.4V770.6H1231.7H1229.0H1226.3H1223.6H1220.9H1218.2V767.9H1215.5V770.6H1212.8V765.2H1210.1V770.6H1207.4H1204.7H1202.0H1199.3V767.9H1196.6V770.6H1193.9V767.9H1191.2V770.6H1188.5H1185.8V767.9H1183.1V770.6H1180.4H1177.7H1175.0H1172.3H1169.6H1166.9H1164.2H1161.5H1158.8H1156.1H1153.4H1150.7H1148.0H1145.3H1142.6H1139.9V767.9H1137.2H1134.5V770.6H1131.8H1129.1V767.9H1126.4V765.2H1123.7V770.6H1121.0H1118.3H1115.6H1112.9H1110.2H1107.5H1104.8V767.9H1102.1V770.6H1099.4H1096.7H1094.0H1091.3H1088.6H1085.9H1083.2V765.2H1080.5V770.6H1077.8V765.2H1075.1V770.6H1072.4H1069.7H1067.0V765.2H1064.3V770.6H1061.6V767.9H1058.9V770.6H1056.2V765.2H1053.5H1050.8V770.6H1048.1V765.2H1045.4V767.9H1042.7V765.2H1040.0V762.5H1037.3V765.2H1034.6H1031.9H1029.2V767.9H1026.5V762.5H1023.8V767.9H1021.1V770.6H1018.4H1015.7H1013.0V767.9H1010.3V765.2H1007.6V770.6H1004.9H1002.2H999.5H996.8V767.9H994.1V770.6H991.4H988.7V767.9H986.0V770.6H983.3H980.6H977.9V767.9H975.2V770.6H972.5H969.8H967.1V767.9H964.4V765.2H961.7V767.9H959.0V770.6H956.3V767.9H953.6V770.6H950.9H948.2H945.5H942.8H940.1H937.4V767.9H934.7V770.6H932.0H929.3H926.6H923.9V759.8H921.2V770.6H918.5H915.8V767.9H913.1V770.6H910.4V767.9H907.7V770.6H905.0H902.3H899.6V767.9H896.9V770.6H894.2H891.5H888.8H886.1H883.4V765.2H880.7V770.6H878.0H875.3V767.9H872.6V770.6H869.9H867.2V767.9H864.5V765.2H861.8V770.6H859.1H856.4H853.7H851.0V767.9H848.3V765.2H845.6V770.6H842.9V767.9H840.2V770.6H837.5H834.8H832.1H829.4V767.9H826.7V770.6H824.0H821.3V767.9H818.6V770.6H815.9H813.2H810.5H807.8H805.1H802.4H799.7V767.9H797.0H794.3H791.6V770.6H788.9H786.2H783.5H780.8H778.1H775.4V767.9H772.7V770.6H770.0V767.9H767.3H764.6V770.6H761.9H759.2V767.9H756.5V740.9H753.8V767.9H751.1V770.6H748.4H745.7H743.0V767.9H740.3H737.6V770.6H734.9H732.2V762.5H729.5V770.6H726.8H724.1H721.4H718.7V767.9H716.0V770.6H713.3H710.6H707.9H705.2H702.5H699.8H697.1H694.4V767.9H691.7V770.6H689.0V765.2H686.3V759.8H683.6V746.3H680.9V759.8H678.2V708.5H675.5V765.2H672.8V770.6H670.1V767.9H667.4V770.6H664.7H662.0V762.5H659.3V770.6H656.6V767.9H653.9H651.2V770.6H648.5H645.8V767.9H643.1V770.6H640.4V765.2H637.7H635.0V762.5H632.3V754.4H629.6V759.8H626.9V767.9H624.2H621.5V746.3H618.8V765.2H616.1V759.8H613.4V770.6H610.7H608.0V762.5H605.3V767.9H602.6H599.9V770.6H597.2H594.5H591.8V767.9H589.1V770.6H586.4H583.7H581.0V767.9H578.3V770.6H575.6H572.9H570.2H567.5H564.8H562.1H559.4H556.7V767.9H554.0V770.6H551.3H548.6H545.9H543.2V767.9H540.5H537.8V770.6H535.1V767.9H532.4V770.6H529.7V767.9H527.0H524.3V770.6H521.6V762.5H518.9V767.9H516.2V770.6H513.5H510.8H508.1H505.4V767.9H502.7V770.6H500.0H497.3H494.6H491.9V767.9H489.2V770.6H486.5V767.9H483.8V770.6H481.1V767.9H478.4V770.6H475.7H473.0H470.3H467.6V767.9H464.9V770.6H462.2V713.9H459.5V754.4H456.8V762.5H454.1V757.1H451.4V765.2H448.7V719.3H446.0V749.0H443.3V732.8H440.6V719.3H437.9H435.2V722.0H432.5V732.8H429.8V730.1H427.1V727.4H424.4V724.7H421.7V759.8H419.0V749.0H416.3V770.6H413.6V767.9H410.9V746.3H408.2V770.6H405.5H402.8V765.2H400.1V767.9H397.4H394.7H392.0V765.2H389.3V767.9H386.6H383.9V770.6H381.2V767.9H378.5V770.6H375.8H373.1H370.4H367.7H365.0H362.3V759.8H359.6V762.5H356.9H354.2V759.8H351.5V762.5H348.8H346.1V770.6H343.4H340.7H338.0H335.3H332.6H329.9H327.2H324.5H321.8H319.1Z" fill="#ff78e0" clip-path="url(#cp4)" shape-rendering="crispEdges"/>
<g fill="#000">
<rect x="187.7" y="56" width="1672.3" height="4.8"/>
<rect x="187.7" y="1411.2" width="1672.3" height="5.3"/>
<rect x="187.7" y="56" width="5.3" height="1384.7"/>
<rect x="1854.6" y="56" width="5.4" height="1373"/>
<rect x="444.0" y="1414" width="5.4" height="26.7"/>
<rect x="700.5" y="1414" width="5.4" height="26.7"/>
<rect x="957.0" y="1414" width="5.4" height="26.7"/>
<rect x="1213.5" y="1414" width="5.4" height="26.7"/>
<rect x="1470.0" y="1414" width="5.4" height="26.7"/>
<rect x="1726.5" y="1414" width="5.4" height="26.7"/>
<rect x="315.8" y="1414" width="5.4" height="15"/>
<rect x="572.3" y="1414" width="5.4" height="15"/>
<rect x="828.8" y="1414" width="5.4" height="15"/>
<rect x="1085.3" y="1414" width="5.4" height="15"/>
<rect x="1341.8" y="1414" width="5.4" height="15"/>
<rect x="1598.2" y="1414" width="5.4" height="15"/>
</g>
<text x="190.2" y="1497.6" font-family="Liberation Sans, Arial, sans-serif" font-size="55" text-anchor="middle">0</text>
<text x="446.7" y="1497.6" font-family="Liberation Sans, Arial, sans-serif" font-size="55" text-anchor="middle">10</text>
<text x="703.2" y="1497.6" font-family="Liberation Sans, Arial, sans-serif" font-size="55" text-anchor="middle">20</text>
<text x="959.7" y="1497.6" font-family="Liberation Sans, Arial, sans-serif" font-size="55" text-anchor="middle">30</text>
<text x="1216.2" y="1497.6" font-family="Liberation Sans, Arial, sans-serif" font-size="55" text-anchor="middle">40</text>
<text x="1472.7" y="1497.6" font-family="Liberation Sans, Arial, sans-serif" font-size="55" text-anchor="middle">50</text>
<text x="1729.2" y="1497.6" font-family="Liberation Sans, Arial, sans-serif" font-size="55" text-anchor="middle">60</text>
<text x="332.8" y="227.3" font-family="Liberation Sans, serif" font-size="38.5" letter-spacing="-0.4">9.231</text>
<text x="447.5" y="260.1" font-family="Liberation Sans, serif" font-size="38.5" letter-spacing="0.85">9.579</text>
<text x="656.4" y="372.0" font-family="Liberation Sans, serif" font-size="38.5" letter-spacing="-0.15">18.981</text>
<text transform="translate(547.4,502.6) scale(1,1.1)" font-family="Liberation Sans, serif" font-size="38.5" letter-spacing="-0.15">16.671</text>
<text x="742.2" y="481.0" font-family="Liberation Sans, serif" font-size="38.5" letter-spacing="0.7">22.088</text>
<text x="1352.9" y="477.8" font-family="Liberation Serif, serif" font-size="68.2" letter-spacing="0.2">M-200</text>
<text x="1355.0" y="667.8" font-family="Liberation Serif, serif" font-size="67.5" letter-spacing="-0.3">M-170</text>
<text x="1355.6" y="847.2" font-family="Liberation Serif, serif" font-size="67.5" letter-spacing="0.2">M-150</text>
<text x="1361.0" y="1034.2" font-family="Liberation Serif, serif" font-size="67.5">M-120</text>
<text x="1386.3" y="1219.0" font-family="Liberation Serif, serif" font-size="67.5" letter-spacing="-0.3">M-0</text>
<text x="767.5" y="1601.8" font-family="Liberation Sans, Arial, sans-serif" font-size="68.4">2-Theta (degree)</text>
<text transform="translate(117.0,1037.3) rotate(-90)" font-family="Liberation Sans, Arial, sans-serif" font-size="67.6">Relative Intensity</text>
</svg>
</body></html>
